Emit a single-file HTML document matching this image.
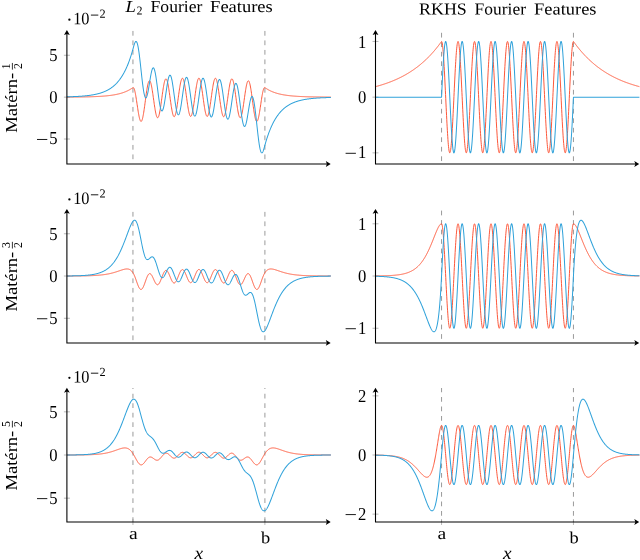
<!DOCTYPE html>
<html><head><meta charset="utf-8"><title>Fourier Features</title>
<style>
html,body{margin:0;padding:0;background:#fff;}
svg{display:block;will-change:transform;}
text{font-family:"Liberation Serif",serif;fill:#000;}
.ax{stroke:#000;stroke-width:1.08;fill:none;}
.tk{stroke:#8a8a8a;stroke-width:0.6;fill:none;}
.gd{stroke:#888888;stroke-width:0.85;fill:none;stroke-dasharray:4.75 4.75;}
.cb{stroke:#30a2da;stroke-width:1.02;fill:none;stroke-linejoin:round;}
.cr{stroke:#fc4f30;stroke-width:0.95;fill:none;stroke-linejoin:round;}
.mn{stroke:#000;stroke-width:0.9;}
</style></head>
<body>
<svg width="640" height="560" viewBox="0 0 640 560">
<rect x="0" y="0" width="640" height="560" fill="#fff"/>
<g>
<line class="gd" x1="132.95" y1="30.30" x2="132.95" y2="164.00" stroke-dashoffset="8.85"/>
<line class="gd" x1="264.90" y1="30.30" x2="264.90" y2="164.00" stroke-dashoffset="8.85"/>
<line class="tk" x1="63.90" y1="139.03" x2="69.90" y2="139.03"/>
<text x="57.60" y="144.48" transform="rotate(0.03 57.60 144.48)" font-size="18.2" text-anchor="end" textLength="8.3" lengthAdjust="spacingAndGlyphs">5</text>
<line class="mn" x1="37.00" y1="139.48" x2="47.30" y2="139.48"/>
<line class="tk" x1="63.90" y1="97.15" x2="69.90" y2="97.15"/>
<text x="57.60" y="103.30" transform="rotate(0.03 57.60 103.30)" font-size="18.2" text-anchor="end" textLength="8.3" lengthAdjust="spacingAndGlyphs">0</text>
<line class="tk" x1="63.90" y1="55.27" x2="69.90" y2="55.27"/>
<text x="57.60" y="61.42" transform="rotate(0.03 57.60 61.42)" font-size="18.2" text-anchor="end" textLength="8.3" lengthAdjust="spacingAndGlyphs">5</text>
<path class="cr" d="M66.97,97.09 L67.17,97.08 L67.37,97.08 L67.57,97.08 L67.77,97.08 L67.97,97.08 L68.17,97.08 L68.37,97.08 L68.57,97.08 L68.77,97.08 L68.97,97.08 L69.17,97.07 L69.37,97.07 L69.57,97.07 L69.77,97.07 L69.97,97.07 L70.17,97.07 L70.37,97.07 L70.57,97.07 L70.77,97.06 L70.97,97.06 L71.17,97.06 L71.37,97.06 L71.57,97.06 L71.77,97.06 L71.97,97.06 L72.17,97.05 L72.37,97.05 L72.57,97.05 L72.77,97.05 L72.97,97.05 L73.17,97.05 L73.37,97.05 L73.57,97.04 L73.77,97.04 L73.97,97.04 L74.17,97.04 L74.37,97.04 L74.57,97.04 L74.77,97.03 L74.97,97.03 L75.17,97.03 L75.37,97.03 L75.57,97.03 L75.77,97.02 L75.97,97.02 L76.17,97.02 L76.37,97.02 L76.57,97.02 L76.77,97.01 L76.97,97.01 L77.17,97.01 L77.37,97.01 L77.57,97.01 L77.77,97.00 L77.97,97.00 L78.17,97.00 L78.37,97.00 L78.57,96.99 L78.77,96.99 L78.97,96.99 L79.17,96.99 L79.37,96.99 L79.57,96.98 L79.77,96.98 L79.97,96.98 L80.17,96.97 L80.37,96.97 L80.57,96.97 L80.77,96.97 L80.97,96.96 L81.17,96.96 L81.37,96.96 L81.57,96.96 L81.77,96.95 L81.97,96.95 L82.17,96.95 L82.37,96.94 L82.57,96.94 L82.77,96.94 L82.97,96.93 L83.17,96.93 L83.37,96.93 L83.57,96.92 L83.77,96.92 L83.97,96.92 L84.17,96.91 L84.37,96.91 L84.57,96.91 L84.77,96.90 L84.97,96.90 L85.17,96.89 L85.37,96.89 L85.57,96.89 L85.77,96.88 L85.97,96.88 L86.17,96.87 L86.37,96.87 L86.57,96.87 L86.77,96.86 L86.97,96.86 L87.17,96.85 L87.37,96.85 L87.57,96.84 L87.77,96.84 L87.97,96.83 L88.17,96.83 L88.37,96.82 L88.57,96.82 L88.77,96.81 L88.97,96.81 L89.17,96.80 L89.37,96.80 L89.57,96.79 L89.77,96.79 L89.97,96.78 L90.17,96.78 L90.37,96.77 L90.57,96.76 L90.77,96.76 L90.97,96.75 L91.17,96.75 L91.37,96.74 L91.57,96.73 L91.77,96.73 L91.97,96.72 L92.17,96.72 L92.37,96.71 L92.57,96.70 L92.77,96.69 L92.97,96.69 L93.17,96.68 L93.36,96.67 L93.56,96.67 L93.76,96.66 L93.96,96.65 L94.16,96.64 L94.36,96.64 L94.56,96.63 L94.76,96.62 L94.96,96.61 L95.16,96.60 L95.36,96.60 L95.56,96.59 L95.76,96.58 L95.96,96.57 L96.16,96.56 L96.36,96.55 L96.56,96.54 L96.76,96.53 L96.96,96.52 L97.16,96.51 L97.36,96.51 L97.56,96.50 L97.76,96.49 L97.96,96.48 L98.16,96.46 L98.36,96.45 L98.56,96.44 L98.76,96.43 L98.96,96.42 L99.16,96.41 L99.36,96.40 L99.56,96.39 L99.76,96.38 L99.96,96.36 L100.16,96.35 L100.36,96.34 L100.56,96.33 L100.76,96.32 L100.96,96.30 L101.16,96.29 L101.36,96.28 L101.56,96.26 L101.76,96.25 L101.96,96.24 L102.16,96.22 L102.36,96.21 L102.56,96.19 L102.76,96.18 L102.96,96.16 L103.16,96.15 L103.36,96.13 L103.56,96.12 L103.76,96.10 L103.96,96.09 L104.16,96.07 L104.36,96.05 L104.56,96.04 L104.76,96.02 L104.96,96.00 L105.16,95.99 L105.36,95.97 L105.56,95.95 L105.76,95.93 L105.96,95.91 L106.16,95.89 L106.36,95.87 L106.56,95.86 L106.76,95.84 L106.96,95.82 L107.16,95.80 L107.36,95.77 L107.56,95.75 L107.76,95.73 L107.96,95.71 L108.16,95.69 L108.36,95.67 L108.56,95.64 L108.76,95.62 L108.96,95.60 L109.16,95.57 L109.36,95.55 L109.56,95.53 L109.76,95.50 L109.96,95.48 L110.16,95.45 L110.36,95.42 L110.56,95.40 L110.76,95.37 L110.96,95.34 L111.16,95.32 L111.36,95.29 L111.56,95.26 L111.76,95.23 L111.96,95.20 L112.16,95.17 L112.36,95.14 L112.56,95.11 L112.76,95.08 L112.96,95.05 L113.16,95.02 L113.36,94.98 L113.56,94.95 L113.76,94.92 L113.96,94.88 L114.16,94.85 L114.36,94.81 L114.56,94.78 L114.76,94.74 L114.96,94.70 L115.16,94.67 L115.36,94.63 L115.56,94.59 L115.76,94.55 L115.96,94.51 L116.16,94.47 L116.36,94.43 L116.56,94.39 L116.76,94.35 L116.96,94.30 L117.16,94.26 L117.36,94.22 L117.56,94.17 L117.76,94.13 L117.96,94.08 L118.16,94.03 L118.36,93.99 L118.56,93.94 L118.76,93.89 L118.96,93.84 L119.16,93.79 L119.36,93.74 L119.56,93.68 L119.75,93.63 L119.95,93.58 L120.15,93.52 L120.35,93.47 L120.55,93.41 L120.75,93.35 L120.95,93.30 L121.15,93.24 L121.35,93.18 L121.55,93.12 L121.75,93.06 L121.95,92.99 L122.15,92.93 L122.35,92.86 L122.55,92.80 L122.75,92.73 L122.95,92.67 L123.15,92.60 L123.35,92.53 L123.55,92.46 L123.75,92.39 L123.95,92.31 L124.15,92.24 L124.35,92.16 L124.55,92.09 L124.75,92.01 L124.95,91.93 L125.15,91.85 L125.35,91.77 L125.55,91.69 L125.75,91.61 L125.95,91.52 L126.15,91.44 L126.35,91.35 L126.55,91.26 L126.75,91.17 L126.95,91.08 L127.15,90.99 L127.35,90.89 L127.55,90.80 L127.75,90.70 L127.95,90.60 L128.15,90.50 L128.35,90.40 L128.55,90.30 L128.75,90.19 L128.95,90.09 L129.15,89.98 L129.35,89.87 L129.55,89.76 L129.75,89.64 L129.95,89.53 L130.15,89.41 L130.35,89.29 L130.55,89.17 L130.75,89.05 L130.95,88.93 L131.15,88.80 L131.35,88.68 L131.55,88.55 L131.75,88.42 L131.95,88.28 L132.15,88.15 L132.35,88.01 L132.55,87.87 L132.75,87.73 L132.95,87.58 L133.15,87.50 L133.35,87.52 L133.55,87.66 L133.75,87.90 L133.95,88.26 L134.15,88.72 L134.35,89.28 L134.55,89.94 L134.75,90.69 L134.95,91.53 L135.15,92.45 L135.35,93.44 L135.55,94.51 L135.75,95.64 L135.95,96.82 L136.15,98.06 L136.35,99.33 L136.55,100.63 L136.75,101.96 L136.95,103.31 L137.15,104.66 L137.35,106.00 L137.55,107.34 L137.75,108.66 L137.95,109.96 L138.15,111.22 L138.35,112.43 L138.55,113.60 L138.75,114.71 L138.95,115.75 L139.15,116.72 L139.35,117.62 L139.55,118.43 L139.75,119.15 L139.95,119.78 L140.15,120.32 L140.35,120.75 L140.55,121.08 L140.75,121.30 L140.95,121.41 L141.15,121.42 L141.35,121.31 L141.55,121.10 L141.75,120.78 L141.95,120.35 L142.15,119.81 L142.35,119.17 L142.55,118.43 L142.75,117.60 L142.95,116.67 L143.15,115.66 L143.35,114.57 L143.55,113.41 L143.75,112.17 L143.95,110.87 L144.15,109.52 L144.35,108.13 L144.55,106.69 L144.75,105.22 L144.95,103.73 L145.15,102.22 L145.35,100.71 L145.55,99.20 L145.75,97.70 L145.95,96.21 L146.14,94.76 L146.34,93.34 L146.54,91.96 L146.74,90.63 L146.94,89.37 L147.14,88.16 L147.34,87.03 L147.54,85.98 L147.74,85.01 L147.94,84.13 L148.14,83.34 L148.34,82.65 L148.54,82.07 L148.74,81.59 L148.94,81.21 L149.14,80.95 L149.34,80.80 L149.54,80.75 L149.74,80.82 L149.94,81.00 L150.14,81.29 L150.34,81.69 L150.54,82.20 L150.74,82.80 L150.94,83.50 L151.14,84.30 L151.34,85.19 L151.54,86.16 L151.74,87.20 L151.94,88.32 L152.14,89.51 L152.34,90.75 L152.54,92.04 L152.74,93.37 L152.94,94.74 L153.14,96.14 L153.34,97.55 L153.54,98.98 L153.74,100.40 L153.94,101.82 L154.14,103.23 L154.34,104.61 L154.54,105.96 L154.74,107.26 L154.94,108.52 L155.14,109.73 L155.34,110.87 L155.54,111.95 L155.74,112.95 L155.94,113.87 L156.14,114.70 L156.34,115.44 L156.54,116.08 L156.74,116.62 L156.94,117.06 L157.14,117.40 L157.34,117.62 L157.54,117.74 L157.74,117.74 L157.94,117.64 L158.14,117.42 L158.34,117.10 L158.54,116.67 L158.74,116.13 L158.94,115.49 L159.14,114.76 L159.34,113.93 L159.54,113.01 L159.74,112.00 L159.94,110.92 L160.14,109.76 L160.34,108.54 L160.54,107.26 L160.74,105.93 L160.94,104.56 L161.14,103.15 L161.34,101.71 L161.54,100.25 L161.74,98.78 L161.94,97.31 L162.14,95.84 L162.34,94.39 L162.54,92.95 L162.74,91.55 L162.94,90.19 L163.14,88.88 L163.34,87.61 L163.54,86.41 L163.74,85.28 L163.94,84.22 L164.14,83.24 L164.34,82.35 L164.54,81.55 L164.74,80.85 L164.94,80.24 L165.14,79.74 L165.34,79.34 L165.54,79.05 L165.74,78.88 L165.94,78.81 L166.14,78.85 L166.34,79.01 L166.54,79.27 L166.74,79.64 L166.94,80.12 L167.14,80.70 L167.34,81.39 L167.54,82.16 L167.74,83.03 L167.94,83.98 L168.14,85.02 L168.34,86.13 L168.54,87.31 L168.74,88.54 L168.94,89.83 L169.14,91.17 L169.34,92.55 L169.54,93.96 L169.74,95.38 L169.94,96.83 L170.14,98.27 L170.34,99.72 L170.54,101.15 L170.74,102.57 L170.94,103.95 L171.14,105.30 L171.34,106.61 L171.54,107.86 L171.74,109.06 L171.94,110.19 L172.14,111.24 L172.34,112.22 L172.53,113.11 L172.73,113.92 L172.93,114.63 L173.13,115.24 L173.33,115.75 L173.53,116.15 L173.73,116.45 L173.93,116.63 L174.13,116.71 L174.33,116.68 L174.53,116.53 L174.73,116.28 L174.93,115.91 L175.13,115.45 L175.33,114.87 L175.53,114.20 L175.73,113.43 L175.93,112.57 L176.13,111.62 L176.33,110.59 L176.53,109.48 L176.73,108.31 L176.93,107.07 L177.13,105.78 L177.33,104.43 L177.53,103.05 L177.73,101.64 L177.93,100.20 L178.13,98.75 L178.33,97.29 L178.53,95.83 L178.73,94.38 L178.93,92.95 L179.13,91.54 L179.33,90.17 L179.53,88.84 L179.73,87.56 L179.93,86.34 L180.13,85.18 L180.33,84.10 L180.53,83.09 L180.73,82.16 L180.93,81.32 L181.13,80.58 L181.33,79.93 L181.53,79.39 L181.73,78.95 L181.93,78.62 L182.13,78.39 L182.33,78.28 L182.53,78.27 L182.73,78.38 L182.93,78.60 L183.13,78.93 L183.33,79.36 L183.53,79.90 L183.73,80.54 L183.93,81.28 L184.13,82.11 L184.33,83.03 L184.53,84.03 L184.73,85.11 L184.93,86.26 L185.13,87.48 L185.33,88.75 L185.53,90.07 L185.73,91.44 L185.93,92.84 L186.13,94.26 L186.33,95.71 L186.53,97.16 L186.73,98.61 L186.93,100.06 L187.13,101.49 L187.33,102.90 L187.53,104.27 L187.73,105.61 L187.93,106.89 L188.13,108.12 L188.33,109.29 L188.53,110.39 L188.73,111.41 L188.93,112.36 L189.13,113.21 L189.33,113.97 L189.53,114.64 L189.73,115.21 L189.93,115.67 L190.13,116.02 L190.33,116.27 L190.53,116.41 L190.73,116.43 L190.93,116.35 L191.13,116.15 L191.33,115.85 L191.53,115.44 L191.73,114.92 L191.93,114.30 L192.13,113.59 L192.33,112.77 L192.53,111.87 L192.73,110.89 L192.93,109.82 L193.13,108.68 L193.33,107.48 L193.53,106.22 L193.73,104.90 L193.93,103.55 L194.13,102.15 L194.33,100.73 L194.53,99.29 L194.73,97.83 L194.93,96.37 L195.13,94.92 L195.33,93.48 L195.53,92.07 L195.73,90.68 L195.93,89.33 L196.13,88.03 L196.33,86.79 L196.53,85.60 L196.73,84.48 L196.93,83.43 L197.13,82.47 L197.33,81.59 L197.53,80.80 L197.73,80.11 L197.93,79.52 L198.13,79.03 L198.33,78.64 L198.53,78.37 L198.73,78.20 L198.92,78.15 L199.12,78.20 L199.32,78.37 L199.52,78.64 L199.72,79.03 L199.92,79.52 L200.12,80.11 L200.32,80.80 L200.52,81.59 L200.72,82.47 L200.92,83.43 L201.12,84.48 L201.32,85.60 L201.52,86.79 L201.72,88.03 L201.92,89.33 L202.12,90.68 L202.32,92.07 L202.52,93.48 L202.72,94.92 L202.92,96.37 L203.12,97.83 L203.32,99.29 L203.52,100.73 L203.72,102.15 L203.92,103.55 L204.12,104.90 L204.32,106.22 L204.52,107.48 L204.72,108.68 L204.92,109.82 L205.12,110.89 L205.32,111.87 L205.52,112.77 L205.72,113.59 L205.92,114.30 L206.12,114.92 L206.32,115.44 L206.52,115.85 L206.72,116.15 L206.92,116.35 L207.12,116.43 L207.32,116.41 L207.52,116.27 L207.72,116.02 L207.92,115.67 L208.12,115.21 L208.32,114.64 L208.52,113.97 L208.72,113.21 L208.92,112.36 L209.12,111.41 L209.32,110.39 L209.52,109.29 L209.72,108.12 L209.92,106.89 L210.12,105.61 L210.32,104.27 L210.52,102.90 L210.72,101.49 L210.92,100.06 L211.12,98.61 L211.32,97.16 L211.52,95.71 L211.72,94.26 L211.92,92.84 L212.12,91.44 L212.32,90.07 L212.52,88.75 L212.72,87.48 L212.92,86.26 L213.12,85.11 L213.32,84.03 L213.52,83.03 L213.72,82.11 L213.92,81.28 L214.12,80.54 L214.32,79.90 L214.52,79.36 L214.72,78.93 L214.92,78.60 L215.12,78.38 L215.32,78.27 L215.52,78.28 L215.72,78.39 L215.92,78.62 L216.12,78.95 L216.32,79.39 L216.52,79.93 L216.72,80.58 L216.92,81.32 L217.12,82.16 L217.32,83.09 L217.52,84.10 L217.72,85.18 L217.92,86.34 L218.12,87.56 L218.32,88.84 L218.52,90.17 L218.72,91.54 L218.92,92.95 L219.12,94.38 L219.32,95.83 L219.52,97.29 L219.72,98.75 L219.92,100.20 L220.12,101.64 L220.32,103.05 L220.52,104.43 L220.72,105.78 L220.92,107.07 L221.12,108.31 L221.32,109.48 L221.52,110.59 L221.72,111.62 L221.92,112.57 L222.12,113.43 L222.32,114.20 L222.52,114.87 L222.72,115.45 L222.92,115.91 L223.12,116.28 L223.32,116.53 L223.52,116.68 L223.72,116.71 L223.92,116.63 L224.12,116.45 L224.32,116.15 L224.52,115.75 L224.72,115.24 L224.92,114.63 L225.12,113.92 L225.31,113.11 L225.51,112.22 L225.71,111.24 L225.91,110.19 L226.11,109.06 L226.31,107.86 L226.51,106.61 L226.71,105.30 L226.91,103.95 L227.11,102.57 L227.31,101.15 L227.51,99.72 L227.71,98.27 L227.91,96.83 L228.11,95.38 L228.31,93.96 L228.51,92.55 L228.71,91.17 L228.91,89.83 L229.11,88.54 L229.31,87.31 L229.51,86.13 L229.71,85.02 L229.91,83.98 L230.11,83.03 L230.31,82.16 L230.51,81.39 L230.71,80.70 L230.91,80.12 L231.11,79.64 L231.31,79.27 L231.51,79.01 L231.71,78.85 L231.91,78.81 L232.11,78.88 L232.31,79.05 L232.51,79.34 L232.71,79.74 L232.91,80.24 L233.11,80.85 L233.31,81.55 L233.51,82.35 L233.71,83.24 L233.91,84.22 L234.11,85.28 L234.31,86.41 L234.51,87.61 L234.71,88.88 L234.91,90.19 L235.11,91.55 L235.31,92.95 L235.51,94.39 L235.71,95.84 L235.91,97.31 L236.11,98.78 L236.31,100.25 L236.51,101.71 L236.71,103.15 L236.91,104.56 L237.11,105.93 L237.31,107.26 L237.51,108.54 L237.71,109.76 L237.91,110.92 L238.11,112.00 L238.31,113.01 L238.51,113.93 L238.71,114.76 L238.91,115.49 L239.11,116.13 L239.31,116.67 L239.51,117.10 L239.71,117.42 L239.91,117.64 L240.11,117.74 L240.31,117.74 L240.51,117.62 L240.71,117.40 L240.91,117.06 L241.11,116.62 L241.31,116.08 L241.51,115.44 L241.71,114.70 L241.91,113.87 L242.11,112.95 L242.31,111.95 L242.51,110.87 L242.71,109.73 L242.91,108.52 L243.11,107.26 L243.31,105.96 L243.51,104.61 L243.71,103.23 L243.91,101.82 L244.11,100.40 L244.31,98.98 L244.51,97.55 L244.71,96.14 L244.91,94.74 L245.11,93.37 L245.31,92.04 L245.51,90.75 L245.71,89.51 L245.91,88.32 L246.11,87.20 L246.31,86.16 L246.51,85.19 L246.71,84.30 L246.91,83.50 L247.11,82.80 L247.31,82.20 L247.51,81.69 L247.71,81.29 L247.91,81.00 L248.11,80.82 L248.31,80.75 L248.51,80.80 L248.71,80.95 L248.91,81.21 L249.11,81.59 L249.31,82.07 L249.51,82.65 L249.71,83.34 L249.91,84.13 L250.11,85.01 L250.31,85.98 L250.51,87.03 L250.71,88.16 L250.91,89.37 L251.11,90.63 L251.31,91.96 L251.51,93.34 L251.70,94.76 L251.90,96.21 L252.10,97.70 L252.30,99.20 L252.50,100.71 L252.70,102.22 L252.90,103.73 L253.10,105.22 L253.30,106.69 L253.50,108.13 L253.70,109.52 L253.90,110.87 L254.10,112.17 L254.30,113.41 L254.50,114.57 L254.70,115.66 L254.90,116.67 L255.10,117.60 L255.30,118.43 L255.50,119.17 L255.70,119.81 L255.90,120.35 L256.10,120.78 L256.30,121.10 L256.50,121.31 L256.70,121.42 L256.90,121.41 L257.10,121.30 L257.30,121.08 L257.50,120.75 L257.70,120.32 L257.90,119.78 L258.10,119.15 L258.30,118.43 L258.50,117.62 L258.70,116.72 L258.90,115.75 L259.10,114.71 L259.30,113.60 L259.50,112.43 L259.70,111.22 L259.90,109.96 L260.10,108.66 L260.30,107.34 L260.50,106.00 L260.70,104.66 L260.90,103.31 L261.10,101.96 L261.30,100.63 L261.50,99.33 L261.70,98.06 L261.90,96.82 L262.10,95.64 L262.30,94.51 L262.50,93.44 L262.70,92.45 L262.90,91.53 L263.10,90.69 L263.30,89.94 L263.50,89.28 L263.70,88.72 L263.90,88.26 L264.10,87.90 L264.30,87.66 L264.50,87.52 L264.70,87.50 L264.90,87.58 L265.10,87.73 L265.30,87.87 L265.50,88.01 L265.70,88.15 L265.90,88.28 L266.10,88.42 L266.30,88.55 L266.50,88.68 L266.70,88.80 L266.90,88.93 L267.10,89.05 L267.30,89.17 L267.50,89.29 L267.70,89.41 L267.90,89.53 L268.10,89.64 L268.30,89.76 L268.50,89.87 L268.70,89.98 L268.90,90.09 L269.10,90.19 L269.30,90.30 L269.50,90.40 L269.70,90.50 L269.90,90.60 L270.10,90.70 L270.30,90.80 L270.50,90.89 L270.70,90.99 L270.90,91.08 L271.10,91.17 L271.30,91.26 L271.50,91.35 L271.70,91.44 L271.90,91.52 L272.10,91.61 L272.30,91.69 L272.50,91.77 L272.70,91.85 L272.90,91.93 L273.10,92.01 L273.30,92.09 L273.50,92.16 L273.70,92.24 L273.90,92.31 L274.10,92.39 L274.30,92.46 L274.50,92.53 L274.70,92.60 L274.90,92.67 L275.10,92.73 L275.30,92.80 L275.50,92.86 L275.70,92.93 L275.90,92.99 L276.10,93.06 L276.30,93.12 L276.50,93.18 L276.70,93.24 L276.90,93.30 L277.10,93.35 L277.30,93.41 L277.50,93.47 L277.70,93.52 L277.90,93.58 L278.09,93.63 L278.29,93.68 L278.49,93.74 L278.69,93.79 L278.89,93.84 L279.09,93.89 L279.29,93.94 L279.49,93.99 L279.69,94.03 L279.89,94.08 L280.09,94.13 L280.29,94.17 L280.49,94.22 L280.69,94.26 L280.89,94.30 L281.09,94.35 L281.29,94.39 L281.49,94.43 L281.69,94.47 L281.89,94.51 L282.09,94.55 L282.29,94.59 L282.49,94.63 L282.69,94.67 L282.89,94.70 L283.09,94.74 L283.29,94.78 L283.49,94.81 L283.69,94.85 L283.89,94.88 L284.09,94.92 L284.29,94.95 L284.49,94.98 L284.69,95.02 L284.89,95.05 L285.09,95.08 L285.29,95.11 L285.49,95.14 L285.69,95.17 L285.89,95.20 L286.09,95.23 L286.29,95.26 L286.49,95.29 L286.69,95.32 L286.89,95.34 L287.09,95.37 L287.29,95.40 L287.49,95.42 L287.69,95.45 L287.89,95.48 L288.09,95.50 L288.29,95.53 L288.49,95.55 L288.69,95.57 L288.89,95.60 L289.09,95.62 L289.29,95.64 L289.49,95.67 L289.69,95.69 L289.89,95.71 L290.09,95.73 L290.29,95.75 L290.49,95.77 L290.69,95.80 L290.89,95.82 L291.09,95.84 L291.29,95.86 L291.49,95.87 L291.69,95.89 L291.89,95.91 L292.09,95.93 L292.29,95.95 L292.49,95.97 L292.69,95.99 L292.89,96.00 L293.09,96.02 L293.29,96.04 L293.49,96.05 L293.69,96.07 L293.89,96.09 L294.09,96.10 L294.29,96.12 L294.49,96.13 L294.69,96.15 L294.89,96.16 L295.09,96.18 L295.29,96.19 L295.49,96.21 L295.69,96.22 L295.89,96.24 L296.09,96.25 L296.29,96.26 L296.49,96.28 L296.69,96.29 L296.89,96.30 L297.09,96.32 L297.29,96.33 L297.49,96.34 L297.69,96.35 L297.89,96.36 L298.09,96.38 L298.29,96.39 L298.49,96.40 L298.69,96.41 L298.89,96.42 L299.09,96.43 L299.29,96.44 L299.49,96.45 L299.69,96.46 L299.89,96.48 L300.09,96.49 L300.29,96.50 L300.49,96.51 L300.69,96.51 L300.89,96.52 L301.09,96.53 L301.29,96.54 L301.49,96.55 L301.69,96.56 L301.89,96.57 L302.09,96.58 L302.29,96.59 L302.49,96.60 L302.69,96.60 L302.89,96.61 L303.09,96.62 L303.29,96.63 L303.49,96.64 L303.69,96.64 L303.89,96.65 L304.09,96.66 L304.29,96.67 L304.48,96.67 L304.68,96.68 L304.88,96.69 L305.08,96.69 L305.28,96.70 L305.48,96.71 L305.68,96.72 L305.88,96.72 L306.08,96.73 L306.28,96.73 L306.48,96.74 L306.68,96.75 L306.88,96.75 L307.08,96.76 L307.28,96.76 L307.48,96.77 L307.68,96.78 L307.88,96.78 L308.08,96.79 L308.28,96.79 L308.48,96.80 L308.68,96.80 L308.88,96.81 L309.08,96.81 L309.28,96.82 L309.48,96.82 L309.68,96.83 L309.88,96.83 L310.08,96.84 L310.28,96.84 L310.48,96.85 L310.68,96.85 L310.88,96.86 L311.08,96.86 L311.28,96.87 L311.48,96.87 L311.68,96.87 L311.88,96.88 L312.08,96.88 L312.28,96.89 L312.48,96.89 L312.68,96.89 L312.88,96.90 L313.08,96.90 L313.28,96.91 L313.48,96.91 L313.68,96.91 L313.88,96.92 L314.08,96.92 L314.28,96.92 L314.48,96.93 L314.68,96.93 L314.88,96.93 L315.08,96.94 L315.28,96.94 L315.48,96.94 L315.68,96.95 L315.88,96.95 L316.08,96.95 L316.28,96.96 L316.48,96.96 L316.68,96.96 L316.88,96.96 L317.08,96.97 L317.28,96.97 L317.48,96.97 L317.68,96.97 L317.88,96.98 L318.08,96.98 L318.28,96.98 L318.48,96.99 L318.68,96.99 L318.88,96.99 L319.08,96.99 L319.28,96.99 L319.48,97.00 L319.68,97.00 L319.88,97.00 L320.08,97.00 L320.28,97.01 L320.48,97.01 L320.68,97.01 L320.88,97.01 L321.08,97.01 L321.28,97.02 L321.48,97.02 L321.68,97.02 L321.88,97.02 L322.08,97.02 L322.28,97.03 L322.48,97.03 L322.68,97.03 L322.88,97.03 L323.08,97.03 L323.28,97.04 L323.48,97.04 L323.68,97.04 L323.88,97.04 L324.08,97.04 L324.28,97.04 L324.48,97.05 L324.68,97.05 L324.88,97.05 L325.08,97.05 L325.28,97.05 L325.48,97.05 L325.68,97.05 L325.88,97.06 L326.08,97.06 L326.28,97.06 L326.48,97.06 L326.68,97.06 L326.88,97.06 L327.08,97.06 L327.28,97.07 L327.48,97.07 L327.68,97.07 L327.88,97.07 L328.08,97.07 L328.28,97.07 L328.48,97.07 L328.68,97.07 L328.88,97.08 L329.08,97.08 L329.28,97.08 L329.48,97.08 L329.68,97.08 L329.88,97.08 L330.08,97.08 L330.28,97.08 L330.48,97.08 L330.68,97.08 L330.88,97.09"/>
<path class="cb" d="M66.97,96.83 L67.17,96.82 L67.37,96.82 L67.57,96.81 L67.77,96.81 L67.97,96.80 L68.17,96.80 L68.37,96.79 L68.57,96.78 L68.77,96.78 L68.97,96.77 L69.17,96.77 L69.37,96.76 L69.57,96.76 L69.77,96.75 L69.97,96.74 L70.17,96.74 L70.37,96.73 L70.57,96.72 L70.77,96.72 L70.97,96.71 L71.17,96.70 L71.37,96.70 L71.57,96.69 L71.77,96.68 L71.97,96.68 L72.17,96.67 L72.37,96.66 L72.57,96.65 L72.77,96.65 L72.97,96.64 L73.17,96.63 L73.37,96.62 L73.57,96.62 L73.77,96.61 L73.97,96.60 L74.17,96.59 L74.37,96.58 L74.57,96.57 L74.77,96.57 L74.97,96.56 L75.17,96.55 L75.37,96.54 L75.57,96.53 L75.77,96.52 L75.97,96.51 L76.17,96.50 L76.37,96.49 L76.57,96.48 L76.77,96.47 L76.97,96.46 L77.17,96.45 L77.37,96.44 L77.57,96.43 L77.77,96.42 L77.97,96.40 L78.17,96.39 L78.37,96.38 L78.57,96.37 L78.77,96.36 L78.97,96.35 L79.17,96.33 L79.37,96.32 L79.57,96.31 L79.77,96.30 L79.97,96.28 L80.17,96.27 L80.37,96.26 L80.57,96.24 L80.77,96.23 L80.97,96.21 L81.17,96.20 L81.37,96.19 L81.57,96.17 L81.77,96.16 L81.97,96.14 L82.17,96.13 L82.37,96.11 L82.57,96.09 L82.77,96.08 L82.97,96.06 L83.17,96.04 L83.37,96.03 L83.57,96.01 L83.77,95.99 L83.97,95.98 L84.17,95.96 L84.37,95.94 L84.57,95.92 L84.77,95.90 L84.97,95.88 L85.17,95.86 L85.37,95.84 L85.57,95.82 L85.77,95.80 L85.97,95.78 L86.17,95.76 L86.37,95.74 L86.57,95.72 L86.77,95.70 L86.97,95.68 L87.17,95.65 L87.37,95.63 L87.57,95.61 L87.77,95.58 L87.97,95.56 L88.17,95.54 L88.37,95.51 L88.57,95.49 L88.77,95.46 L88.97,95.43 L89.17,95.41 L89.37,95.38 L89.57,95.35 L89.77,95.33 L89.97,95.30 L90.17,95.27 L90.37,95.24 L90.57,95.21 L90.77,95.18 L90.97,95.15 L91.17,95.12 L91.37,95.09 L91.57,95.06 L91.77,95.03 L91.97,95.00 L92.17,94.96 L92.37,94.93 L92.57,94.90 L92.77,94.86 L92.97,94.83 L93.17,94.79 L93.36,94.76 L93.56,94.72 L93.76,94.68 L93.96,94.64 L94.16,94.61 L94.36,94.57 L94.56,94.53 L94.76,94.49 L94.96,94.45 L95.16,94.41 L95.36,94.36 L95.56,94.32 L95.76,94.28 L95.96,94.24 L96.16,94.19 L96.36,94.15 L96.56,94.10 L96.76,94.05 L96.96,94.01 L97.16,93.96 L97.36,93.91 L97.56,93.86 L97.76,93.81 L97.96,93.76 L98.16,93.71 L98.36,93.65 L98.56,93.60 L98.76,93.55 L98.96,93.49 L99.16,93.44 L99.36,93.38 L99.56,93.32 L99.76,93.26 L99.96,93.20 L100.16,93.14 L100.36,93.08 L100.56,93.02 L100.76,92.96 L100.96,92.89 L101.16,92.83 L101.36,92.76 L101.56,92.69 L101.76,92.63 L101.96,92.56 L102.16,92.49 L102.36,92.42 L102.56,92.34 L102.76,92.27 L102.96,92.20 L103.16,92.12 L103.36,92.04 L103.56,91.97 L103.76,91.89 L103.96,91.81 L104.16,91.72 L104.36,91.64 L104.56,91.56 L104.76,91.47 L104.96,91.39 L105.16,91.30 L105.36,91.21 L105.56,91.12 L105.76,91.03 L105.96,90.93 L106.16,90.84 L106.36,90.74 L106.56,90.64 L106.76,90.54 L106.96,90.44 L107.16,90.34 L107.36,90.24 L107.56,90.13 L107.76,90.02 L107.96,89.91 L108.16,89.80 L108.36,89.69 L108.56,89.58 L108.76,89.46 L108.96,89.35 L109.16,89.23 L109.36,89.11 L109.56,88.98 L109.76,88.86 L109.96,88.73 L110.16,88.60 L110.36,88.47 L110.56,88.34 L110.76,88.21 L110.96,88.07 L111.16,87.93 L111.36,87.79 L111.56,87.65 L111.76,87.50 L111.96,87.35 L112.16,87.20 L112.36,87.05 L112.56,86.90 L112.76,86.74 L112.96,86.58 L113.16,86.42 L113.36,86.26 L113.56,86.09 L113.76,85.92 L113.96,85.75 L114.16,85.58 L114.36,85.40 L114.56,85.22 L114.76,85.04 L114.96,84.85 L115.16,84.67 L115.36,84.48 L115.56,84.28 L115.76,84.09 L115.96,83.89 L116.16,83.68 L116.36,83.48 L116.56,83.27 L116.76,83.06 L116.96,82.84 L117.16,82.62 L117.36,82.40 L117.56,82.18 L117.76,81.95 L117.96,81.72 L118.16,81.48 L118.36,81.24 L118.56,81.00 L118.76,80.75 L118.96,80.50 L119.16,80.25 L119.36,79.99 L119.56,79.73 L119.75,79.46 L119.95,79.19 L120.15,78.92 L120.35,78.64 L120.55,78.36 L120.75,78.07 L120.95,77.78 L121.15,77.48 L121.35,77.18 L121.55,76.88 L121.75,76.57 L121.95,76.25 L122.15,75.93 L122.35,75.61 L122.55,75.28 L122.75,74.95 L122.95,74.61 L123.15,74.27 L123.35,73.92 L123.55,73.56 L123.75,73.20 L123.95,72.84 L124.15,72.46 L124.35,72.09 L124.55,71.70 L124.75,71.32 L124.95,70.92 L125.15,70.52 L125.35,70.11 L125.55,69.70 L125.75,69.28 L125.95,68.86 L126.15,68.43 L126.35,67.99 L126.55,67.54 L126.75,67.09 L126.95,66.63 L127.15,66.17 L127.35,65.69 L127.55,65.21 L127.75,64.72 L127.95,64.23 L128.15,63.73 L128.35,63.22 L128.55,62.70 L128.75,62.17 L128.95,61.64 L129.15,61.10 L129.35,60.55 L129.55,59.99 L129.75,59.42 L129.95,58.84 L130.15,58.26 L130.35,57.66 L130.55,57.06 L130.75,56.45 L130.95,55.83 L131.15,55.20 L131.35,54.56 L131.55,53.91 L131.75,53.25 L131.95,52.58 L132.15,51.90 L132.35,51.21 L132.55,50.50 L132.75,49.79 L132.95,49.07 L133.15,48.34 L133.35,47.60 L133.55,46.87 L133.75,46.16 L133.95,45.47 L134.15,44.81 L134.35,44.18 L134.55,43.61 L134.75,43.09 L134.95,42.63 L135.15,42.23 L135.35,41.91 L135.55,41.67 L135.75,41.51 L135.95,41.44 L136.15,41.46 L136.35,41.58 L136.55,41.80 L136.75,42.11 L136.95,42.53 L137.15,43.05 L137.35,43.67 L137.55,44.40 L137.75,45.23 L137.95,46.15 L138.15,47.18 L138.35,48.29 L138.55,49.50 L138.75,50.80 L138.95,52.17 L139.15,53.63 L139.35,55.15 L139.55,56.74 L139.75,58.39 L139.95,60.09 L140.15,61.84 L140.35,63.62 L140.55,65.43 L140.75,67.26 L140.95,69.11 L141.15,70.95 L141.35,72.80 L141.55,74.63 L141.75,76.45 L141.95,78.23 L142.15,79.98 L142.35,81.68 L142.55,83.33 L142.75,84.92 L142.95,86.44 L143.15,87.89 L143.35,89.26 L143.55,90.54 L143.75,91.73 L143.95,92.83 L144.15,93.82 L144.35,94.71 L144.55,95.49 L144.75,96.16 L144.95,96.72 L145.15,97.16 L145.35,97.49 L145.55,97.71 L145.75,97.80 L145.95,97.79 L146.14,97.66 L146.34,97.43 L146.54,97.08 L146.74,96.64 L146.94,96.09 L147.14,95.45 L147.34,94.72 L147.54,93.91 L147.74,93.03 L147.94,92.07 L148.14,91.04 L148.34,89.97 L148.54,88.84 L148.74,87.67 L148.94,86.47 L149.14,85.25 L149.34,84.01 L149.54,82.76 L149.74,81.51 L149.94,80.27 L150.14,79.05 L150.34,77.86 L150.54,76.70 L150.74,75.59 L150.94,74.52 L151.14,73.51 L151.34,72.56 L151.54,71.69 L151.74,70.89 L151.94,70.18 L152.14,69.55 L152.34,69.01 L152.54,68.57 L152.74,68.24 L152.94,68.00 L153.14,67.87 L153.34,67.85 L153.54,67.93 L153.74,68.13 L153.94,68.43 L154.14,68.84 L154.34,69.35 L154.54,69.97 L154.74,70.69 L154.94,71.51 L155.14,72.42 L155.34,73.43 L155.54,74.51 L155.74,75.68 L155.94,76.92 L156.14,78.22 L156.34,79.59 L156.54,81.01 L156.74,82.47 L156.94,83.97 L157.14,85.50 L157.34,87.05 L157.54,88.61 L157.74,90.18 L157.94,91.75 L158.14,93.30 L158.34,94.83 L158.54,96.34 L158.74,97.80 L158.94,99.22 L159.14,100.59 L159.34,101.90 L159.54,103.15 L159.74,104.32 L159.94,105.41 L160.14,106.41 L160.34,107.33 L160.54,108.15 L160.74,108.87 L160.94,109.48 L161.14,109.99 L161.34,110.40 L161.54,110.69 L161.74,110.87 L161.94,110.94 L162.14,110.89 L162.34,110.74 L162.54,110.47 L162.74,110.10 L162.94,109.62 L163.14,109.04 L163.34,108.36 L163.54,107.59 L163.74,106.73 L163.94,105.78 L164.14,104.76 L164.34,103.67 L164.54,102.51 L164.74,101.29 L164.94,100.03 L165.14,98.72 L165.34,97.38 L165.54,96.01 L165.74,94.62 L165.94,93.23 L166.14,91.83 L166.34,90.45 L166.54,89.07 L166.74,87.72 L166.94,86.41 L167.14,85.13 L167.34,83.91 L167.54,82.73 L167.74,81.63 L167.94,80.59 L168.14,79.62 L168.34,78.74 L168.54,77.95 L168.74,77.24 L168.94,76.64 L169.14,76.13 L169.34,75.73 L169.54,75.43 L169.74,75.24 L169.94,75.16 L170.14,75.19 L170.34,75.33 L170.54,75.58 L170.74,75.94 L170.94,76.41 L171.14,76.98 L171.34,77.65 L171.54,78.42 L171.74,79.28 L171.94,80.23 L172.14,81.26 L172.34,82.37 L172.53,83.55 L172.73,84.80 L172.93,86.11 L173.13,87.46 L173.33,88.86 L173.53,90.29 L173.73,91.75 L173.93,93.23 L174.13,94.71 L174.33,96.20 L174.53,97.69 L174.73,99.15 L174.93,100.60 L175.13,102.01 L175.33,103.38 L175.53,104.71 L175.73,105.98 L175.93,107.18 L176.13,108.32 L176.33,109.38 L176.53,110.37 L176.73,111.26 L176.93,112.06 L177.13,112.77 L177.33,113.38 L177.53,113.88 L177.73,114.28 L177.93,114.56 L178.13,114.74 L178.33,114.81 L178.53,114.76 L178.73,114.61 L178.93,114.34 L179.13,113.97 L179.33,113.49 L179.53,112.90 L179.73,112.22 L179.93,111.44 L180.13,110.58 L180.33,109.62 L180.53,108.59 L180.73,107.48 L180.93,106.31 L181.13,105.08 L181.33,103.79 L181.53,102.46 L181.73,101.09 L181.93,99.69 L182.13,98.26 L182.33,96.83 L182.53,95.39 L182.73,93.96 L182.93,92.54 L183.13,91.14 L183.33,89.76 L183.53,88.43 L183.73,87.14 L183.93,85.90 L184.13,84.72 L184.33,83.61 L184.53,82.57 L184.73,81.62 L184.93,80.74 L185.13,79.96 L185.33,79.27 L185.53,78.68 L185.73,78.19 L185.93,77.81 L186.13,77.54 L186.33,77.37 L186.53,77.32 L186.73,77.37 L186.93,77.54 L187.13,77.82 L187.33,78.20 L187.53,78.69 L187.73,79.28 L187.93,79.98 L188.13,80.77 L188.33,81.65 L188.53,82.61 L188.73,83.66 L188.93,84.78 L189.13,85.98 L189.33,87.23 L189.53,88.54 L189.73,89.89 L189.93,91.28 L190.13,92.71 L190.33,94.15 L190.53,95.62 L190.73,97.09 L190.93,98.55 L191.13,100.01 L191.33,101.44 L191.53,102.85 L191.73,104.23 L191.93,105.56 L192.13,106.84 L192.33,108.06 L192.53,109.21 L192.73,110.30 L192.93,111.30 L193.13,112.23 L193.33,113.06 L193.53,113.80 L193.73,114.44 L193.93,114.98 L194.13,115.41 L194.33,115.74 L194.53,115.96 L194.73,116.06 L194.93,116.06 L195.13,115.95 L195.33,115.72 L195.53,115.39 L195.73,114.95 L195.93,114.40 L196.13,113.76 L196.33,113.02 L196.53,112.18 L196.73,111.26 L196.93,110.25 L197.13,109.17 L197.33,108.02 L197.53,106.80 L197.73,105.53 L197.93,104.21 L198.13,102.85 L198.33,101.45 L198.53,100.03 L198.73,98.60 L198.92,97.15 L199.12,95.70 L199.32,94.27 L199.52,92.85 L199.72,91.45 L199.92,90.09 L200.12,88.77 L200.32,87.50 L200.52,86.28 L200.72,85.13 L200.92,84.05 L201.12,83.04 L201.32,82.12 L201.52,81.28 L201.72,80.54 L201.92,79.90 L202.12,79.35 L202.32,78.91 L202.52,78.58 L202.72,78.35 L202.92,78.24 L203.12,78.24 L203.32,78.34 L203.52,78.56 L203.72,78.89 L203.92,79.32 L204.12,79.86 L204.32,80.50 L204.52,81.24 L204.72,82.07 L204.92,83.00 L205.12,84.00 L205.32,85.09 L205.52,86.24 L205.72,87.46 L205.92,88.74 L206.12,90.07 L206.32,91.45 L206.52,92.86 L206.72,94.29 L206.92,95.75 L207.12,97.21 L207.32,98.68 L207.52,100.15 L207.72,101.59 L207.92,103.02 L208.12,104.41 L208.32,105.76 L208.52,107.07 L208.72,108.32 L208.92,109.52 L209.12,110.64 L209.32,111.69 L209.52,112.65 L209.72,113.53 L209.92,114.32 L210.12,115.02 L210.32,115.61 L210.52,116.10 L210.72,116.48 L210.92,116.76 L211.12,116.93 L211.32,116.98 L211.52,116.93 L211.72,116.76 L211.92,116.49 L212.12,116.11 L212.32,115.62 L212.52,115.03 L212.72,114.34 L212.92,113.56 L213.12,112.68 L213.32,111.73 L213.52,110.69 L213.72,109.58 L213.92,108.40 L214.12,107.16 L214.32,105.87 L214.52,104.54 L214.72,103.16 L214.92,101.76 L215.12,100.34 L215.32,98.91 L215.52,97.47 L215.72,96.04 L215.92,94.61 L216.12,93.21 L216.32,91.84 L216.52,90.51 L216.72,89.22 L216.92,87.99 L217.12,86.82 L217.32,85.71 L217.52,84.68 L217.72,83.72 L217.92,82.86 L218.12,82.08 L218.32,81.40 L218.52,80.81 L218.72,80.33 L218.92,79.96 L219.12,79.69 L219.32,79.54 L219.52,79.49 L219.72,79.56 L219.92,79.74 L220.12,80.02 L220.32,80.42 L220.52,80.92 L220.72,81.53 L220.92,82.24 L221.12,83.04 L221.32,83.93 L221.52,84.92 L221.72,85.98 L221.92,87.12 L222.12,88.32 L222.32,89.59 L222.52,90.92 L222.72,92.29 L222.92,93.70 L223.12,95.15 L223.32,96.61 L223.52,98.10 L223.72,99.59 L223.92,101.07 L224.12,102.55 L224.32,104.01 L224.52,105.44 L224.72,106.84 L224.92,108.19 L225.12,109.50 L225.31,110.75 L225.51,111.93 L225.71,113.04 L225.91,114.07 L226.11,115.02 L226.31,115.88 L226.51,116.65 L226.71,117.32 L226.91,117.89 L227.11,118.36 L227.31,118.72 L227.51,118.97 L227.71,119.11 L227.91,119.14 L228.11,119.06 L228.31,118.87 L228.51,118.57 L228.71,118.17 L228.91,117.66 L229.11,117.06 L229.31,116.35 L229.51,115.56 L229.71,114.68 L229.91,113.71 L230.11,112.67 L230.31,111.57 L230.51,110.39 L230.71,109.17 L230.91,107.89 L231.11,106.58 L231.31,105.23 L231.51,103.85 L231.71,102.47 L231.91,101.07 L232.11,99.68 L232.31,98.29 L232.51,96.92 L232.71,95.58 L232.91,94.27 L233.11,93.01 L233.31,91.79 L233.51,90.63 L233.71,89.54 L233.91,88.52 L234.11,87.57 L234.31,86.71 L234.51,85.94 L234.71,85.26 L234.91,84.68 L235.11,84.20 L235.31,83.83 L235.51,83.56 L235.71,83.41 L235.91,83.36 L236.11,83.43 L236.31,83.61 L236.51,83.90 L236.71,84.31 L236.91,84.82 L237.11,85.43 L237.31,86.15 L237.51,86.97 L237.71,87.89 L237.91,88.89 L238.11,89.98 L238.31,91.15 L238.51,92.40 L238.71,93.71 L238.91,95.08 L239.11,96.50 L239.31,97.96 L239.51,99.47 L239.71,101.00 L239.91,102.55 L240.11,104.12 L240.31,105.69 L240.51,107.25 L240.71,108.80 L240.91,110.33 L241.11,111.83 L241.31,113.29 L241.51,114.71 L241.71,116.08 L241.91,117.38 L242.11,118.62 L242.31,119.79 L242.51,120.87 L242.71,121.88 L242.91,122.79 L243.11,123.61 L243.31,124.33 L243.51,124.95 L243.71,125.46 L243.91,125.87 L244.11,126.17 L244.31,126.37 L244.51,126.45 L244.71,126.43 L244.91,126.30 L245.11,126.06 L245.31,125.73 L245.51,125.29 L245.71,124.75 L245.91,124.12 L246.11,123.41 L246.31,122.61 L246.51,121.74 L246.71,120.79 L246.91,119.78 L247.11,118.71 L247.31,117.60 L247.51,116.44 L247.71,115.25 L247.91,114.03 L248.11,112.79 L248.31,111.54 L248.51,110.29 L248.71,109.05 L248.91,107.83 L249.11,106.63 L249.31,105.46 L249.51,104.33 L249.71,103.26 L249.91,102.23 L250.11,101.27 L250.31,100.39 L250.51,99.58 L250.71,98.85 L250.91,98.21 L251.11,97.66 L251.31,97.22 L251.51,96.87 L251.70,96.64 L251.90,96.51 L252.10,96.50 L252.30,96.59 L252.50,96.81 L252.70,97.14 L252.90,97.58 L253.10,98.14 L253.30,98.81 L253.50,99.59 L253.70,100.48 L253.90,101.47 L254.10,102.57 L254.30,103.76 L254.50,105.04 L254.70,106.41 L254.90,107.86 L255.10,109.38 L255.30,110.97 L255.50,112.62 L255.70,114.32 L255.90,116.07 L256.10,117.85 L256.30,119.67 L256.50,121.50 L256.70,123.35 L256.90,125.19 L257.10,127.04 L257.30,128.87 L257.50,130.68 L257.70,132.46 L257.90,134.21 L258.10,135.91 L258.30,137.56 L258.50,139.15 L258.70,140.67 L258.90,142.13 L259.10,143.50 L259.30,144.80 L259.50,146.01 L259.70,147.12 L259.90,148.15 L260.10,149.07 L260.30,149.90 L260.50,150.63 L260.70,151.25 L260.90,151.77 L261.10,152.19 L261.30,152.50 L261.50,152.72 L261.70,152.84 L261.90,152.86 L262.10,152.79 L262.30,152.63 L262.50,152.39 L262.70,152.07 L262.90,151.67 L263.10,151.21 L263.30,150.69 L263.50,150.12 L263.70,149.49 L263.90,148.83 L264.10,148.14 L264.30,147.43 L264.50,146.70 L264.70,145.96 L264.90,145.23 L265.10,144.51 L265.30,143.80 L265.50,143.09 L265.70,142.40 L265.90,141.72 L266.10,141.05 L266.30,140.39 L266.50,139.74 L266.70,139.10 L266.90,138.47 L267.10,137.85 L267.30,137.24 L267.50,136.64 L267.70,136.04 L267.90,135.46 L268.10,134.88 L268.30,134.31 L268.50,133.75 L268.70,133.20 L268.90,132.66 L269.10,132.13 L269.30,131.60 L269.50,131.08 L269.70,130.57 L269.90,130.07 L270.10,129.58 L270.30,129.09 L270.50,128.61 L270.70,128.13 L270.90,127.67 L271.10,127.21 L271.30,126.76 L271.50,126.31 L271.70,125.87 L271.90,125.44 L272.10,125.02 L272.30,124.60 L272.50,124.19 L272.70,123.78 L272.90,123.38 L273.10,122.98 L273.30,122.60 L273.50,122.21 L273.70,121.84 L273.90,121.46 L274.10,121.10 L274.30,120.74 L274.50,120.38 L274.70,120.03 L274.90,119.69 L275.10,119.35 L275.30,119.02 L275.50,118.69 L275.70,118.37 L275.90,118.05 L276.10,117.73 L276.30,117.42 L276.50,117.12 L276.70,116.82 L276.90,116.52 L277.10,116.23 L277.30,115.94 L277.50,115.66 L277.70,115.38 L277.90,115.11 L278.09,114.84 L278.29,114.57 L278.49,114.31 L278.69,114.05 L278.89,113.80 L279.09,113.55 L279.29,113.30 L279.49,113.06 L279.69,112.82 L279.89,112.58 L280.09,112.35 L280.29,112.12 L280.49,111.90 L280.69,111.68 L280.89,111.46 L281.09,111.24 L281.29,111.03 L281.49,110.82 L281.69,110.62 L281.89,110.41 L282.09,110.21 L282.29,110.02 L282.49,109.82 L282.69,109.63 L282.89,109.45 L283.09,109.26 L283.29,109.08 L283.49,108.90 L283.69,108.72 L283.89,108.55 L284.09,108.38 L284.29,108.21 L284.49,108.04 L284.69,107.88 L284.89,107.72 L285.09,107.56 L285.29,107.40 L285.49,107.25 L285.69,107.10 L285.89,106.95 L286.09,106.80 L286.29,106.65 L286.49,106.51 L286.69,106.37 L286.89,106.23 L287.09,106.09 L287.29,105.96 L287.49,105.83 L287.69,105.70 L287.89,105.57 L288.09,105.44 L288.29,105.32 L288.49,105.19 L288.69,105.07 L288.89,104.95 L289.09,104.84 L289.29,104.72 L289.49,104.61 L289.69,104.50 L289.89,104.39 L290.09,104.28 L290.29,104.17 L290.49,104.06 L290.69,103.96 L290.89,103.86 L291.09,103.76 L291.29,103.66 L291.49,103.56 L291.69,103.46 L291.89,103.37 L292.09,103.27 L292.29,103.18 L292.49,103.09 L292.69,103.00 L292.89,102.91 L293.09,102.83 L293.29,102.74 L293.49,102.66 L293.69,102.58 L293.89,102.49 L294.09,102.41 L294.29,102.33 L294.49,102.26 L294.69,102.18 L294.89,102.10 L295.09,102.03 L295.29,101.96 L295.49,101.88 L295.69,101.81 L295.89,101.74 L296.09,101.67 L296.29,101.61 L296.49,101.54 L296.69,101.47 L296.89,101.41 L297.09,101.34 L297.29,101.28 L297.49,101.22 L297.69,101.16 L297.89,101.10 L298.09,101.04 L298.29,100.98 L298.49,100.92 L298.69,100.86 L298.89,100.81 L299.09,100.75 L299.29,100.70 L299.49,100.65 L299.69,100.59 L299.89,100.54 L300.09,100.49 L300.29,100.44 L300.49,100.39 L300.69,100.34 L300.89,100.29 L301.09,100.25 L301.29,100.20 L301.49,100.15 L301.69,100.11 L301.89,100.06 L302.09,100.02 L302.29,99.98 L302.49,99.94 L302.69,99.89 L302.89,99.85 L303.09,99.81 L303.29,99.77 L303.49,99.73 L303.69,99.69 L303.89,99.66 L304.09,99.62 L304.29,99.58 L304.48,99.54 L304.68,99.51 L304.88,99.47 L305.08,99.44 L305.28,99.40 L305.48,99.37 L305.68,99.34 L305.88,99.30 L306.08,99.27 L306.28,99.24 L306.48,99.21 L306.68,99.18 L306.88,99.15 L307.08,99.12 L307.28,99.09 L307.48,99.06 L307.68,99.03 L307.88,99.00 L308.08,98.97 L308.28,98.95 L308.48,98.92 L308.68,98.89 L308.88,98.87 L309.08,98.84 L309.28,98.81 L309.48,98.79 L309.68,98.76 L309.88,98.74 L310.08,98.72 L310.28,98.69 L310.48,98.67 L310.68,98.65 L310.88,98.62 L311.08,98.60 L311.28,98.58 L311.48,98.56 L311.68,98.54 L311.88,98.52 L312.08,98.50 L312.28,98.48 L312.48,98.46 L312.68,98.44 L312.88,98.42 L313.08,98.40 L313.28,98.38 L313.48,98.36 L313.68,98.34 L313.88,98.32 L314.08,98.31 L314.28,98.29 L314.48,98.27 L314.68,98.26 L314.88,98.24 L315.08,98.22 L315.28,98.21 L315.48,98.19 L315.68,98.17 L315.88,98.16 L316.08,98.14 L316.28,98.13 L316.48,98.11 L316.68,98.10 L316.88,98.09 L317.08,98.07 L317.28,98.06 L317.48,98.04 L317.68,98.03 L317.88,98.02 L318.08,98.00 L318.28,97.99 L318.48,97.98 L318.68,97.97 L318.88,97.95 L319.08,97.94 L319.28,97.93 L319.48,97.92 L319.68,97.91 L319.88,97.90 L320.08,97.88 L320.28,97.87 L320.48,97.86 L320.68,97.85 L320.88,97.84 L321.08,97.83 L321.28,97.82 L321.48,97.81 L321.68,97.80 L321.88,97.79 L322.08,97.78 L322.28,97.77 L322.48,97.76 L322.68,97.75 L322.88,97.74 L323.08,97.73 L323.28,97.73 L323.48,97.72 L323.68,97.71 L323.88,97.70 L324.08,97.69 L324.28,97.68 L324.48,97.68 L324.68,97.67 L324.88,97.66 L325.08,97.65 L325.28,97.65 L325.48,97.64 L325.68,97.63 L325.88,97.62 L326.08,97.62 L326.28,97.61 L326.48,97.60 L326.68,97.60 L326.88,97.59 L327.08,97.58 L327.28,97.58 L327.48,97.57 L327.68,97.56 L327.88,97.56 L328.08,97.55 L328.28,97.54 L328.48,97.54 L328.68,97.53 L328.88,97.53 L329.08,97.52 L329.28,97.52 L329.48,97.51 L329.68,97.50 L329.88,97.50 L330.08,97.49 L330.28,97.49 L330.48,97.48 L330.68,97.48 L330.88,97.47"/>
<path class="ax" d="M66.90,33.30 L66.90,164.00 L327.50,164.00"/>
<path fill="#000" d="M66.90,30.10 L69.80,35.00 L66.90,33.90 L64.00,35.00 Z"/>
<path fill="#000" d="M330.70,164.00 L325.80,161.10 L326.90,164.00 L325.80,166.90 Z"/>
<circle cx="69.4" cy="19.70" r="1.15" fill="#000"/>
<text x="73.2" y="24.30" transform="rotate(0.03 73.2 24.30)" font-size="17.4" textLength="16.3" lengthAdjust="spacingAndGlyphs">10</text>
<line class="mn" x1="90.9" y1="15.10" x2="98.3" y2="15.10"/>
<text x="99.6" y="17.80" transform="rotate(0.03 99.6 17.80)" font-size="12.3">2</text>
</g>
<g>
<line class="gd" x1="441.55" y1="30.30" x2="441.55" y2="164.00" stroke-dashoffset="7.00"/>
<line class="gd" x1="573.45" y1="30.30" x2="573.45" y2="164.00" stroke-dashoffset="7.00"/>
<line class="tk" x1="372.50" y1="152.86" x2="378.50" y2="152.86"/>
<text x="366.20" y="158.31" transform="rotate(0.03 366.20 158.31)" font-size="18.2" text-anchor="end" textLength="8.3" lengthAdjust="spacingAndGlyphs">1</text>
<line class="mn" x1="345.60" y1="153.31" x2="355.90" y2="153.31"/>
<line class="tk" x1="372.50" y1="97.15" x2="378.50" y2="97.15"/>
<text x="366.20" y="103.30" transform="rotate(0.03 366.20 103.30)" font-size="18.2" text-anchor="end" textLength="8.3" lengthAdjust="spacingAndGlyphs">0</text>
<line class="tk" x1="372.50" y1="41.44" x2="378.50" y2="41.44"/>
<text x="366.20" y="47.59" transform="rotate(0.03 366.20 47.59)" font-size="18.2" text-anchor="end" textLength="8.3" lengthAdjust="spacingAndGlyphs">1</text>
<path class="cr" d="M375.60,86.63 L375.80,86.58 L376.00,86.52 L376.20,86.47 L376.40,86.41 L376.60,86.36 L376.80,86.31 L377.00,86.25 L377.20,86.20 L377.40,86.14 L377.60,86.08 L377.80,86.03 L378.00,85.97 L378.20,85.92 L378.40,85.86 L378.60,85.80 L378.80,85.74 L379.00,85.69 L379.20,85.63 L379.40,85.57 L379.60,85.51 L379.80,85.45 L380.00,85.39 L380.20,85.33 L380.40,85.27 L380.60,85.21 L380.80,85.15 L381.00,85.09 L381.20,85.03 L381.40,84.97 L381.60,84.91 L381.80,84.85 L382.00,84.78 L382.19,84.72 L382.39,84.66 L382.59,84.59 L382.79,84.53 L382.99,84.47 L383.19,84.40 L383.39,84.34 L383.59,84.27 L383.79,84.21 L383.99,84.14 L384.19,84.08 L384.39,84.01 L384.59,83.94 L384.79,83.88 L384.99,83.81 L385.19,83.74 L385.39,83.67 L385.59,83.61 L385.79,83.54 L385.99,83.47 L386.19,83.40 L386.39,83.33 L386.59,83.26 L386.79,83.19 L386.99,83.12 L387.19,83.05 L387.39,82.98 L387.59,82.90 L387.79,82.83 L387.99,82.76 L388.19,82.69 L388.39,82.61 L388.59,82.54 L388.79,82.47 L388.99,82.39 L389.19,82.32 L389.39,82.24 L389.59,82.17 L389.79,82.09 L389.99,82.01 L390.19,81.94 L390.39,81.86 L390.59,81.78 L390.79,81.71 L390.99,81.63 L391.19,81.55 L391.39,81.47 L391.59,81.39 L391.79,81.31 L391.99,81.23 L392.19,81.15 L392.39,81.07 L392.59,80.99 L392.79,80.91 L392.99,80.82 L393.19,80.74 L393.39,80.66 L393.59,80.57 L393.79,80.49 L393.99,80.41 L394.19,80.32 L394.39,80.24 L394.59,80.15 L394.79,80.06 L394.99,79.98 L395.19,79.89 L395.38,79.80 L395.58,79.72 L395.78,79.63 L395.98,79.54 L396.18,79.45 L396.38,79.36 L396.58,79.27 L396.78,79.18 L396.98,79.09 L397.18,79.00 L397.38,78.90 L397.58,78.81 L397.78,78.72 L397.98,78.63 L398.18,78.53 L398.38,78.44 L398.58,78.34 L398.78,78.25 L398.98,78.15 L399.18,78.06 L399.38,77.96 L399.58,77.86 L399.78,77.76 L399.98,77.67 L400.18,77.57 L400.38,77.47 L400.58,77.37 L400.78,77.27 L400.98,77.17 L401.18,77.07 L401.38,76.97 L401.58,76.86 L401.78,76.76 L401.98,76.66 L402.18,76.55 L402.38,76.45 L402.58,76.34 L402.78,76.24 L402.98,76.13 L403.18,76.03 L403.38,75.92 L403.58,75.81 L403.78,75.70 L403.98,75.60 L404.18,75.49 L404.38,75.38 L404.58,75.27 L404.78,75.16 L404.98,75.04 L405.18,74.93 L405.38,74.82 L405.58,74.71 L405.78,74.59 L405.98,74.48 L406.18,74.36 L406.38,74.25 L406.58,74.13 L406.78,74.02 L406.98,73.90 L407.18,73.78 L407.38,73.66 L407.58,73.54 L407.78,73.42 L407.98,73.30 L408.18,73.18 L408.38,73.06 L408.57,72.94 L408.77,72.82 L408.97,72.69 L409.17,72.57 L409.37,72.45 L409.57,72.32 L409.77,72.20 L409.97,72.07 L410.17,71.94 L410.37,71.81 L410.57,71.69 L410.77,71.56 L410.97,71.43 L411.17,71.30 L411.37,71.17 L411.57,71.03 L411.77,70.90 L411.97,70.77 L412.17,70.64 L412.37,70.50 L412.57,70.37 L412.77,70.23 L412.97,70.09 L413.17,69.96 L413.37,69.82 L413.57,69.68 L413.77,69.54 L413.97,69.40 L414.17,69.26 L414.37,69.12 L414.57,68.98 L414.77,68.84 L414.97,68.69 L415.17,68.55 L415.37,68.40 L415.57,68.26 L415.77,68.11 L415.97,67.97 L416.17,67.82 L416.37,67.67 L416.57,67.52 L416.77,67.37 L416.97,67.22 L417.17,67.07 L417.37,66.92 L417.57,66.76 L417.77,66.61 L417.97,66.45 L418.17,66.30 L418.37,66.14 L418.57,65.98 L418.77,65.83 L418.97,65.67 L419.17,65.51 L419.37,65.35 L419.57,65.19 L419.77,65.03 L419.97,64.86 L420.17,64.70 L420.37,64.54 L420.57,64.37 L420.77,64.20 L420.97,64.04 L421.17,63.87 L421.37,63.70 L421.57,63.53 L421.76,63.36 L421.96,63.19 L422.16,63.02 L422.36,62.85 L422.56,62.67 L422.76,62.50 L422.96,62.32 L423.16,62.15 L423.36,61.97 L423.56,61.79 L423.76,61.61 L423.96,61.43 L424.16,61.25 L424.36,61.07 L424.56,60.89 L424.76,60.70 L424.96,60.52 L425.16,60.33 L425.36,60.15 L425.56,59.96 L425.76,59.77 L425.96,59.58 L426.16,59.39 L426.36,59.20 L426.56,59.01 L426.76,58.81 L426.96,58.62 L427.16,58.43 L427.36,58.23 L427.56,58.03 L427.76,57.83 L427.96,57.63 L428.16,57.43 L428.36,57.23 L428.56,57.03 L428.76,56.83 L428.96,56.62 L429.16,56.42 L429.36,56.21 L429.56,56.01 L429.76,55.80 L429.96,55.59 L430.16,55.38 L430.36,55.17 L430.56,54.95 L430.76,54.74 L430.96,54.52 L431.16,54.31 L431.36,54.09 L431.56,53.87 L431.76,53.65 L431.96,53.43 L432.16,53.21 L432.36,52.99 L432.56,52.77 L432.76,52.54 L432.96,52.32 L433.16,52.09 L433.36,51.86 L433.56,51.63 L433.76,51.40 L433.96,51.17 L434.16,50.94 L434.36,50.70 L434.56,50.47 L434.76,50.23 L434.95,49.99 L435.15,49.76 L435.35,49.52 L435.55,49.27 L435.75,49.03 L435.95,48.79 L436.15,48.54 L436.35,48.30 L436.55,48.05 L436.75,47.80 L436.95,47.55 L437.15,47.30 L437.35,47.05 L437.55,46.79 L437.75,46.54 L437.95,46.28 L438.15,46.03 L438.35,45.77 L438.55,45.51 L438.75,45.24 L438.95,44.98 L439.15,44.72 L439.35,44.45 L439.55,44.19 L439.75,43.92 L439.95,43.65 L440.15,43.38 L440.35,43.10 L440.55,42.83 L440.75,42.56 L440.95,42.28 L441.15,42.00 L441.35,41.72 L441.55,41.44 L441.75,41.60 L441.95,42.09 L442.15,42.89 L442.35,44.01 L442.55,45.43 L442.75,47.16 L442.95,49.17 L443.15,51.47 L443.35,54.02 L443.55,56.83 L443.75,59.87 L443.95,63.13 L444.15,66.59 L444.35,70.22 L444.55,74.01 L444.75,77.93 L444.95,81.97 L445.15,86.09 L445.35,90.27 L445.55,94.50 L445.75,98.74 L445.95,102.97 L446.15,107.17 L446.35,111.31 L446.55,115.37 L446.75,119.32 L446.95,123.15 L447.15,126.82 L447.35,130.32 L447.55,133.63 L447.75,136.73 L447.95,139.60 L448.14,142.22 L448.34,144.58 L448.54,146.67 L448.74,148.47 L448.94,149.97 L449.14,151.16 L449.34,152.04 L449.54,152.61 L449.74,152.85 L449.94,152.77 L450.14,152.37 L450.34,151.64 L450.54,150.60 L450.74,149.26 L450.94,147.60 L451.14,145.66 L451.34,143.44 L451.54,140.94 L451.74,138.19 L451.94,135.21 L452.14,132.00 L452.34,128.60 L452.54,125.01 L452.74,121.25 L452.94,117.36 L453.14,113.35 L453.34,109.25 L453.54,105.08 L453.74,100.86 L453.94,96.62 L454.14,92.38 L454.34,88.17 L454.54,84.02 L454.74,79.94 L454.94,75.95 L455.14,72.10 L455.34,68.38 L455.54,64.84 L455.74,61.48 L455.94,58.33 L456.14,55.40 L456.34,52.71 L456.54,50.29 L456.74,48.13 L456.94,46.26 L457.14,44.68 L457.34,43.41 L457.54,42.45 L457.74,41.80 L457.94,41.48 L458.14,41.48 L458.34,41.80 L458.54,42.45 L458.74,43.41 L458.94,44.68 L459.14,46.26 L459.34,48.13 L459.54,50.29 L459.74,52.71 L459.94,55.40 L460.14,58.33 L460.34,61.48 L460.54,64.84 L460.74,68.38 L460.94,72.10 L461.14,75.95 L461.34,79.94 L461.53,84.02 L461.73,88.17 L461.93,92.38 L462.13,96.62 L462.33,100.86 L462.53,105.08 L462.73,109.25 L462.93,113.35 L463.13,117.36 L463.33,121.25 L463.53,125.01 L463.73,128.60 L463.93,132.00 L464.13,135.21 L464.33,138.19 L464.53,140.94 L464.73,143.44 L464.93,145.66 L465.13,147.60 L465.33,149.26 L465.53,150.60 L465.73,151.64 L465.93,152.37 L466.13,152.77 L466.33,152.85 L466.53,152.61 L466.73,152.04 L466.93,151.16 L467.13,149.97 L467.33,148.47 L467.53,146.67 L467.73,144.58 L467.93,142.22 L468.13,139.60 L468.33,136.73 L468.53,133.63 L468.73,130.32 L468.93,126.82 L469.13,123.15 L469.33,119.32 L469.53,115.37 L469.73,111.31 L469.93,107.17 L470.13,102.97 L470.33,98.74 L470.53,94.50 L470.73,90.27 L470.93,86.09 L471.13,81.97 L471.33,77.93 L471.53,74.01 L471.73,70.22 L471.93,66.59 L472.13,63.13 L472.33,59.87 L472.53,56.83 L472.73,54.02 L472.93,51.47 L473.13,49.17 L473.33,47.16 L473.53,45.43 L473.73,44.01 L473.93,42.89 L474.13,42.09 L474.33,41.60 L474.53,41.44 L474.72,41.60 L474.92,42.09 L475.12,42.89 L475.32,44.01 L475.52,45.43 L475.72,47.16 L475.92,49.17 L476.12,51.47 L476.32,54.02 L476.52,56.83 L476.72,59.87 L476.92,63.13 L477.12,66.59 L477.32,70.22 L477.52,74.01 L477.72,77.93 L477.92,81.97 L478.12,86.09 L478.32,90.27 L478.52,94.50 L478.72,98.74 L478.92,102.97 L479.12,107.17 L479.32,111.31 L479.52,115.37 L479.72,119.32 L479.92,123.15 L480.12,126.82 L480.32,130.32 L480.52,133.63 L480.72,136.73 L480.92,139.60 L481.12,142.22 L481.32,144.58 L481.52,146.67 L481.72,148.47 L481.92,149.97 L482.12,151.16 L482.32,152.04 L482.52,152.61 L482.72,152.85 L482.92,152.77 L483.12,152.37 L483.32,151.64 L483.52,150.60 L483.72,149.26 L483.92,147.60 L484.12,145.66 L484.32,143.44 L484.52,140.94 L484.72,138.19 L484.92,135.21 L485.12,132.00 L485.32,128.60 L485.52,125.01 L485.72,121.25 L485.92,117.36 L486.12,113.35 L486.32,109.25 L486.52,105.08 L486.72,100.86 L486.92,96.62 L487.12,92.38 L487.32,88.17 L487.52,84.02 L487.72,79.94 L487.91,75.95 L488.11,72.10 L488.31,68.38 L488.51,64.84 L488.71,61.48 L488.91,58.33 L489.11,55.40 L489.31,52.71 L489.51,50.29 L489.71,48.13 L489.91,46.26 L490.11,44.68 L490.31,43.41 L490.51,42.45 L490.71,41.80 L490.91,41.48 L491.11,41.48 L491.31,41.80 L491.51,42.45 L491.71,43.41 L491.91,44.68 L492.11,46.26 L492.31,48.13 L492.51,50.29 L492.71,52.71 L492.91,55.40 L493.11,58.33 L493.31,61.48 L493.51,64.84 L493.71,68.38 L493.91,72.10 L494.11,75.95 L494.31,79.94 L494.51,84.02 L494.71,88.17 L494.91,92.38 L495.11,96.62 L495.31,100.86 L495.51,105.08 L495.71,109.25 L495.91,113.35 L496.11,117.36 L496.31,121.25 L496.51,125.01 L496.71,128.60 L496.91,132.00 L497.11,135.21 L497.31,138.19 L497.51,140.94 L497.71,143.44 L497.91,145.66 L498.11,147.60 L498.31,149.26 L498.51,150.60 L498.71,151.64 L498.91,152.37 L499.11,152.77 L499.31,152.85 L499.51,152.61 L499.71,152.04 L499.91,151.16 L500.11,149.97 L500.31,148.47 L500.51,146.67 L500.71,144.58 L500.91,142.22 L501.10,139.60 L501.30,136.73 L501.50,133.63 L501.70,130.32 L501.90,126.82 L502.10,123.15 L502.30,119.32 L502.50,115.37 L502.70,111.31 L502.90,107.17 L503.10,102.97 L503.30,98.74 L503.50,94.50 L503.70,90.27 L503.90,86.09 L504.10,81.97 L504.30,77.93 L504.50,74.01 L504.70,70.22 L504.90,66.59 L505.10,63.13 L505.30,59.87 L505.50,56.83 L505.70,54.02 L505.90,51.47 L506.10,49.17 L506.30,47.16 L506.50,45.43 L506.70,44.01 L506.90,42.89 L507.10,42.09 L507.30,41.60 L507.50,41.44 L507.70,41.60 L507.90,42.09 L508.10,42.89 L508.30,44.01 L508.50,45.43 L508.70,47.16 L508.90,49.17 L509.10,51.47 L509.30,54.02 L509.50,56.83 L509.70,59.87 L509.90,63.13 L510.10,66.59 L510.30,70.22 L510.50,74.01 L510.70,77.93 L510.90,81.97 L511.10,86.09 L511.30,90.27 L511.50,94.50 L511.70,98.74 L511.90,102.97 L512.10,107.17 L512.30,111.31 L512.50,115.37 L512.70,119.32 L512.90,123.15 L513.10,126.82 L513.30,130.32 L513.50,133.63 L513.70,136.73 L513.90,139.60 L514.10,142.22 L514.29,144.58 L514.49,146.67 L514.69,148.47 L514.89,149.97 L515.09,151.16 L515.29,152.04 L515.49,152.61 L515.69,152.85 L515.89,152.77 L516.09,152.37 L516.29,151.64 L516.49,150.60 L516.69,149.26 L516.89,147.60 L517.09,145.66 L517.29,143.44 L517.49,140.94 L517.69,138.19 L517.89,135.21 L518.09,132.00 L518.29,128.60 L518.49,125.01 L518.69,121.25 L518.89,117.36 L519.09,113.35 L519.29,109.25 L519.49,105.08 L519.69,100.86 L519.89,96.62 L520.09,92.38 L520.29,88.17 L520.49,84.02 L520.69,79.94 L520.89,75.95 L521.09,72.10 L521.29,68.38 L521.49,64.84 L521.69,61.48 L521.89,58.33 L522.09,55.40 L522.29,52.71 L522.49,50.29 L522.69,48.13 L522.89,46.26 L523.09,44.68 L523.29,43.41 L523.49,42.45 L523.69,41.80 L523.89,41.48 L524.09,41.48 L524.29,41.80 L524.49,42.45 L524.69,43.41 L524.89,44.68 L525.09,46.26 L525.29,48.13 L525.49,50.29 L525.69,52.71 L525.89,55.40 L526.09,58.33 L526.29,61.48 L526.49,64.84 L526.69,68.38 L526.89,72.10 L527.09,75.95 L527.28,79.94 L527.48,84.02 L527.68,88.17 L527.88,92.38 L528.08,96.62 L528.28,100.86 L528.48,105.08 L528.68,109.25 L528.88,113.35 L529.08,117.36 L529.28,121.25 L529.48,125.01 L529.68,128.60 L529.88,132.00 L530.08,135.21 L530.28,138.19 L530.48,140.94 L530.68,143.44 L530.88,145.66 L531.08,147.60 L531.28,149.26 L531.48,150.60 L531.68,151.64 L531.88,152.37 L532.08,152.77 L532.28,152.85 L532.48,152.61 L532.68,152.04 L532.88,151.16 L533.08,149.97 L533.28,148.47 L533.48,146.67 L533.68,144.58 L533.88,142.22 L534.08,139.60 L534.28,136.73 L534.48,133.63 L534.68,130.32 L534.88,126.82 L535.08,123.15 L535.28,119.32 L535.48,115.37 L535.68,111.31 L535.88,107.17 L536.08,102.97 L536.28,98.74 L536.48,94.50 L536.68,90.27 L536.88,86.09 L537.08,81.97 L537.28,77.93 L537.48,74.01 L537.68,70.22 L537.88,66.59 L538.08,63.13 L538.28,59.87 L538.48,56.83 L538.68,54.02 L538.88,51.47 L539.08,49.17 L539.28,47.16 L539.48,45.43 L539.68,44.01 L539.88,42.89 L540.08,42.09 L540.28,41.60 L540.48,41.44 L540.67,41.60 L540.87,42.09 L541.07,42.89 L541.27,44.01 L541.47,45.43 L541.67,47.16 L541.87,49.17 L542.07,51.47 L542.27,54.02 L542.47,56.83 L542.67,59.87 L542.87,63.13 L543.07,66.59 L543.27,70.22 L543.47,74.01 L543.67,77.93 L543.87,81.97 L544.07,86.09 L544.27,90.27 L544.47,94.50 L544.67,98.74 L544.87,102.97 L545.07,107.17 L545.27,111.31 L545.47,115.37 L545.67,119.32 L545.87,123.15 L546.07,126.82 L546.27,130.32 L546.47,133.63 L546.67,136.73 L546.87,139.60 L547.07,142.22 L547.27,144.58 L547.47,146.67 L547.67,148.47 L547.87,149.97 L548.07,151.16 L548.27,152.04 L548.47,152.61 L548.67,152.85 L548.87,152.77 L549.07,152.37 L549.27,151.64 L549.47,150.60 L549.67,149.26 L549.87,147.60 L550.07,145.66 L550.27,143.44 L550.47,140.94 L550.67,138.19 L550.87,135.21 L551.07,132.00 L551.27,128.60 L551.47,125.01 L551.67,121.25 L551.87,117.36 L552.07,113.35 L552.27,109.25 L552.47,105.08 L552.67,100.86 L552.87,96.62 L553.07,92.38 L553.27,88.17 L553.47,84.02 L553.66,79.94 L553.86,75.95 L554.06,72.10 L554.26,68.38 L554.46,64.84 L554.66,61.48 L554.86,58.33 L555.06,55.40 L555.26,52.71 L555.46,50.29 L555.66,48.13 L555.86,46.26 L556.06,44.68 L556.26,43.41 L556.46,42.45 L556.66,41.80 L556.86,41.48 L557.06,41.48 L557.26,41.80 L557.46,42.45 L557.66,43.41 L557.86,44.68 L558.06,46.26 L558.26,48.13 L558.46,50.29 L558.66,52.71 L558.86,55.40 L559.06,58.33 L559.26,61.48 L559.46,64.84 L559.66,68.38 L559.86,72.10 L560.06,75.95 L560.26,79.94 L560.46,84.02 L560.66,88.17 L560.86,92.38 L561.06,96.62 L561.26,100.86 L561.46,105.08 L561.66,109.25 L561.86,113.35 L562.06,117.36 L562.26,121.25 L562.46,125.01 L562.66,128.60 L562.86,132.00 L563.06,135.21 L563.26,138.19 L563.46,140.94 L563.66,143.44 L563.86,145.66 L564.06,147.60 L564.26,149.26 L564.46,150.60 L564.66,151.64 L564.86,152.37 L565.06,152.77 L565.26,152.85 L565.46,152.61 L565.66,152.04 L565.86,151.16 L566.06,149.97 L566.26,148.47 L566.46,146.67 L566.66,144.58 L566.86,142.22 L567.05,139.60 L567.25,136.73 L567.45,133.63 L567.65,130.32 L567.85,126.82 L568.05,123.15 L568.25,119.32 L568.45,115.37 L568.65,111.31 L568.85,107.17 L569.05,102.97 L569.25,98.74 L569.45,94.50 L569.65,90.27 L569.85,86.09 L570.05,81.97 L570.25,77.93 L570.45,74.01 L570.65,70.22 L570.85,66.59 L571.05,63.13 L571.25,59.87 L571.45,56.83 L571.65,54.02 L571.85,51.47 L572.05,49.17 L572.25,47.16 L572.45,45.43 L572.65,44.01 L572.85,42.89 L573.05,42.09 L573.25,41.60 L573.45,41.44 L573.65,41.72 L573.85,42.00 L574.05,42.28 L574.25,42.56 L574.45,42.83 L574.65,43.10 L574.85,43.38 L575.05,43.65 L575.25,43.92 L575.45,44.19 L575.65,44.45 L575.85,44.72 L576.05,44.98 L576.25,45.24 L576.45,45.51 L576.65,45.77 L576.85,46.03 L577.05,46.28 L577.25,46.54 L577.45,46.79 L577.65,47.05 L577.85,47.30 L578.05,47.55 L578.25,47.80 L578.45,48.05 L578.65,48.30 L578.85,48.54 L579.05,48.79 L579.25,49.03 L579.45,49.27 L579.65,49.52 L579.85,49.76 L580.05,49.99 L580.24,50.23 L580.44,50.47 L580.64,50.70 L580.84,50.94 L581.04,51.17 L581.24,51.40 L581.44,51.63 L581.64,51.86 L581.84,52.09 L582.04,52.32 L582.24,52.54 L582.44,52.77 L582.64,52.99 L582.84,53.21 L583.04,53.43 L583.24,53.65 L583.44,53.87 L583.64,54.09 L583.84,54.31 L584.04,54.52 L584.24,54.74 L584.44,54.95 L584.64,55.17 L584.84,55.38 L585.04,55.59 L585.24,55.80 L585.44,56.01 L585.64,56.21 L585.84,56.42 L586.04,56.62 L586.24,56.83 L586.44,57.03 L586.64,57.23 L586.84,57.43 L587.04,57.63 L587.24,57.83 L587.44,58.03 L587.64,58.23 L587.84,58.43 L588.04,58.62 L588.24,58.81 L588.44,59.01 L588.64,59.20 L588.84,59.39 L589.04,59.58 L589.24,59.77 L589.44,59.96 L589.64,60.15 L589.84,60.33 L590.04,60.52 L590.24,60.70 L590.44,60.89 L590.64,61.07 L590.84,61.25 L591.04,61.43 L591.24,61.61 L591.44,61.79 L591.64,61.97 L591.84,62.15 L592.04,62.32 L592.24,62.50 L592.44,62.67 L592.64,62.85 L592.84,63.02 L593.04,63.19 L593.24,63.36 L593.43,63.53 L593.63,63.70 L593.83,63.87 L594.03,64.04 L594.23,64.20 L594.43,64.37 L594.63,64.54 L594.83,64.70 L595.03,64.86 L595.23,65.03 L595.43,65.19 L595.63,65.35 L595.83,65.51 L596.03,65.67 L596.23,65.83 L596.43,65.98 L596.63,66.14 L596.83,66.30 L597.03,66.45 L597.23,66.61 L597.43,66.76 L597.63,66.92 L597.83,67.07 L598.03,67.22 L598.23,67.37 L598.43,67.52 L598.63,67.67 L598.83,67.82 L599.03,67.97 L599.23,68.11 L599.43,68.26 L599.63,68.40 L599.83,68.55 L600.03,68.69 L600.23,68.84 L600.43,68.98 L600.63,69.12 L600.83,69.26 L601.03,69.40 L601.23,69.54 L601.43,69.68 L601.63,69.82 L601.83,69.96 L602.03,70.09 L602.23,70.23 L602.43,70.37 L602.63,70.50 L602.83,70.64 L603.03,70.77 L603.23,70.90 L603.43,71.03 L603.63,71.17 L603.83,71.30 L604.03,71.43 L604.23,71.56 L604.43,71.69 L604.63,71.81 L604.83,71.94 L605.03,72.07 L605.23,72.20 L605.43,72.32 L605.63,72.45 L605.83,72.57 L606.03,72.69 L606.23,72.82 L606.43,72.94 L606.62,73.06 L606.82,73.18 L607.02,73.30 L607.22,73.42 L607.42,73.54 L607.62,73.66 L607.82,73.78 L608.02,73.90 L608.22,74.02 L608.42,74.13 L608.62,74.25 L608.82,74.36 L609.02,74.48 L609.22,74.59 L609.42,74.71 L609.62,74.82 L609.82,74.93 L610.02,75.04 L610.22,75.16 L610.42,75.27 L610.62,75.38 L610.82,75.49 L611.02,75.60 L611.22,75.70 L611.42,75.81 L611.62,75.92 L611.82,76.03 L612.02,76.13 L612.22,76.24 L612.42,76.34 L612.62,76.45 L612.82,76.55 L613.02,76.66 L613.22,76.76 L613.42,76.86 L613.62,76.97 L613.82,77.07 L614.02,77.17 L614.22,77.27 L614.42,77.37 L614.62,77.47 L614.82,77.57 L615.02,77.67 L615.22,77.76 L615.42,77.86 L615.62,77.96 L615.82,78.06 L616.02,78.15 L616.22,78.25 L616.42,78.34 L616.62,78.44 L616.82,78.53 L617.02,78.63 L617.22,78.72 L617.42,78.81 L617.62,78.90 L617.82,79.00 L618.02,79.09 L618.22,79.18 L618.42,79.27 L618.62,79.36 L618.82,79.45 L619.02,79.54 L619.22,79.63 L619.42,79.72 L619.62,79.80 L619.81,79.89 L620.01,79.98 L620.21,80.06 L620.41,80.15 L620.61,80.24 L620.81,80.32 L621.01,80.41 L621.21,80.49 L621.41,80.57 L621.61,80.66 L621.81,80.74 L622.01,80.82 L622.21,80.91 L622.41,80.99 L622.61,81.07 L622.81,81.15 L623.01,81.23 L623.21,81.31 L623.41,81.39 L623.61,81.47 L623.81,81.55 L624.01,81.63 L624.21,81.71 L624.41,81.78 L624.61,81.86 L624.81,81.94 L625.01,82.01 L625.21,82.09 L625.41,82.17 L625.61,82.24 L625.81,82.32 L626.01,82.39 L626.21,82.47 L626.41,82.54 L626.61,82.61 L626.81,82.69 L627.01,82.76 L627.21,82.83 L627.41,82.90 L627.61,82.98 L627.81,83.05 L628.01,83.12 L628.21,83.19 L628.41,83.26 L628.61,83.33 L628.81,83.40 L629.01,83.47 L629.21,83.54 L629.41,83.61 L629.61,83.67 L629.81,83.74 L630.01,83.81 L630.21,83.88 L630.41,83.94 L630.61,84.01 L630.81,84.08 L631.01,84.14 L631.21,84.21 L631.41,84.27 L631.61,84.34 L631.81,84.40 L632.01,84.47 L632.21,84.53 L632.41,84.59 L632.61,84.66 L632.81,84.72 L633.00,84.78 L633.20,84.85 L633.40,84.91 L633.60,84.97 L633.80,85.03 L634.00,85.09 L634.20,85.15 L634.40,85.21 L634.60,85.27 L634.80,85.33 L635.00,85.39 L635.20,85.45 L635.40,85.51 L635.60,85.57 L635.80,85.63 L636.00,85.69 L636.20,85.74 L636.40,85.80 L636.60,85.86 L636.80,85.92 L637.00,85.97 L637.20,86.03 L637.40,86.08 L637.60,86.14 L637.80,86.20 L638.00,86.25 L638.20,86.31 L638.40,86.36 L638.60,86.41 L638.80,86.47 L639.00,86.52 L639.20,86.58 L639.40,86.63"/>
<path class="cb" d="M375.60,97.15 L375.80,97.15 L376.00,97.15 L376.20,97.15 L376.40,97.15 L376.60,97.15 L376.80,97.15 L377.00,97.15 L377.20,97.15 L377.40,97.15 L377.60,97.15 L377.80,97.15 L378.00,97.15 L378.20,97.15 L378.40,97.15 L378.60,97.15 L378.80,97.15 L379.00,97.15 L379.20,97.15 L379.40,97.15 L379.60,97.15 L379.80,97.15 L380.00,97.15 L380.20,97.15 L380.40,97.15 L380.60,97.15 L380.80,97.15 L381.00,97.15 L381.20,97.15 L381.40,97.15 L381.60,97.15 L381.80,97.15 L382.00,97.15 L382.19,97.15 L382.39,97.15 L382.59,97.15 L382.79,97.15 L382.99,97.15 L383.19,97.15 L383.39,97.15 L383.59,97.15 L383.79,97.15 L383.99,97.15 L384.19,97.15 L384.39,97.15 L384.59,97.15 L384.79,97.15 L384.99,97.15 L385.19,97.15 L385.39,97.15 L385.59,97.15 L385.79,97.15 L385.99,97.15 L386.19,97.15 L386.39,97.15 L386.59,97.15 L386.79,97.15 L386.99,97.15 L387.19,97.15 L387.39,97.15 L387.59,97.15 L387.79,97.15 L387.99,97.15 L388.19,97.15 L388.39,97.15 L388.59,97.15 L388.79,97.15 L388.99,97.15 L389.19,97.15 L389.39,97.15 L389.59,97.15 L389.79,97.15 L389.99,97.15 L390.19,97.15 L390.39,97.15 L390.59,97.15 L390.79,97.15 L390.99,97.15 L391.19,97.15 L391.39,97.15 L391.59,97.15 L391.79,97.15 L391.99,97.15 L392.19,97.15 L392.39,97.15 L392.59,97.15 L392.79,97.15 L392.99,97.15 L393.19,97.15 L393.39,97.15 L393.59,97.15 L393.79,97.15 L393.99,97.15 L394.19,97.15 L394.39,97.15 L394.59,97.15 L394.79,97.15 L394.99,97.15 L395.19,97.15 L395.38,97.15 L395.58,97.15 L395.78,97.15 L395.98,97.15 L396.18,97.15 L396.38,97.15 L396.58,97.15 L396.78,97.15 L396.98,97.15 L397.18,97.15 L397.38,97.15 L397.58,97.15 L397.78,97.15 L397.98,97.15 L398.18,97.15 L398.38,97.15 L398.58,97.15 L398.78,97.15 L398.98,97.15 L399.18,97.15 L399.38,97.15 L399.58,97.15 L399.78,97.15 L399.98,97.15 L400.18,97.15 L400.38,97.15 L400.58,97.15 L400.78,97.15 L400.98,97.15 L401.18,97.15 L401.38,97.15 L401.58,97.15 L401.78,97.15 L401.98,97.15 L402.18,97.15 L402.38,97.15 L402.58,97.15 L402.78,97.15 L402.98,97.15 L403.18,97.15 L403.38,97.15 L403.58,97.15 L403.78,97.15 L403.98,97.15 L404.18,97.15 L404.38,97.15 L404.58,97.15 L404.78,97.15 L404.98,97.15 L405.18,97.15 L405.38,97.15 L405.58,97.15 L405.78,97.15 L405.98,97.15 L406.18,97.15 L406.38,97.15 L406.58,97.15 L406.78,97.15 L406.98,97.15 L407.18,97.15 L407.38,97.15 L407.58,97.15 L407.78,97.15 L407.98,97.15 L408.18,97.15 L408.38,97.15 L408.57,97.15 L408.77,97.15 L408.97,97.15 L409.17,97.15 L409.37,97.15 L409.57,97.15 L409.77,97.15 L409.97,97.15 L410.17,97.15 L410.37,97.15 L410.57,97.15 L410.77,97.15 L410.97,97.15 L411.17,97.15 L411.37,97.15 L411.57,97.15 L411.77,97.15 L411.97,97.15 L412.17,97.15 L412.37,97.15 L412.57,97.15 L412.77,97.15 L412.97,97.15 L413.17,97.15 L413.37,97.15 L413.57,97.15 L413.77,97.15 L413.97,97.15 L414.17,97.15 L414.37,97.15 L414.57,97.15 L414.77,97.15 L414.97,97.15 L415.17,97.15 L415.37,97.15 L415.57,97.15 L415.77,97.15 L415.97,97.15 L416.17,97.15 L416.37,97.15 L416.57,97.15 L416.77,97.15 L416.97,97.15 L417.17,97.15 L417.37,97.15 L417.57,97.15 L417.77,97.15 L417.97,97.15 L418.17,97.15 L418.37,97.15 L418.57,97.15 L418.77,97.15 L418.97,97.15 L419.17,97.15 L419.37,97.15 L419.57,97.15 L419.77,97.15 L419.97,97.15 L420.17,97.15 L420.37,97.15 L420.57,97.15 L420.77,97.15 L420.97,97.15 L421.17,97.15 L421.37,97.15 L421.57,97.15 L421.76,97.15 L421.96,97.15 L422.16,97.15 L422.36,97.15 L422.56,97.15 L422.76,97.15 L422.96,97.15 L423.16,97.15 L423.36,97.15 L423.56,97.15 L423.76,97.15 L423.96,97.15 L424.16,97.15 L424.36,97.15 L424.56,97.15 L424.76,97.15 L424.96,97.15 L425.16,97.15 L425.36,97.15 L425.56,97.15 L425.76,97.15 L425.96,97.15 L426.16,97.15 L426.36,97.15 L426.56,97.15 L426.76,97.15 L426.96,97.15 L427.16,97.15 L427.36,97.15 L427.56,97.15 L427.76,97.15 L427.96,97.15 L428.16,97.15 L428.36,97.15 L428.56,97.15 L428.76,97.15 L428.96,97.15 L429.16,97.15 L429.36,97.15 L429.56,97.15 L429.76,97.15 L429.96,97.15 L430.16,97.15 L430.36,97.15 L430.56,97.15 L430.76,97.15 L430.96,97.15 L431.16,97.15 L431.36,97.15 L431.56,97.15 L431.76,97.15 L431.96,97.15 L432.16,97.15 L432.36,97.15 L432.56,97.15 L432.76,97.15 L432.96,97.15 L433.16,97.15 L433.36,97.15 L433.56,97.15 L433.76,97.15 L433.96,97.15 L434.16,97.15 L434.36,97.15 L434.56,97.15 L434.76,97.15 L434.95,97.15 L435.15,97.15 L435.35,97.15 L435.55,97.15 L435.75,97.15 L435.95,97.15 L436.15,97.15 L436.35,97.15 L436.55,97.15 L436.75,97.15 L436.95,97.15 L437.15,97.15 L437.35,97.15 L437.55,97.15 L437.75,97.15 L437.95,97.15 L438.15,97.15 L438.35,97.15 L438.55,97.15 L438.75,97.15 L438.95,97.15 L439.15,97.15 L439.35,97.15 L439.55,97.15 L439.75,97.15 L439.95,97.15 L440.15,97.15 L440.35,97.15 L440.55,97.15 L440.75,97.15 L440.95,97.15 L441.15,97.15 L441.35,97.15 L441.55,97.15 L441.75,92.91 L441.95,88.70 L442.15,84.53 L442.35,80.44 L442.55,76.45 L442.75,72.57 L442.95,68.84 L443.15,65.27 L443.35,61.89 L443.55,58.71 L443.75,55.75 L443.95,53.03 L444.15,50.57 L444.35,48.38 L444.55,46.48 L444.75,44.86 L444.95,43.55 L445.15,42.55 L445.35,41.87 L445.55,41.50 L445.75,41.46 L445.95,41.75 L446.15,42.35 L446.35,43.27 L446.55,44.51 L446.75,46.04 L446.95,47.88 L447.15,50.00 L447.35,52.40 L447.55,55.05 L447.75,57.95 L447.95,61.07 L448.14,64.41 L448.34,67.93 L448.54,71.62 L448.74,75.47 L448.94,79.43 L449.14,83.50 L449.34,87.65 L449.54,91.86 L449.74,96.09 L449.94,100.33 L450.14,104.55 L450.34,108.73 L450.54,112.85 L450.74,116.87 L450.94,120.78 L451.14,124.55 L451.34,128.16 L451.54,131.59 L451.74,134.82 L451.94,137.83 L452.14,140.61 L452.34,143.14 L452.54,145.40 L452.74,147.38 L452.94,149.07 L453.14,150.45 L453.34,151.53 L453.54,152.29 L453.74,152.74 L453.94,152.86 L454.14,152.66 L454.34,152.13 L454.54,151.29 L454.74,150.13 L454.94,148.67 L455.14,146.91 L455.34,144.86 L455.54,142.53 L455.74,139.94 L455.94,137.10 L456.14,134.03 L456.34,130.75 L456.54,127.27 L456.74,123.62 L456.94,119.81 L457.14,115.87 L457.34,111.83 L457.54,107.69 L457.74,103.50 L457.94,99.27 L458.14,95.03 L458.34,90.80 L458.54,86.61 L458.74,82.48 L458.94,78.43 L459.14,74.49 L459.34,70.69 L459.54,67.03 L459.74,63.55 L459.94,60.27 L460.14,57.20 L460.34,54.36 L460.54,51.77 L460.74,49.44 L460.94,47.39 L461.14,45.63 L461.34,44.17 L461.53,43.01 L461.73,42.17 L461.93,41.65 L462.13,41.44 L462.33,41.57 L462.53,42.01 L462.73,42.77 L462.93,43.85 L463.13,45.24 L463.33,46.93 L463.53,48.91 L463.73,51.16 L463.93,53.69 L464.13,56.47 L464.33,59.48 L464.53,62.71 L464.73,66.15 L464.93,69.76 L465.13,73.53 L465.33,77.43 L465.53,81.46 L465.73,85.57 L465.93,89.75 L466.13,93.97 L466.33,98.21 L466.53,102.45 L466.73,106.65 L466.93,110.80 L467.13,114.87 L467.33,118.84 L467.53,122.68 L467.73,126.37 L467.93,129.90 L468.13,133.23 L468.33,136.36 L468.53,139.25 L468.73,141.91 L468.93,144.30 L469.13,146.42 L469.33,148.26 L469.53,149.80 L469.73,151.03 L469.93,151.95 L470.13,152.56 L470.33,152.84 L470.53,152.80 L470.73,152.43 L470.93,151.75 L471.13,150.75 L471.33,149.44 L471.53,147.83 L471.73,145.92 L471.93,143.73 L472.13,141.27 L472.33,138.55 L472.53,135.60 L472.73,132.42 L472.93,129.03 L473.13,125.46 L473.33,121.73 L473.53,117.86 L473.73,113.86 L473.93,109.77 L474.13,105.60 L474.33,101.39 L474.53,97.15 L474.72,92.91 L474.92,88.70 L475.12,84.53 L475.32,80.44 L475.52,76.45 L475.72,72.57 L475.92,68.84 L476.12,65.27 L476.32,61.89 L476.52,58.71 L476.72,55.75 L476.92,53.03 L477.12,50.57 L477.32,48.38 L477.52,46.48 L477.72,44.86 L477.92,43.55 L478.12,42.55 L478.32,41.87 L478.52,41.50 L478.72,41.46 L478.92,41.75 L479.12,42.35 L479.32,43.27 L479.52,44.51 L479.72,46.04 L479.92,47.88 L480.12,50.00 L480.32,52.40 L480.52,55.05 L480.72,57.95 L480.92,61.07 L481.12,64.41 L481.32,67.93 L481.52,71.62 L481.72,75.47 L481.92,79.43 L482.12,83.50 L482.32,87.65 L482.52,91.86 L482.72,96.09 L482.92,100.33 L483.12,104.55 L483.32,108.73 L483.52,112.85 L483.72,116.87 L483.92,120.78 L484.12,124.55 L484.32,128.16 L484.52,131.59 L484.72,134.82 L484.92,137.83 L485.12,140.61 L485.32,143.14 L485.52,145.40 L485.72,147.38 L485.92,149.07 L486.12,150.45 L486.32,151.53 L486.52,152.29 L486.72,152.74 L486.92,152.86 L487.12,152.66 L487.32,152.13 L487.52,151.29 L487.72,150.13 L487.91,148.67 L488.11,146.91 L488.31,144.86 L488.51,142.53 L488.71,139.94 L488.91,137.10 L489.11,134.03 L489.31,130.75 L489.51,127.27 L489.71,123.62 L489.91,119.81 L490.11,115.87 L490.31,111.83 L490.51,107.69 L490.71,103.50 L490.91,99.27 L491.11,95.03 L491.31,90.80 L491.51,86.61 L491.71,82.48 L491.91,78.43 L492.11,74.49 L492.31,70.69 L492.51,67.03 L492.71,63.55 L492.91,60.27 L493.11,57.20 L493.31,54.36 L493.51,51.77 L493.71,49.44 L493.91,47.39 L494.11,45.63 L494.31,44.17 L494.51,43.01 L494.71,42.17 L494.91,41.65 L495.11,41.44 L495.31,41.57 L495.51,42.01 L495.71,42.77 L495.91,43.85 L496.11,45.24 L496.31,46.93 L496.51,48.91 L496.71,51.16 L496.91,53.69 L497.11,56.47 L497.31,59.48 L497.51,62.71 L497.71,66.15 L497.91,69.76 L498.11,73.53 L498.31,77.43 L498.51,81.46 L498.71,85.57 L498.91,89.75 L499.11,93.97 L499.31,98.21 L499.51,102.45 L499.71,106.65 L499.91,110.80 L500.11,114.87 L500.31,118.84 L500.51,122.68 L500.71,126.37 L500.91,129.90 L501.10,133.23 L501.30,136.36 L501.50,139.25 L501.70,141.91 L501.90,144.30 L502.10,146.42 L502.30,148.26 L502.50,149.80 L502.70,151.03 L502.90,151.95 L503.10,152.56 L503.30,152.84 L503.50,152.80 L503.70,152.43 L503.90,151.75 L504.10,150.75 L504.30,149.44 L504.50,147.83 L504.70,145.92 L504.90,143.73 L505.10,141.27 L505.30,138.55 L505.50,135.60 L505.70,132.42 L505.90,129.03 L506.10,125.46 L506.30,121.73 L506.50,117.86 L506.70,113.86 L506.90,109.77 L507.10,105.60 L507.30,101.39 L507.50,97.15 L507.70,92.91 L507.90,88.70 L508.10,84.53 L508.30,80.44 L508.50,76.45 L508.70,72.57 L508.90,68.84 L509.10,65.27 L509.30,61.89 L509.50,58.71 L509.70,55.75 L509.90,53.03 L510.10,50.57 L510.30,48.38 L510.50,46.48 L510.70,44.86 L510.90,43.55 L511.10,42.55 L511.30,41.87 L511.50,41.50 L511.70,41.46 L511.90,41.75 L512.10,42.35 L512.30,43.27 L512.50,44.51 L512.70,46.04 L512.90,47.88 L513.10,50.00 L513.30,52.40 L513.50,55.05 L513.70,57.95 L513.90,61.07 L514.10,64.41 L514.29,67.93 L514.49,71.62 L514.69,75.47 L514.89,79.43 L515.09,83.50 L515.29,87.65 L515.49,91.86 L515.69,96.09 L515.89,100.33 L516.09,104.55 L516.29,108.73 L516.49,112.85 L516.69,116.87 L516.89,120.78 L517.09,124.55 L517.29,128.16 L517.49,131.59 L517.69,134.82 L517.89,137.83 L518.09,140.61 L518.29,143.14 L518.49,145.40 L518.69,147.38 L518.89,149.07 L519.09,150.45 L519.29,151.53 L519.49,152.29 L519.69,152.74 L519.89,152.86 L520.09,152.66 L520.29,152.13 L520.49,151.29 L520.69,150.13 L520.89,148.67 L521.09,146.91 L521.29,144.86 L521.49,142.53 L521.69,139.94 L521.89,137.10 L522.09,134.03 L522.29,130.75 L522.49,127.27 L522.69,123.62 L522.89,119.81 L523.09,115.87 L523.29,111.83 L523.49,107.69 L523.69,103.50 L523.89,99.27 L524.09,95.03 L524.29,90.80 L524.49,86.61 L524.69,82.48 L524.89,78.43 L525.09,74.49 L525.29,70.69 L525.49,67.03 L525.69,63.55 L525.89,60.27 L526.09,57.20 L526.29,54.36 L526.49,51.77 L526.69,49.44 L526.89,47.39 L527.09,45.63 L527.28,44.17 L527.48,43.01 L527.68,42.17 L527.88,41.65 L528.08,41.44 L528.28,41.57 L528.48,42.01 L528.68,42.77 L528.88,43.85 L529.08,45.24 L529.28,46.93 L529.48,48.91 L529.68,51.16 L529.88,53.69 L530.08,56.47 L530.28,59.48 L530.48,62.71 L530.68,66.15 L530.88,69.76 L531.08,73.53 L531.28,77.43 L531.48,81.46 L531.68,85.57 L531.88,89.75 L532.08,93.97 L532.28,98.21 L532.48,102.45 L532.68,106.65 L532.88,110.80 L533.08,114.87 L533.28,118.84 L533.48,122.68 L533.68,126.37 L533.88,129.90 L534.08,133.23 L534.28,136.36 L534.48,139.25 L534.68,141.91 L534.88,144.30 L535.08,146.42 L535.28,148.26 L535.48,149.80 L535.68,151.03 L535.88,151.95 L536.08,152.56 L536.28,152.84 L536.48,152.80 L536.68,152.43 L536.88,151.75 L537.08,150.75 L537.28,149.44 L537.48,147.83 L537.68,145.92 L537.88,143.73 L538.08,141.27 L538.28,138.55 L538.48,135.60 L538.68,132.42 L538.88,129.03 L539.08,125.46 L539.28,121.73 L539.48,117.86 L539.68,113.86 L539.88,109.77 L540.08,105.60 L540.28,101.39 L540.48,97.15 L540.67,92.91 L540.87,88.70 L541.07,84.53 L541.27,80.44 L541.47,76.45 L541.67,72.57 L541.87,68.84 L542.07,65.27 L542.27,61.89 L542.47,58.71 L542.67,55.75 L542.87,53.03 L543.07,50.57 L543.27,48.38 L543.47,46.48 L543.67,44.86 L543.87,43.55 L544.07,42.55 L544.27,41.87 L544.47,41.50 L544.67,41.46 L544.87,41.75 L545.07,42.35 L545.27,43.27 L545.47,44.51 L545.67,46.04 L545.87,47.88 L546.07,50.00 L546.27,52.40 L546.47,55.05 L546.67,57.95 L546.87,61.07 L547.07,64.41 L547.27,67.93 L547.47,71.62 L547.67,75.47 L547.87,79.43 L548.07,83.50 L548.27,87.65 L548.47,91.86 L548.67,96.09 L548.87,100.33 L549.07,104.55 L549.27,108.73 L549.47,112.85 L549.67,116.87 L549.87,120.78 L550.07,124.55 L550.27,128.16 L550.47,131.59 L550.67,134.82 L550.87,137.83 L551.07,140.61 L551.27,143.14 L551.47,145.40 L551.67,147.38 L551.87,149.07 L552.07,150.45 L552.27,151.53 L552.47,152.29 L552.67,152.74 L552.87,152.86 L553.07,152.66 L553.27,152.13 L553.47,151.29 L553.66,150.13 L553.86,148.67 L554.06,146.91 L554.26,144.86 L554.46,142.53 L554.66,139.94 L554.86,137.10 L555.06,134.03 L555.26,130.75 L555.46,127.27 L555.66,123.62 L555.86,119.81 L556.06,115.87 L556.26,111.83 L556.46,107.69 L556.66,103.50 L556.86,99.27 L557.06,95.03 L557.26,90.80 L557.46,86.61 L557.66,82.48 L557.86,78.43 L558.06,74.49 L558.26,70.69 L558.46,67.03 L558.66,63.55 L558.86,60.27 L559.06,57.20 L559.26,54.36 L559.46,51.77 L559.66,49.44 L559.86,47.39 L560.06,45.63 L560.26,44.17 L560.46,43.01 L560.66,42.17 L560.86,41.65 L561.06,41.44 L561.26,41.57 L561.46,42.01 L561.66,42.77 L561.86,43.85 L562.06,45.24 L562.26,46.93 L562.46,48.91 L562.66,51.16 L562.86,53.69 L563.06,56.47 L563.26,59.48 L563.46,62.71 L563.66,66.15 L563.86,69.76 L564.06,73.53 L564.26,77.43 L564.46,81.46 L564.66,85.57 L564.86,89.75 L565.06,93.97 L565.26,98.21 L565.46,102.45 L565.66,106.65 L565.86,110.80 L566.06,114.87 L566.26,118.84 L566.46,122.68 L566.66,126.37 L566.86,129.90 L567.05,133.23 L567.25,136.36 L567.45,139.25 L567.65,141.91 L567.85,144.30 L568.05,146.42 L568.25,148.26 L568.45,149.80 L568.65,151.03 L568.85,151.95 L569.05,152.56 L569.25,152.84 L569.45,152.80 L569.65,152.43 L569.85,151.75 L570.05,150.75 L570.25,149.44 L570.45,147.83 L570.65,145.92 L570.85,143.73 L571.05,141.27 L571.25,138.55 L571.45,135.60 L571.65,132.42 L571.85,129.03 L572.05,125.46 L572.25,121.73 L572.45,117.86 L572.65,113.86 L572.85,109.77 L573.05,105.60 L573.25,101.39 L573.45,97.15 L573.65,97.15 L573.85,97.15 L574.05,97.15 L574.25,97.15 L574.45,97.15 L574.65,97.15 L574.85,97.15 L575.05,97.15 L575.25,97.15 L575.45,97.15 L575.65,97.15 L575.85,97.15 L576.05,97.15 L576.25,97.15 L576.45,97.15 L576.65,97.15 L576.85,97.15 L577.05,97.15 L577.25,97.15 L577.45,97.15 L577.65,97.15 L577.85,97.15 L578.05,97.15 L578.25,97.15 L578.45,97.15 L578.65,97.15 L578.85,97.15 L579.05,97.15 L579.25,97.15 L579.45,97.15 L579.65,97.15 L579.85,97.15 L580.05,97.15 L580.24,97.15 L580.44,97.15 L580.64,97.15 L580.84,97.15 L581.04,97.15 L581.24,97.15 L581.44,97.15 L581.64,97.15 L581.84,97.15 L582.04,97.15 L582.24,97.15 L582.44,97.15 L582.64,97.15 L582.84,97.15 L583.04,97.15 L583.24,97.15 L583.44,97.15 L583.64,97.15 L583.84,97.15 L584.04,97.15 L584.24,97.15 L584.44,97.15 L584.64,97.15 L584.84,97.15 L585.04,97.15 L585.24,97.15 L585.44,97.15 L585.64,97.15 L585.84,97.15 L586.04,97.15 L586.24,97.15 L586.44,97.15 L586.64,97.15 L586.84,97.15 L587.04,97.15 L587.24,97.15 L587.44,97.15 L587.64,97.15 L587.84,97.15 L588.04,97.15 L588.24,97.15 L588.44,97.15 L588.64,97.15 L588.84,97.15 L589.04,97.15 L589.24,97.15 L589.44,97.15 L589.64,97.15 L589.84,97.15 L590.04,97.15 L590.24,97.15 L590.44,97.15 L590.64,97.15 L590.84,97.15 L591.04,97.15 L591.24,97.15 L591.44,97.15 L591.64,97.15 L591.84,97.15 L592.04,97.15 L592.24,97.15 L592.44,97.15 L592.64,97.15 L592.84,97.15 L593.04,97.15 L593.24,97.15 L593.43,97.15 L593.63,97.15 L593.83,97.15 L594.03,97.15 L594.23,97.15 L594.43,97.15 L594.63,97.15 L594.83,97.15 L595.03,97.15 L595.23,97.15 L595.43,97.15 L595.63,97.15 L595.83,97.15 L596.03,97.15 L596.23,97.15 L596.43,97.15 L596.63,97.15 L596.83,97.15 L597.03,97.15 L597.23,97.15 L597.43,97.15 L597.63,97.15 L597.83,97.15 L598.03,97.15 L598.23,97.15 L598.43,97.15 L598.63,97.15 L598.83,97.15 L599.03,97.15 L599.23,97.15 L599.43,97.15 L599.63,97.15 L599.83,97.15 L600.03,97.15 L600.23,97.15 L600.43,97.15 L600.63,97.15 L600.83,97.15 L601.03,97.15 L601.23,97.15 L601.43,97.15 L601.63,97.15 L601.83,97.15 L602.03,97.15 L602.23,97.15 L602.43,97.15 L602.63,97.15 L602.83,97.15 L603.03,97.15 L603.23,97.15 L603.43,97.15 L603.63,97.15 L603.83,97.15 L604.03,97.15 L604.23,97.15 L604.43,97.15 L604.63,97.15 L604.83,97.15 L605.03,97.15 L605.23,97.15 L605.43,97.15 L605.63,97.15 L605.83,97.15 L606.03,97.15 L606.23,97.15 L606.43,97.15 L606.62,97.15 L606.82,97.15 L607.02,97.15 L607.22,97.15 L607.42,97.15 L607.62,97.15 L607.82,97.15 L608.02,97.15 L608.22,97.15 L608.42,97.15 L608.62,97.15 L608.82,97.15 L609.02,97.15 L609.22,97.15 L609.42,97.15 L609.62,97.15 L609.82,97.15 L610.02,97.15 L610.22,97.15 L610.42,97.15 L610.62,97.15 L610.82,97.15 L611.02,97.15 L611.22,97.15 L611.42,97.15 L611.62,97.15 L611.82,97.15 L612.02,97.15 L612.22,97.15 L612.42,97.15 L612.62,97.15 L612.82,97.15 L613.02,97.15 L613.22,97.15 L613.42,97.15 L613.62,97.15 L613.82,97.15 L614.02,97.15 L614.22,97.15 L614.42,97.15 L614.62,97.15 L614.82,97.15 L615.02,97.15 L615.22,97.15 L615.42,97.15 L615.62,97.15 L615.82,97.15 L616.02,97.15 L616.22,97.15 L616.42,97.15 L616.62,97.15 L616.82,97.15 L617.02,97.15 L617.22,97.15 L617.42,97.15 L617.62,97.15 L617.82,97.15 L618.02,97.15 L618.22,97.15 L618.42,97.15 L618.62,97.15 L618.82,97.15 L619.02,97.15 L619.22,97.15 L619.42,97.15 L619.62,97.15 L619.81,97.15 L620.01,97.15 L620.21,97.15 L620.41,97.15 L620.61,97.15 L620.81,97.15 L621.01,97.15 L621.21,97.15 L621.41,97.15 L621.61,97.15 L621.81,97.15 L622.01,97.15 L622.21,97.15 L622.41,97.15 L622.61,97.15 L622.81,97.15 L623.01,97.15 L623.21,97.15 L623.41,97.15 L623.61,97.15 L623.81,97.15 L624.01,97.15 L624.21,97.15 L624.41,97.15 L624.61,97.15 L624.81,97.15 L625.01,97.15 L625.21,97.15 L625.41,97.15 L625.61,97.15 L625.81,97.15 L626.01,97.15 L626.21,97.15 L626.41,97.15 L626.61,97.15 L626.81,97.15 L627.01,97.15 L627.21,97.15 L627.41,97.15 L627.61,97.15 L627.81,97.15 L628.01,97.15 L628.21,97.15 L628.41,97.15 L628.61,97.15 L628.81,97.15 L629.01,97.15 L629.21,97.15 L629.41,97.15 L629.61,97.15 L629.81,97.15 L630.01,97.15 L630.21,97.15 L630.41,97.15 L630.61,97.15 L630.81,97.15 L631.01,97.15 L631.21,97.15 L631.41,97.15 L631.61,97.15 L631.81,97.15 L632.01,97.15 L632.21,97.15 L632.41,97.15 L632.61,97.15 L632.81,97.15 L633.00,97.15 L633.20,97.15 L633.40,97.15 L633.60,97.15 L633.80,97.15 L634.00,97.15 L634.20,97.15 L634.40,97.15 L634.60,97.15 L634.80,97.15 L635.00,97.15 L635.20,97.15 L635.40,97.15 L635.60,97.15 L635.80,97.15 L636.00,97.15 L636.20,97.15 L636.40,97.15 L636.60,97.15 L636.80,97.15 L637.00,97.15 L637.20,97.15 L637.40,97.15 L637.60,97.15 L637.80,97.15 L638.00,97.15 L638.20,97.15 L638.40,97.15 L638.60,97.15 L638.80,97.15 L639.00,97.15 L639.20,97.15 L639.40,97.15"/>
<path class="ax" d="M375.50,33.30 L375.50,164.00 L636.00,164.00"/>
<path fill="#000" d="M375.50,30.10 L378.40,35.00 L375.50,33.90 L372.60,35.00 Z"/>
<path fill="#000" d="M639.20,164.00 L634.30,161.10 L635.40,164.00 L634.30,166.90 Z"/>
</g>
<g>
<line class="gd" x1="132.95" y1="209.10" x2="132.95" y2="342.95" stroke-dashoffset="6.70"/>
<line class="gd" x1="264.90" y1="209.10" x2="264.90" y2="342.95" stroke-dashoffset="6.70"/>
<line class="tk" x1="63.90" y1="318.29" x2="69.90" y2="318.29"/>
<text x="57.60" y="323.74" transform="rotate(0.03 57.60 323.74)" font-size="18.2" text-anchor="end" textLength="8.3" lengthAdjust="spacingAndGlyphs">5</text>
<line class="mn" x1="37.00" y1="318.74" x2="47.30" y2="318.74"/>
<line class="tk" x1="63.90" y1="276.02" x2="69.90" y2="276.02"/>
<text x="57.60" y="282.17" transform="rotate(0.03 57.60 282.17)" font-size="18.2" text-anchor="end" textLength="8.3" lengthAdjust="spacingAndGlyphs">0</text>
<line class="tk" x1="63.90" y1="233.76" x2="69.90" y2="233.76"/>
<text x="57.60" y="239.91" transform="rotate(0.03 57.60 239.91)" font-size="18.2" text-anchor="end" textLength="8.3" lengthAdjust="spacingAndGlyphs">5</text>
<path class="cr" d="M66.97,276.00 L67.17,276.00 L67.37,276.00 L67.57,276.00 L67.77,276.00 L67.97,276.00 L68.17,276.00 L68.37,276.00 L68.57,276.00 L68.77,276.00 L68.97,275.99 L69.17,275.99 L69.37,275.99 L69.57,275.99 L69.77,275.99 L69.97,275.99 L70.17,275.99 L70.37,275.99 L70.57,275.99 L70.77,275.99 L70.97,275.99 L71.17,275.99 L71.37,275.99 L71.57,275.98 L71.77,275.98 L71.97,275.98 L72.17,275.98 L72.37,275.98 L72.57,275.98 L72.77,275.98 L72.97,275.98 L73.17,275.98 L73.37,275.97 L73.57,275.97 L73.77,275.97 L73.97,275.97 L74.17,275.97 L74.37,275.97 L74.57,275.97 L74.77,275.97 L74.97,275.96 L75.17,275.96 L75.37,275.96 L75.57,275.96 L75.77,275.96 L75.97,275.96 L76.17,275.96 L76.37,275.95 L76.57,275.95 L76.77,275.95 L76.97,275.95 L77.17,275.95 L77.37,275.95 L77.57,275.94 L77.77,275.94 L77.97,275.94 L78.17,275.94 L78.37,275.94 L78.57,275.93 L78.77,275.93 L78.97,275.93 L79.17,275.93 L79.37,275.93 L79.57,275.92 L79.77,275.92 L79.97,275.92 L80.17,275.92 L80.37,275.91 L80.57,275.91 L80.77,275.91 L80.97,275.91 L81.17,275.90 L81.37,275.90 L81.57,275.90 L81.77,275.89 L81.97,275.89 L82.17,275.89 L82.37,275.89 L82.57,275.88 L82.77,275.88 L82.97,275.88 L83.17,275.87 L83.37,275.87 L83.57,275.87 L83.77,275.86 L83.97,275.86 L84.17,275.85 L84.37,275.85 L84.57,275.85 L84.77,275.84 L84.97,275.84 L85.17,275.83 L85.37,275.83 L85.57,275.83 L85.77,275.82 L85.97,275.82 L86.17,275.81 L86.37,275.81 L86.57,275.80 L86.77,275.80 L86.97,275.79 L87.17,275.79 L87.37,275.78 L87.57,275.78 L87.77,275.77 L87.97,275.77 L88.17,275.76 L88.37,275.75 L88.57,275.75 L88.77,275.74 L88.97,275.74 L89.17,275.73 L89.37,275.72 L89.57,275.72 L89.77,275.71 L89.97,275.70 L90.17,275.70 L90.37,275.69 L90.57,275.68 L90.77,275.67 L90.97,275.67 L91.17,275.66 L91.37,275.65 L91.57,275.64 L91.77,275.63 L91.97,275.62 L92.17,275.62 L92.37,275.61 L92.57,275.60 L92.77,275.59 L92.97,275.58 L93.17,275.57 L93.36,275.56 L93.56,275.55 L93.76,275.54 L93.96,275.53 L94.16,275.52 L94.36,275.51 L94.56,275.50 L94.76,275.48 L94.96,275.47 L95.16,275.46 L95.36,275.45 L95.56,275.44 L95.76,275.42 L95.96,275.41 L96.16,275.40 L96.36,275.39 L96.56,275.37 L96.76,275.36 L96.96,275.34 L97.16,275.33 L97.36,275.31 L97.56,275.30 L97.76,275.28 L97.96,275.27 L98.16,275.25 L98.36,275.24 L98.56,275.22 L98.76,275.20 L98.96,275.19 L99.16,275.17 L99.36,275.15 L99.56,275.13 L99.76,275.11 L99.96,275.10 L100.16,275.08 L100.36,275.06 L100.56,275.04 L100.76,275.02 L100.96,275.00 L101.16,274.97 L101.36,274.95 L101.56,274.93 L101.76,274.91 L101.96,274.89 L102.16,274.86 L102.36,274.84 L102.56,274.82 L102.76,274.79 L102.96,274.77 L103.16,274.74 L103.36,274.72 L103.56,274.69 L103.76,274.66 L103.96,274.64 L104.16,274.61 L104.36,274.58 L104.56,274.55 L104.76,274.52 L104.96,274.49 L105.16,274.46 L105.36,274.43 L105.56,274.40 L105.76,274.37 L105.96,274.34 L106.16,274.30 L106.36,274.27 L106.56,274.24 L106.76,274.20 L106.96,274.17 L107.16,274.13 L107.36,274.10 L107.56,274.06 L107.76,274.02 L107.96,273.98 L108.16,273.94 L108.36,273.91 L108.56,273.87 L108.76,273.83 L108.96,273.78 L109.16,273.74 L109.36,273.70 L109.56,273.66 L109.76,273.61 L109.96,273.57 L110.16,273.53 L110.36,273.48 L110.56,273.43 L110.76,273.39 L110.96,273.34 L111.16,273.29 L111.36,273.24 L111.56,273.19 L111.76,273.14 L111.96,273.09 L112.16,273.04 L112.36,272.99 L112.56,272.94 L112.76,272.88 L112.96,272.83 L113.16,272.77 L113.36,272.72 L113.56,272.66 L113.76,272.61 L113.96,272.55 L114.16,272.49 L114.36,272.43 L114.56,272.37 L114.76,272.32 L114.96,272.25 L115.16,272.19 L115.36,272.13 L115.56,272.07 L115.76,272.01 L115.96,271.95 L116.16,271.88 L116.36,271.82 L116.56,271.75 L116.76,271.69 L116.96,271.62 L117.16,271.56 L117.36,271.49 L117.56,271.42 L117.76,271.36 L117.96,271.29 L118.16,271.22 L118.36,271.16 L118.56,271.09 L118.76,271.02 L118.96,270.95 L119.16,270.88 L119.36,270.82 L119.56,270.75 L119.75,270.68 L119.95,270.61 L120.15,270.54 L120.35,270.48 L120.55,270.41 L120.75,270.34 L120.95,270.27 L121.15,270.21 L121.35,270.14 L121.55,270.08 L121.75,270.01 L121.95,269.95 L122.15,269.89 L122.35,269.83 L122.55,269.76 L122.75,269.70 L122.95,269.65 L123.15,269.59 L123.35,269.53 L123.55,269.48 L123.75,269.43 L123.95,269.38 L124.15,269.33 L124.35,269.28 L124.55,269.24 L124.75,269.20 L124.95,269.16 L125.15,269.12 L125.35,269.09 L125.55,269.06 L125.75,269.03 L125.95,269.01 L126.15,268.99 L126.35,268.98 L126.55,268.97 L126.75,268.96 L126.95,268.96 L127.15,268.96 L127.35,268.97 L127.55,268.98 L127.75,269.00 L127.95,269.02 L128.15,269.05 L128.35,269.09 L128.55,269.14 L128.75,269.19 L128.95,269.25 L129.15,269.32 L129.35,269.39 L129.55,269.48 L129.75,269.57 L129.95,269.67 L130.15,269.79 L130.35,269.91 L130.55,270.05 L130.75,270.19 L130.95,270.35 L131.15,270.52 L131.35,270.71 L131.55,270.90 L131.75,271.12 L131.95,271.34 L132.15,271.59 L132.35,271.85 L132.55,272.12 L132.75,272.41 L132.95,272.73 L133.15,273.06 L133.35,273.41 L133.55,273.78 L133.75,274.17 L133.95,274.58 L134.15,275.01 L134.35,275.46 L134.55,275.93 L134.75,276.42 L134.95,276.92 L135.15,277.44 L135.35,277.98 L135.55,278.52 L135.75,279.07 L135.95,279.64 L136.15,280.20 L136.35,280.78 L136.55,281.35 L136.75,281.92 L136.95,282.49 L137.15,283.05 L137.35,283.60 L137.55,284.15 L137.75,284.67 L137.95,285.18 L138.15,285.68 L138.35,286.15 L138.55,286.60 L138.75,287.02 L138.95,287.41 L139.15,287.78 L139.35,288.11 L139.55,288.41 L139.75,288.68 L139.95,288.90 L140.15,289.09 L140.35,289.24 L140.55,289.36 L140.75,289.43 L140.95,289.46 L141.15,289.45 L141.35,289.40 L141.55,289.31 L141.75,289.17 L141.95,289.00 L142.15,288.79 L142.35,288.54 L142.55,288.26 L142.75,287.94 L142.95,287.59 L143.15,287.21 L143.35,286.79 L143.55,286.35 L143.75,285.89 L143.95,285.40 L144.15,284.89 L144.35,284.37 L144.55,283.83 L144.75,283.28 L144.95,282.71 L145.15,282.15 L145.35,281.58 L145.55,281.01 L145.75,280.44 L145.95,279.88 L146.14,279.33 L146.34,278.79 L146.54,278.27 L146.74,277.76 L146.94,277.27 L147.14,276.81 L147.34,276.36 L147.54,275.95 L147.74,275.56 L147.94,275.21 L148.14,274.89 L148.34,274.60 L148.54,274.34 L148.74,274.13 L148.94,273.95 L149.14,273.81 L149.34,273.70 L149.54,273.64 L149.74,273.61 L149.94,273.63 L150.14,273.68 L150.34,273.77 L150.54,273.89 L150.74,274.05 L150.94,274.24 L151.14,274.47 L151.34,274.73 L151.54,275.02 L151.74,275.33 L151.94,275.67 L152.14,276.04 L152.34,276.42 L152.54,276.82 L152.74,277.24 L152.94,277.67 L153.14,278.10 L153.34,278.55 L153.54,279.00 L153.74,279.45 L153.94,279.90 L154.14,280.34 L154.34,280.78 L154.54,281.20 L154.74,281.61 L154.94,282.01 L155.14,282.39 L155.34,282.74 L155.54,283.08 L155.74,283.39 L155.94,283.67 L156.14,283.92 L156.34,284.14 L156.54,284.32 L156.74,284.48 L156.94,284.60 L157.14,284.68 L157.34,284.72 L157.54,284.73 L157.74,284.70 L157.94,284.63 L158.14,284.53 L158.34,284.39 L158.54,284.21 L158.74,284.00 L158.94,283.75 L159.14,283.47 L159.34,283.15 L159.54,282.81 L159.74,282.43 L159.94,282.03 L160.14,281.61 L160.34,281.16 L160.54,280.70 L160.74,280.21 L160.94,279.72 L161.14,279.21 L161.34,278.69 L161.54,278.16 L161.74,277.63 L161.94,277.10 L162.14,276.57 L162.34,276.05 L162.54,275.54 L162.74,275.03 L162.94,274.54 L163.14,274.07 L163.34,273.61 L163.54,273.18 L163.74,272.77 L163.94,272.39 L164.14,272.03 L164.34,271.71 L164.54,271.42 L164.74,271.15 L164.94,270.93 L165.14,270.74 L165.34,270.59 L165.54,270.47 L165.74,270.40 L165.94,270.36 L166.14,270.36 L166.34,270.40 L166.54,270.47 L166.74,270.59 L166.94,270.74 L167.14,270.93 L167.34,271.15 L167.54,271.40 L167.74,271.69 L167.94,272.01 L168.14,272.35 L168.34,272.72 L168.54,273.12 L168.74,273.53 L168.94,273.97 L169.14,274.42 L169.34,274.88 L169.54,275.36 L169.74,275.84 L169.94,276.33 L170.14,276.81 L170.34,277.30 L170.54,277.79 L170.74,278.27 L170.94,278.74 L171.14,279.19 L171.34,279.63 L171.54,280.06 L171.74,280.46 L171.94,280.84 L172.14,281.20 L172.34,281.53 L172.53,281.83 L172.73,282.10 L172.93,282.34 L173.13,282.54 L173.33,282.71 L173.53,282.84 L173.73,282.94 L173.93,282.99 L174.13,283.01 L174.33,283.00 L174.53,282.94 L174.73,282.85 L174.93,282.72 L175.13,282.55 L175.33,282.35 L175.53,282.11 L175.73,281.84 L175.93,281.54 L176.13,281.20 L176.33,280.84 L176.53,280.46 L176.73,280.05 L176.93,279.61 L177.13,279.16 L177.33,278.70 L177.53,278.22 L177.73,277.72 L177.93,277.23 L178.13,276.72 L178.33,276.21 L178.53,275.71 L178.73,275.20 L178.93,274.70 L179.13,274.22 L179.33,273.74 L179.53,273.28 L179.73,272.83 L179.93,272.41 L180.13,272.01 L180.33,271.63 L180.53,271.28 L180.73,270.96 L180.93,270.66 L181.13,270.40 L181.33,270.18 L181.53,269.99 L181.73,269.83 L181.93,269.72 L182.13,269.64 L182.33,269.59 L182.53,269.59 L182.73,269.63 L182.93,269.70 L183.13,269.81 L183.33,269.96 L183.53,270.14 L183.73,270.36 L183.93,270.61 L184.13,270.90 L184.33,271.21 L184.53,271.56 L184.73,271.93 L184.93,272.32 L185.13,272.74 L185.33,273.18 L185.53,273.63 L185.73,274.10 L185.93,274.58 L186.13,275.07 L186.33,275.57 L186.53,276.07 L186.73,276.57 L186.93,277.06 L187.13,277.56 L187.33,278.04 L187.53,278.51 L187.73,278.97 L187.93,279.42 L188.13,279.84 L188.33,280.24 L188.53,280.62 L188.73,280.97 L188.93,281.29 L189.13,281.59 L189.33,281.85 L189.53,282.08 L189.73,282.27 L189.93,282.43 L190.13,282.55 L190.33,282.64 L190.53,282.68 L190.73,282.69 L190.93,282.66 L191.13,282.59 L191.33,282.49 L191.53,282.35 L191.73,282.17 L191.93,281.95 L192.13,281.71 L192.33,281.42 L192.53,281.11 L192.73,280.77 L192.93,280.41 L193.13,280.01 L193.33,279.60 L193.53,279.16 L193.73,278.71 L193.93,278.24 L194.13,277.76 L194.33,277.27 L194.53,276.77 L194.73,276.27 L194.93,275.76 L195.13,275.26 L195.33,274.77 L195.53,274.28 L195.73,273.80 L195.93,273.33 L196.13,272.89 L196.33,272.46 L196.53,272.05 L196.73,271.66 L196.93,271.30 L197.13,270.97 L197.33,270.66 L197.53,270.39 L197.73,270.15 L197.93,269.95 L198.13,269.78 L198.33,269.65 L198.53,269.55 L198.73,269.49 L198.92,269.48 L199.12,269.49 L199.32,269.55 L199.52,269.65 L199.72,269.78 L199.92,269.95 L200.12,270.15 L200.32,270.39 L200.52,270.66 L200.72,270.97 L200.92,271.30 L201.12,271.66 L201.32,272.05 L201.52,272.46 L201.72,272.89 L201.92,273.33 L202.12,273.80 L202.32,274.28 L202.52,274.77 L202.72,275.26 L202.92,275.76 L203.12,276.27 L203.32,276.77 L203.52,277.27 L203.72,277.76 L203.92,278.24 L204.12,278.71 L204.32,279.16 L204.52,279.60 L204.72,280.01 L204.92,280.41 L205.12,280.77 L205.32,281.11 L205.52,281.42 L205.72,281.71 L205.92,281.95 L206.12,282.17 L206.32,282.35 L206.52,282.49 L206.72,282.59 L206.92,282.66 L207.12,282.69 L207.32,282.68 L207.52,282.64 L207.72,282.55 L207.92,282.43 L208.12,282.27 L208.32,282.08 L208.52,281.85 L208.72,281.59 L208.92,281.29 L209.12,280.97 L209.32,280.62 L209.52,280.24 L209.72,279.84 L209.92,279.42 L210.12,278.97 L210.32,278.51 L210.52,278.04 L210.72,277.56 L210.92,277.06 L211.12,276.57 L211.32,276.07 L211.52,275.57 L211.72,275.07 L211.92,274.58 L212.12,274.10 L212.32,273.63 L212.52,273.18 L212.72,272.74 L212.92,272.32 L213.12,271.93 L213.32,271.56 L213.52,271.21 L213.72,270.90 L213.92,270.61 L214.12,270.36 L214.32,270.14 L214.52,269.96 L214.72,269.81 L214.92,269.70 L215.12,269.63 L215.32,269.59 L215.52,269.59 L215.72,269.64 L215.92,269.72 L216.12,269.83 L216.32,269.99 L216.52,270.18 L216.72,270.40 L216.92,270.66 L217.12,270.96 L217.32,271.28 L217.52,271.63 L217.72,272.01 L217.92,272.41 L218.12,272.83 L218.32,273.28 L218.52,273.74 L218.72,274.22 L218.92,274.70 L219.12,275.20 L219.32,275.71 L219.52,276.21 L219.72,276.72 L219.92,277.23 L220.12,277.72 L220.32,278.22 L220.52,278.70 L220.72,279.16 L220.92,279.61 L221.12,280.05 L221.32,280.46 L221.52,280.84 L221.72,281.20 L221.92,281.54 L222.12,281.84 L222.32,282.11 L222.52,282.35 L222.72,282.55 L222.92,282.72 L223.12,282.85 L223.32,282.94 L223.52,283.00 L223.72,283.01 L223.92,282.99 L224.12,282.94 L224.32,282.84 L224.52,282.71 L224.72,282.54 L224.92,282.34 L225.12,282.10 L225.31,281.83 L225.51,281.53 L225.71,281.20 L225.91,280.84 L226.11,280.46 L226.31,280.06 L226.51,279.63 L226.71,279.19 L226.91,278.74 L227.11,278.27 L227.31,277.79 L227.51,277.30 L227.71,276.81 L227.91,276.33 L228.11,275.84 L228.31,275.36 L228.51,274.88 L228.71,274.42 L228.91,273.97 L229.11,273.53 L229.31,273.12 L229.51,272.72 L229.71,272.35 L229.91,272.01 L230.11,271.69 L230.31,271.40 L230.51,271.15 L230.71,270.93 L230.91,270.74 L231.11,270.59 L231.31,270.47 L231.51,270.40 L231.71,270.36 L231.91,270.36 L232.11,270.40 L232.31,270.47 L232.51,270.59 L232.71,270.74 L232.91,270.93 L233.11,271.15 L233.31,271.42 L233.51,271.71 L233.71,272.03 L233.91,272.39 L234.11,272.77 L234.31,273.18 L234.51,273.61 L234.71,274.07 L234.91,274.54 L235.11,275.03 L235.31,275.54 L235.51,276.05 L235.71,276.57 L235.91,277.10 L236.11,277.63 L236.31,278.16 L236.51,278.69 L236.71,279.21 L236.91,279.72 L237.11,280.21 L237.31,280.70 L237.51,281.16 L237.71,281.61 L237.91,282.03 L238.11,282.43 L238.31,282.81 L238.51,283.15 L238.71,283.47 L238.91,283.75 L239.11,284.00 L239.31,284.21 L239.51,284.39 L239.71,284.53 L239.91,284.63 L240.11,284.70 L240.31,284.73 L240.51,284.72 L240.71,284.68 L240.91,284.60 L241.11,284.48 L241.31,284.32 L241.51,284.14 L241.71,283.92 L241.91,283.67 L242.11,283.39 L242.31,283.08 L242.51,282.74 L242.71,282.39 L242.91,282.01 L243.11,281.61 L243.31,281.20 L243.51,280.78 L243.71,280.34 L243.91,279.90 L244.11,279.45 L244.31,279.00 L244.51,278.55 L244.71,278.10 L244.91,277.67 L245.11,277.24 L245.31,276.82 L245.51,276.42 L245.71,276.04 L245.91,275.67 L246.11,275.33 L246.31,275.02 L246.51,274.73 L246.71,274.47 L246.91,274.24 L247.11,274.05 L247.31,273.89 L247.51,273.77 L247.71,273.68 L247.91,273.63 L248.11,273.61 L248.31,273.64 L248.51,273.70 L248.71,273.81 L248.91,273.95 L249.11,274.13 L249.31,274.34 L249.51,274.60 L249.71,274.89 L249.91,275.21 L250.11,275.56 L250.31,275.95 L250.51,276.36 L250.71,276.81 L250.91,277.27 L251.11,277.76 L251.31,278.27 L251.51,278.79 L251.70,279.33 L251.90,279.88 L252.10,280.44 L252.30,281.01 L252.50,281.58 L252.70,282.15 L252.90,282.71 L253.10,283.28 L253.30,283.83 L253.50,284.37 L253.70,284.89 L253.90,285.40 L254.10,285.89 L254.30,286.35 L254.50,286.79 L254.70,287.21 L254.90,287.59 L255.10,287.94 L255.30,288.26 L255.50,288.54 L255.70,288.79 L255.90,289.00 L256.10,289.17 L256.30,289.31 L256.50,289.40 L256.70,289.45 L256.90,289.46 L257.10,289.43 L257.30,289.36 L257.50,289.24 L257.70,289.09 L257.90,288.90 L258.10,288.68 L258.30,288.41 L258.50,288.11 L258.70,287.78 L258.90,287.41 L259.10,287.02 L259.30,286.60 L259.50,286.15 L259.70,285.68 L259.90,285.18 L260.10,284.67 L260.30,284.15 L260.50,283.60 L260.70,283.05 L260.90,282.49 L261.10,281.92 L261.30,281.35 L261.50,280.78 L261.70,280.20 L261.90,279.64 L262.10,279.07 L262.30,278.52 L262.50,277.98 L262.70,277.44 L262.90,276.92 L263.10,276.42 L263.30,275.93 L263.50,275.46 L263.70,275.01 L263.90,274.58 L264.10,274.17 L264.30,273.78 L264.50,273.41 L264.70,273.06 L264.90,272.73 L265.10,272.41 L265.30,272.12 L265.50,271.85 L265.70,271.59 L265.90,271.34 L266.10,271.12 L266.30,270.90 L266.50,270.71 L266.70,270.52 L266.90,270.35 L267.10,270.19 L267.30,270.05 L267.50,269.91 L267.70,269.79 L267.90,269.67 L268.10,269.57 L268.30,269.48 L268.50,269.39 L268.70,269.32 L268.90,269.25 L269.10,269.19 L269.30,269.14 L269.50,269.09 L269.70,269.05 L269.90,269.02 L270.10,269.00 L270.30,268.98 L270.50,268.97 L270.70,268.96 L270.90,268.96 L271.10,268.96 L271.30,268.97 L271.50,268.98 L271.70,268.99 L271.90,269.01 L272.10,269.03 L272.30,269.06 L272.50,269.09 L272.70,269.12 L272.90,269.16 L273.10,269.20 L273.30,269.24 L273.50,269.28 L273.70,269.33 L273.90,269.38 L274.10,269.43 L274.30,269.48 L274.50,269.53 L274.70,269.59 L274.90,269.65 L275.10,269.70 L275.30,269.76 L275.50,269.83 L275.70,269.89 L275.90,269.95 L276.10,270.01 L276.30,270.08 L276.50,270.14 L276.70,270.21 L276.90,270.27 L277.10,270.34 L277.30,270.41 L277.50,270.48 L277.70,270.54 L277.90,270.61 L278.09,270.68 L278.29,270.75 L278.49,270.82 L278.69,270.88 L278.89,270.95 L279.09,271.02 L279.29,271.09 L279.49,271.16 L279.69,271.22 L279.89,271.29 L280.09,271.36 L280.29,271.42 L280.49,271.49 L280.69,271.56 L280.89,271.62 L281.09,271.69 L281.29,271.75 L281.49,271.82 L281.69,271.88 L281.89,271.95 L282.09,272.01 L282.29,272.07 L282.49,272.13 L282.69,272.19 L282.89,272.25 L283.09,272.32 L283.29,272.37 L283.49,272.43 L283.69,272.49 L283.89,272.55 L284.09,272.61 L284.29,272.66 L284.49,272.72 L284.69,272.77 L284.89,272.83 L285.09,272.88 L285.29,272.94 L285.49,272.99 L285.69,273.04 L285.89,273.09 L286.09,273.14 L286.29,273.19 L286.49,273.24 L286.69,273.29 L286.89,273.34 L287.09,273.39 L287.29,273.43 L287.49,273.48 L287.69,273.53 L287.89,273.57 L288.09,273.61 L288.29,273.66 L288.49,273.70 L288.69,273.74 L288.89,273.78 L289.09,273.83 L289.29,273.87 L289.49,273.91 L289.69,273.94 L289.89,273.98 L290.09,274.02 L290.29,274.06 L290.49,274.10 L290.69,274.13 L290.89,274.17 L291.09,274.20 L291.29,274.24 L291.49,274.27 L291.69,274.30 L291.89,274.34 L292.09,274.37 L292.29,274.40 L292.49,274.43 L292.69,274.46 L292.89,274.49 L293.09,274.52 L293.29,274.55 L293.49,274.58 L293.69,274.61 L293.89,274.64 L294.09,274.66 L294.29,274.69 L294.49,274.72 L294.69,274.74 L294.89,274.77 L295.09,274.79 L295.29,274.82 L295.49,274.84 L295.69,274.86 L295.89,274.89 L296.09,274.91 L296.29,274.93 L296.49,274.95 L296.69,274.97 L296.89,275.00 L297.09,275.02 L297.29,275.04 L297.49,275.06 L297.69,275.08 L297.89,275.10 L298.09,275.11 L298.29,275.13 L298.49,275.15 L298.69,275.17 L298.89,275.19 L299.09,275.20 L299.29,275.22 L299.49,275.24 L299.69,275.25 L299.89,275.27 L300.09,275.28 L300.29,275.30 L300.49,275.31 L300.69,275.33 L300.89,275.34 L301.09,275.36 L301.29,275.37 L301.49,275.39 L301.69,275.40 L301.89,275.41 L302.09,275.42 L302.29,275.44 L302.49,275.45 L302.69,275.46 L302.89,275.47 L303.09,275.48 L303.29,275.50 L303.49,275.51 L303.69,275.52 L303.89,275.53 L304.09,275.54 L304.29,275.55 L304.48,275.56 L304.68,275.57 L304.88,275.58 L305.08,275.59 L305.28,275.60 L305.48,275.61 L305.68,275.62 L305.88,275.62 L306.08,275.63 L306.28,275.64 L306.48,275.65 L306.68,275.66 L306.88,275.67 L307.08,275.67 L307.28,275.68 L307.48,275.69 L307.68,275.70 L307.88,275.70 L308.08,275.71 L308.28,275.72 L308.48,275.72 L308.68,275.73 L308.88,275.74 L309.08,275.74 L309.28,275.75 L309.48,275.75 L309.68,275.76 L309.88,275.77 L310.08,275.77 L310.28,275.78 L310.48,275.78 L310.68,275.79 L310.88,275.79 L311.08,275.80 L311.28,275.80 L311.48,275.81 L311.68,275.81 L311.88,275.82 L312.08,275.82 L312.28,275.83 L312.48,275.83 L312.68,275.83 L312.88,275.84 L313.08,275.84 L313.28,275.85 L313.48,275.85 L313.68,275.85 L313.88,275.86 L314.08,275.86 L314.28,275.87 L314.48,275.87 L314.68,275.87 L314.88,275.88 L315.08,275.88 L315.28,275.88 L315.48,275.89 L315.68,275.89 L315.88,275.89 L316.08,275.89 L316.28,275.90 L316.48,275.90 L316.68,275.90 L316.88,275.91 L317.08,275.91 L317.28,275.91 L317.48,275.91 L317.68,275.92 L317.88,275.92 L318.08,275.92 L318.28,275.92 L318.48,275.93 L318.68,275.93 L318.88,275.93 L319.08,275.93 L319.28,275.93 L319.48,275.94 L319.68,275.94 L319.88,275.94 L320.08,275.94 L320.28,275.94 L320.48,275.95 L320.68,275.95 L320.88,275.95 L321.08,275.95 L321.28,275.95 L321.48,275.95 L321.68,275.96 L321.88,275.96 L322.08,275.96 L322.28,275.96 L322.48,275.96 L322.68,275.96 L322.88,275.96 L323.08,275.97 L323.28,275.97 L323.48,275.97 L323.68,275.97 L323.88,275.97 L324.08,275.97 L324.28,275.97 L324.48,275.97 L324.68,275.98 L324.88,275.98 L325.08,275.98 L325.28,275.98 L325.48,275.98 L325.68,275.98 L325.88,275.98 L326.08,275.98 L326.28,275.98 L326.48,275.99 L326.68,275.99 L326.88,275.99 L327.08,275.99 L327.28,275.99 L327.48,275.99 L327.68,275.99 L327.88,275.99 L328.08,275.99 L328.28,275.99 L328.48,275.99 L328.68,275.99 L328.88,275.99 L329.08,276.00 L329.28,276.00 L329.48,276.00 L329.68,276.00 L329.88,276.00 L330.08,276.00 L330.28,276.00 L330.48,276.00 L330.68,276.00 L330.88,276.00"/>
<path class="cb" d="M66.97,275.95 L67.17,275.95 L67.37,275.94 L67.57,275.94 L67.77,275.94 L67.97,275.94 L68.17,275.94 L68.37,275.93 L68.57,275.93 L68.77,275.93 L68.97,275.93 L69.17,275.93 L69.37,275.92 L69.57,275.92 L69.77,275.92 L69.97,275.92 L70.17,275.91 L70.37,275.91 L70.57,275.91 L70.77,275.90 L70.97,275.90 L71.17,275.90 L71.37,275.90 L71.57,275.89 L71.77,275.89 L71.97,275.89 L72.17,275.88 L72.37,275.88 L72.57,275.88 L72.77,275.87 L72.97,275.87 L73.17,275.87 L73.37,275.86 L73.57,275.86 L73.77,275.85 L73.97,275.85 L74.17,275.85 L74.37,275.84 L74.57,275.84 L74.77,275.83 L74.97,275.83 L75.17,275.82 L75.37,275.82 L75.57,275.81 L75.77,275.81 L75.97,275.80 L76.17,275.80 L76.37,275.79 L76.57,275.79 L76.77,275.78 L76.97,275.78 L77.17,275.77 L77.37,275.76 L77.57,275.76 L77.77,275.75 L77.97,275.75 L78.17,275.74 L78.37,275.73 L78.57,275.73 L78.77,275.72 L78.97,275.71 L79.17,275.70 L79.37,275.70 L79.57,275.69 L79.77,275.68 L79.97,275.67 L80.17,275.67 L80.37,275.66 L80.57,275.65 L80.77,275.64 L80.97,275.63 L81.17,275.62 L81.37,275.61 L81.57,275.60 L81.77,275.59 L81.97,275.58 L82.17,275.57 L82.37,275.56 L82.57,275.55 L82.77,275.54 L82.97,275.53 L83.17,275.52 L83.37,275.51 L83.57,275.49 L83.77,275.48 L83.97,275.47 L84.17,275.46 L84.37,275.44 L84.57,275.43 L84.77,275.42 L84.97,275.40 L85.17,275.39 L85.37,275.37 L85.57,275.36 L85.77,275.34 L85.97,275.33 L86.17,275.31 L86.37,275.29 L86.57,275.28 L86.77,275.26 L86.97,275.24 L87.17,275.23 L87.37,275.21 L87.57,275.19 L87.77,275.17 L87.97,275.15 L88.17,275.13 L88.37,275.11 L88.57,275.09 L88.77,275.07 L88.97,275.05 L89.17,275.02 L89.37,275.00 L89.57,274.98 L89.77,274.95 L89.97,274.93 L90.17,274.90 L90.37,274.88 L90.57,274.85 L90.77,274.83 L90.97,274.80 L91.17,274.77 L91.37,274.74 L91.57,274.71 L91.77,274.69 L91.97,274.65 L92.17,274.62 L92.37,274.59 L92.57,274.56 L92.77,274.53 L92.97,274.49 L93.17,274.46 L93.36,274.42 L93.56,274.39 L93.76,274.35 L93.96,274.31 L94.16,274.28 L94.36,274.24 L94.56,274.20 L94.76,274.16 L94.96,274.12 L95.16,274.07 L95.36,274.03 L95.56,273.99 L95.76,273.94 L95.96,273.89 L96.16,273.85 L96.36,273.80 L96.56,273.75 L96.76,273.70 L96.96,273.65 L97.16,273.59 L97.36,273.54 L97.56,273.49 L97.76,273.43 L97.96,273.37 L98.16,273.32 L98.36,273.26 L98.56,273.20 L98.76,273.13 L98.96,273.07 L99.16,273.01 L99.36,272.94 L99.56,272.87 L99.76,272.80 L99.96,272.73 L100.16,272.66 L100.36,272.59 L100.56,272.52 L100.76,272.44 L100.96,272.36 L101.16,272.28 L101.36,272.20 L101.56,272.12 L101.76,272.03 L101.96,271.95 L102.16,271.86 L102.36,271.77 L102.56,271.68 L102.76,271.59 L102.96,271.49 L103.16,271.40 L103.36,271.30 L103.56,271.20 L103.76,271.09 L103.96,270.99 L104.16,270.88 L104.36,270.77 L104.56,270.66 L104.76,270.55 L104.96,270.43 L105.16,270.32 L105.36,270.20 L105.56,270.07 L105.76,269.95 L105.96,269.82 L106.16,269.69 L106.36,269.56 L106.56,269.42 L106.76,269.29 L106.96,269.15 L107.16,269.00 L107.36,268.86 L107.56,268.71 L107.76,268.56 L107.96,268.40 L108.16,268.25 L108.36,268.09 L108.56,267.92 L108.76,267.76 L108.96,267.59 L109.16,267.42 L109.36,267.24 L109.56,267.06 L109.76,266.88 L109.96,266.70 L110.16,266.51 L110.36,266.31 L110.56,266.12 L110.76,265.92 L110.96,265.72 L111.16,265.51 L111.36,265.30 L111.56,265.09 L111.76,264.87 L111.96,264.65 L112.16,264.42 L112.36,264.19 L112.56,263.96 L112.76,263.72 L112.96,263.48 L113.16,263.24 L113.36,262.99 L113.56,262.73 L113.76,262.48 L113.96,262.21 L114.16,261.95 L114.36,261.67 L114.56,261.40 L114.76,261.12 L114.96,260.83 L115.16,260.54 L115.36,260.25 L115.56,259.95 L115.76,259.65 L115.96,259.34 L116.16,259.03 L116.36,258.71 L116.56,258.39 L116.76,258.06 L116.96,257.73 L117.16,257.39 L117.36,257.04 L117.56,256.70 L117.76,256.34 L117.96,255.99 L118.16,255.62 L118.36,255.25 L118.56,254.88 L118.76,254.50 L118.96,254.12 L119.16,253.73 L119.36,253.34 L119.56,252.94 L119.75,252.53 L119.95,252.12 L120.15,251.71 L120.35,251.29 L120.55,250.86 L120.75,250.43 L120.95,250.00 L121.15,249.56 L121.35,249.11 L121.55,248.66 L121.75,248.20 L121.95,247.74 L122.15,247.28 L122.35,246.81 L122.55,246.33 L122.75,245.86 L122.95,245.37 L123.15,244.88 L123.35,244.39 L123.55,243.90 L123.75,243.39 L123.95,242.89 L124.15,242.38 L124.35,241.87 L124.55,241.36 L124.75,240.84 L124.95,240.32 L125.15,239.79 L125.35,239.26 L125.55,238.74 L125.75,238.20 L125.95,237.67 L126.15,237.14 L126.35,236.60 L126.55,236.06 L126.75,235.52 L126.95,234.99 L127.15,234.45 L127.35,233.91 L127.55,233.37 L127.75,232.84 L127.95,232.30 L128.15,231.77 L128.35,231.24 L128.55,230.71 L128.75,230.19 L128.95,229.67 L129.15,229.16 L129.35,228.65 L129.55,228.15 L129.75,227.65 L129.95,227.17 L130.15,226.69 L130.35,226.22 L130.55,225.76 L130.75,225.31 L130.95,224.87 L131.15,224.44 L131.35,224.03 L131.55,223.63 L131.75,223.25 L131.95,222.88 L132.15,222.54 L132.35,222.21 L132.55,221.90 L132.75,221.61 L132.95,221.35 L133.15,221.11 L133.35,220.90 L133.55,220.71 L133.75,220.56 L133.95,220.43 L134.15,220.34 L134.35,220.28 L134.55,220.25 L134.75,220.27 L134.95,220.31 L135.15,220.40 L135.35,220.53 L135.55,220.70 L135.75,220.91 L135.95,221.17 L136.15,221.46 L136.35,221.80 L136.55,222.19 L136.75,222.61 L136.95,223.08 L137.15,223.60 L137.35,224.15 L137.55,224.75 L137.75,225.39 L137.95,226.07 L138.15,226.78 L138.35,227.54 L138.55,228.33 L138.75,229.15 L138.95,230.00 L139.15,230.88 L139.35,231.79 L139.55,232.72 L139.75,233.68 L139.95,234.65 L140.15,235.64 L140.35,236.64 L140.55,237.65 L140.75,238.67 L140.95,239.69 L141.15,240.71 L141.35,241.73 L141.55,242.75 L141.75,243.75 L141.95,244.75 L142.15,245.73 L142.35,246.69 L142.55,247.64 L142.75,248.56 L142.95,249.45 L143.15,250.32 L143.35,251.15 L143.55,251.96 L143.75,252.72 L143.95,253.46 L144.15,254.15 L144.35,254.81 L144.55,255.42 L144.75,256.00 L144.95,256.53 L145.15,257.01 L145.35,257.46 L145.55,257.86 L145.75,258.22 L145.95,258.53 L146.14,258.81 L146.34,259.04 L146.54,259.23 L146.74,259.38 L146.94,259.49 L147.14,259.57 L147.34,259.61 L147.54,259.62 L147.74,259.60 L147.94,259.55 L148.14,259.48 L148.34,259.38 L148.54,259.26 L148.74,259.13 L148.94,258.97 L149.14,258.81 L149.34,258.64 L149.54,258.46 L149.74,258.27 L149.94,258.09 L150.14,257.91 L150.34,257.73 L150.54,257.57 L150.74,257.41 L150.94,257.27 L151.14,257.14 L151.34,257.03 L151.54,256.94 L151.74,256.88 L151.94,256.84 L152.14,256.83 L152.34,256.84 L152.54,256.89 L152.74,256.96 L152.94,257.07 L153.14,257.21 L153.34,257.39 L153.54,257.60 L153.74,257.84 L153.94,258.12 L154.14,258.43 L154.34,258.78 L154.54,259.15 L154.74,259.56 L154.94,260.00 L155.14,260.47 L155.34,260.97 L155.54,261.50 L155.74,262.05 L155.94,262.62 L156.14,263.21 L156.34,263.82 L156.54,264.44 L156.74,265.08 L156.94,265.73 L157.14,266.39 L157.34,267.05 L157.54,267.71 L157.74,268.37 L157.94,269.03 L158.14,269.68 L158.34,270.33 L158.54,270.96 L158.74,271.57 L158.94,272.17 L159.14,272.75 L159.34,273.30 L159.54,273.83 L159.74,274.33 L159.94,274.81 L160.14,275.25 L160.34,275.66 L160.54,276.03 L160.74,276.37 L160.94,276.67 L161.14,276.93 L161.34,277.15 L161.54,277.34 L161.74,277.48 L161.94,277.58 L162.14,277.64 L162.34,277.66 L162.54,277.65 L162.74,277.59 L162.94,277.50 L163.14,277.36 L163.34,277.20 L163.54,277.00 L163.74,276.77 L163.94,276.50 L164.14,276.21 L164.34,275.90 L164.54,275.56 L164.74,275.19 L164.94,274.81 L165.14,274.42 L165.34,274.01 L165.54,273.59 L165.74,273.17 L165.94,272.74 L166.14,272.30 L166.34,271.87 L166.54,271.45 L166.74,271.03 L166.94,270.62 L167.14,270.22 L167.34,269.84 L167.54,269.48 L167.74,269.14 L167.94,268.82 L168.14,268.53 L168.34,268.26 L168.54,268.03 L168.74,267.82 L168.94,267.65 L169.14,267.51 L169.34,267.40 L169.54,267.33 L169.74,267.30 L169.94,267.31 L170.14,267.35 L170.34,267.43 L170.54,267.54 L170.74,267.69 L170.94,267.88 L171.14,268.11 L171.34,268.37 L171.54,268.66 L171.74,268.98 L171.94,269.33 L172.14,269.71 L172.34,270.12 L172.53,270.55 L172.73,271.00 L172.93,271.47 L173.13,271.96 L173.33,272.47 L173.53,272.98 L173.73,273.50 L173.93,274.03 L174.13,274.56 L174.33,275.10 L174.53,275.62 L174.73,276.15 L174.93,276.66 L175.13,277.17 L175.33,277.66 L175.53,278.13 L175.73,278.58 L175.93,279.01 L176.13,279.42 L176.33,279.80 L176.53,280.15 L176.73,280.47 L176.93,280.76 L177.13,281.02 L177.33,281.24 L177.53,281.43 L177.73,281.58 L177.93,281.69 L178.13,281.76 L178.33,281.79 L178.53,281.79 L178.73,281.74 L178.93,281.66 L179.13,281.54 L179.33,281.39 L179.53,281.19 L179.73,280.97 L179.93,280.71 L180.13,280.42 L180.33,280.10 L180.53,279.75 L180.73,279.38 L180.93,278.98 L181.13,278.56 L181.33,278.12 L181.53,277.67 L181.73,277.20 L181.93,276.73 L182.13,276.24 L182.33,275.76 L182.53,275.27 L182.73,274.78 L182.93,274.29 L183.13,273.81 L183.33,273.35 L183.53,272.89 L183.73,272.45 L183.93,272.03 L184.13,271.63 L184.33,271.25 L184.53,270.89 L184.73,270.57 L184.93,270.27 L185.13,270.00 L185.33,269.77 L185.53,269.57 L185.73,269.41 L185.93,269.28 L186.13,269.19 L186.33,269.13 L186.53,269.12 L186.73,269.14 L186.93,269.20 L187.13,269.30 L187.33,269.43 L187.53,269.60 L187.73,269.81 L187.93,270.05 L188.13,270.33 L188.33,270.63 L188.53,270.97 L188.73,271.33 L188.93,271.72 L189.13,272.13 L189.33,272.57 L189.53,273.02 L189.73,273.49 L189.93,273.97 L190.13,274.46 L190.33,274.96 L190.53,275.47 L190.73,275.98 L190.93,276.48 L191.13,276.99 L191.33,277.48 L191.53,277.97 L191.73,278.45 L191.93,278.91 L192.13,279.35 L192.33,279.77 L192.53,280.17 L192.73,280.55 L192.93,280.89 L193.13,281.21 L193.33,281.50 L193.53,281.76 L193.73,281.98 L193.93,282.16 L194.13,282.31 L194.33,282.43 L194.53,282.50 L194.73,282.54 L194.93,282.54 L195.13,282.50 L195.33,282.42 L195.53,282.31 L195.73,282.16 L195.93,281.97 L196.13,281.75 L196.33,281.49 L196.53,281.21 L196.73,280.89 L196.93,280.54 L197.13,280.17 L197.33,279.77 L197.53,279.35 L197.73,278.91 L197.93,278.46 L198.13,277.99 L198.33,277.51 L198.53,277.02 L198.73,276.52 L198.92,276.02 L199.12,275.53 L199.32,275.03 L199.52,274.54 L199.72,274.06 L199.92,273.59 L200.12,273.14 L200.32,272.70 L200.52,272.28 L200.72,271.88 L200.92,271.51 L201.12,271.16 L201.32,270.84 L201.52,270.56 L201.72,270.30 L201.92,270.08 L202.12,269.89 L202.32,269.74 L202.52,269.63 L202.72,269.55 L202.92,269.51 L203.12,269.51 L203.32,269.55 L203.52,269.62 L203.72,269.74 L203.92,269.89 L204.12,270.07 L204.32,270.29 L204.52,270.55 L204.72,270.84 L204.92,271.16 L205.12,271.50 L205.32,271.88 L205.52,272.28 L205.72,272.70 L205.92,273.14 L206.12,273.60 L206.32,274.08 L206.52,274.57 L206.72,275.06 L206.92,275.57 L207.12,276.07 L207.32,276.58 L207.52,277.09 L207.72,277.59 L207.92,278.08 L208.12,278.56 L208.32,279.03 L208.52,279.48 L208.72,279.92 L208.92,280.33 L209.12,280.72 L209.32,281.08 L209.52,281.42 L209.72,281.72 L209.92,282.00 L210.12,282.24 L210.32,282.45 L210.52,282.62 L210.72,282.75 L210.92,282.85 L211.12,282.91 L211.32,282.93 L211.52,282.92 L211.72,282.86 L211.92,282.77 L212.12,282.64 L212.32,282.48 L212.52,282.28 L212.72,282.05 L212.92,281.78 L213.12,281.48 L213.32,281.16 L213.52,280.80 L213.72,280.42 L213.92,280.02 L214.12,279.60 L214.32,279.16 L214.52,278.70 L214.72,278.24 L214.92,277.76 L215.12,277.27 L215.32,276.78 L215.52,276.29 L215.72,275.81 L215.92,275.32 L216.12,274.85 L216.32,274.38 L216.52,273.93 L216.72,273.49 L216.92,273.07 L217.12,272.67 L217.32,272.30 L217.52,271.95 L217.72,271.63 L217.92,271.34 L218.12,271.08 L218.32,270.86 L218.52,270.66 L218.72,270.51 L218.92,270.39 L219.12,270.31 L219.32,270.26 L219.52,270.26 L219.72,270.29 L219.92,270.36 L220.12,270.47 L220.32,270.62 L220.52,270.81 L220.72,271.03 L220.92,271.29 L221.12,271.58 L221.32,271.90 L221.52,272.25 L221.72,272.63 L221.92,273.04 L222.12,273.47 L222.32,273.92 L222.52,274.39 L222.72,274.88 L222.92,275.39 L223.12,275.90 L223.32,276.43 L223.52,276.95 L223.72,277.49 L223.92,278.02 L224.12,278.55 L224.32,279.07 L224.52,279.58 L224.72,280.09 L224.92,280.58 L225.12,281.05 L225.31,281.50 L225.51,281.93 L225.71,282.34 L225.91,282.72 L226.11,283.07 L226.31,283.39 L226.51,283.68 L226.71,283.94 L226.91,284.17 L227.11,284.36 L227.31,284.51 L227.51,284.62 L227.71,284.70 L227.91,284.74 L228.11,284.75 L228.31,284.72 L228.51,284.65 L228.71,284.54 L228.91,284.40 L229.11,284.23 L229.31,284.02 L229.51,283.79 L229.71,283.52 L229.91,283.23 L230.11,282.91 L230.31,282.57 L230.51,282.21 L230.71,281.83 L230.91,281.43 L231.11,281.02 L231.31,280.60 L231.51,280.18 L231.71,279.75 L231.91,279.31 L232.11,278.88 L232.31,278.46 L232.51,278.04 L232.71,277.63 L232.91,277.24 L233.11,276.86 L233.31,276.49 L233.51,276.15 L233.71,275.84 L233.91,275.55 L234.11,275.28 L234.31,275.05 L234.51,274.85 L234.71,274.69 L234.91,274.55 L235.11,274.46 L235.31,274.40 L235.51,274.39 L235.71,274.41 L235.91,274.47 L236.11,274.57 L236.31,274.71 L236.51,274.90 L236.71,275.12 L236.91,275.38 L237.11,275.68 L237.31,276.02 L237.51,276.39 L237.71,276.80 L237.91,277.24 L238.11,277.72 L238.31,278.22 L238.51,278.75 L238.71,279.30 L238.91,279.88 L239.11,280.48 L239.31,281.09 L239.51,281.72 L239.71,282.37 L239.91,283.02 L240.11,283.68 L240.31,284.34 L240.51,285.00 L240.71,285.66 L240.91,286.32 L241.11,286.97 L241.31,287.61 L241.51,288.23 L241.71,288.84 L241.91,289.43 L242.11,290.00 L242.31,290.55 L242.51,291.08 L242.71,291.58 L242.91,292.05 L243.11,292.49 L243.31,292.90 L243.51,293.27 L243.71,293.62 L243.91,293.93 L244.11,294.21 L244.31,294.45 L244.51,294.66 L244.71,294.84 L244.91,294.98 L245.11,295.09 L245.31,295.16 L245.51,295.21 L245.71,295.22 L245.91,295.21 L246.11,295.17 L246.31,295.11 L246.51,295.02 L246.71,294.91 L246.91,294.78 L247.11,294.64 L247.31,294.48 L247.51,294.32 L247.71,294.14 L247.91,293.96 L248.11,293.78 L248.31,293.59 L248.51,293.41 L248.71,293.24 L248.91,293.08 L249.11,292.92 L249.31,292.79 L249.51,292.67 L249.71,292.57 L249.91,292.50 L250.11,292.45 L250.31,292.43 L250.51,292.44 L250.71,292.48 L250.91,292.56 L251.11,292.67 L251.31,292.82 L251.51,293.01 L251.70,293.24 L251.90,293.52 L252.10,293.83 L252.30,294.19 L252.50,294.59 L252.70,295.04 L252.90,295.52 L253.10,296.05 L253.30,296.63 L253.50,297.24 L253.70,297.90 L253.90,298.59 L254.10,299.33 L254.30,300.09 L254.50,300.90 L254.70,301.73 L254.90,302.60 L255.10,303.49 L255.30,304.41 L255.50,305.36 L255.70,306.32 L255.90,307.30 L256.10,308.30 L256.30,309.30 L256.50,310.32 L256.70,311.34 L256.90,312.36 L257.10,313.38 L257.30,314.40 L257.50,315.41 L257.70,316.41 L257.90,317.40 L258.10,318.37 L258.30,319.33 L258.50,320.26 L258.70,321.17 L258.90,322.05 L259.10,322.90 L259.30,323.72 L259.50,324.51 L259.70,325.27 L259.90,325.98 L260.10,326.66 L260.30,327.30 L260.50,327.90 L260.70,328.45 L260.90,328.97 L261.10,329.44 L261.30,329.86 L261.50,330.25 L261.70,330.59 L261.90,330.88 L262.10,331.14 L262.30,331.35 L262.50,331.52 L262.70,331.65 L262.90,331.74 L263.10,331.78 L263.30,331.80 L263.50,331.77 L263.70,331.71 L263.90,331.62 L264.10,331.49 L264.30,331.34 L264.50,331.15 L264.70,330.94 L264.90,330.70 L265.10,330.44 L265.30,330.15 L265.50,329.84 L265.70,329.51 L265.90,329.17 L266.10,328.80 L266.30,328.42 L266.50,328.02 L266.70,327.61 L266.90,327.18 L267.10,326.74 L267.30,326.29 L267.50,325.83 L267.70,325.36 L267.90,324.88 L268.10,324.40 L268.30,323.90 L268.50,323.40 L268.70,322.89 L268.90,322.38 L269.10,321.86 L269.30,321.34 L269.50,320.81 L269.70,320.28 L269.90,319.75 L270.10,319.21 L270.30,318.68 L270.50,318.14 L270.70,317.60 L270.90,317.06 L271.10,316.53 L271.30,315.99 L271.50,315.45 L271.70,314.91 L271.90,314.38 L272.10,313.85 L272.30,313.31 L272.50,312.79 L272.70,312.26 L272.90,311.73 L273.10,311.21 L273.30,310.69 L273.50,310.18 L273.70,309.67 L273.90,309.16 L274.10,308.66 L274.30,308.15 L274.50,307.66 L274.70,307.17 L274.90,306.68 L275.10,306.19 L275.30,305.72 L275.50,305.24 L275.70,304.77 L275.90,304.31 L276.10,303.85 L276.30,303.39 L276.50,302.94 L276.70,302.49 L276.90,302.05 L277.10,301.62 L277.30,301.19 L277.50,300.76 L277.70,300.34 L277.90,299.93 L278.09,299.52 L278.29,299.11 L278.49,298.71 L278.69,298.32 L278.89,297.93 L279.09,297.55 L279.29,297.17 L279.49,296.80 L279.69,296.43 L279.89,296.06 L280.09,295.71 L280.29,295.35 L280.49,295.01 L280.69,294.66 L280.89,294.32 L281.09,293.99 L281.29,293.66 L281.49,293.34 L281.69,293.02 L281.89,292.71 L282.09,292.40 L282.29,292.10 L282.49,291.80 L282.69,291.51 L282.89,291.22 L283.09,290.93 L283.29,290.65 L283.49,290.38 L283.69,290.10 L283.89,289.84 L284.09,289.57 L284.29,289.32 L284.49,289.06 L284.69,288.81 L284.89,288.57 L285.09,288.33 L285.29,288.09 L285.49,287.86 L285.69,287.63 L285.89,287.40 L286.09,287.18 L286.29,286.96 L286.49,286.75 L286.69,286.54 L286.89,286.33 L287.09,286.13 L287.29,285.93 L287.49,285.74 L287.69,285.54 L287.89,285.35 L288.09,285.17 L288.29,284.99 L288.49,284.81 L288.69,284.63 L288.89,284.46 L289.09,284.29 L289.29,284.13 L289.49,283.96 L289.69,283.80 L289.89,283.65 L290.09,283.49 L290.29,283.34 L290.49,283.19 L290.69,283.05 L290.89,282.90 L291.09,282.76 L291.29,282.63 L291.49,282.49 L291.69,282.36 L291.89,282.23 L292.09,282.10 L292.29,281.98 L292.49,281.85 L292.69,281.73 L292.89,281.62 L293.09,281.50 L293.29,281.39 L293.49,281.28 L293.69,281.17 L293.89,281.06 L294.09,280.96 L294.29,280.85 L294.49,280.75 L294.69,280.65 L294.89,280.56 L295.09,280.46 L295.29,280.37 L295.49,280.28 L295.69,280.19 L295.89,280.10 L296.09,280.02 L296.29,279.93 L296.49,279.85 L296.69,279.77 L296.89,279.69 L297.09,279.61 L297.29,279.53 L297.49,279.46 L297.69,279.39 L297.89,279.32 L298.09,279.25 L298.29,279.18 L298.49,279.11 L298.69,279.04 L298.89,278.98 L299.09,278.92 L299.29,278.85 L299.49,278.79 L299.69,278.73 L299.89,278.68 L300.09,278.62 L300.29,278.56 L300.49,278.51 L300.69,278.46 L300.89,278.40 L301.09,278.35 L301.29,278.30 L301.49,278.25 L301.69,278.20 L301.89,278.16 L302.09,278.11 L302.29,278.06 L302.49,278.02 L302.69,277.98 L302.89,277.93 L303.09,277.89 L303.29,277.85 L303.49,277.81 L303.69,277.77 L303.89,277.74 L304.09,277.70 L304.29,277.66 L304.48,277.63 L304.68,277.59 L304.88,277.56 L305.08,277.52 L305.28,277.49 L305.48,277.46 L305.68,277.43 L305.88,277.40 L306.08,277.36 L306.28,277.34 L306.48,277.31 L306.68,277.28 L306.88,277.25 L307.08,277.22 L307.28,277.20 L307.48,277.17 L307.68,277.15 L307.88,277.12 L308.08,277.10 L308.28,277.07 L308.48,277.05 L308.68,277.03 L308.88,277.00 L309.08,276.98 L309.28,276.96 L309.48,276.94 L309.68,276.92 L309.88,276.90 L310.08,276.88 L310.28,276.86 L310.48,276.84 L310.68,276.82 L310.88,276.81 L311.08,276.79 L311.28,276.77 L311.48,276.76 L311.68,276.74 L311.88,276.72 L312.08,276.71 L312.28,276.69 L312.48,276.68 L312.68,276.66 L312.88,276.65 L313.08,276.63 L313.28,276.62 L313.48,276.61 L313.68,276.59 L313.88,276.58 L314.08,276.57 L314.28,276.56 L314.48,276.54 L314.68,276.53 L314.88,276.52 L315.08,276.51 L315.28,276.50 L315.48,276.49 L315.68,276.48 L315.88,276.47 L316.08,276.46 L316.28,276.45 L316.48,276.44 L316.68,276.43 L316.88,276.42 L317.08,276.41 L317.28,276.40 L317.48,276.39 L317.68,276.38 L317.88,276.38 L318.08,276.37 L318.28,276.36 L318.48,276.35 L318.68,276.35 L318.88,276.34 L319.08,276.33 L319.28,276.32 L319.48,276.32 L319.68,276.31 L319.88,276.30 L320.08,276.30 L320.28,276.29 L320.48,276.29 L320.68,276.28 L320.88,276.27 L321.08,276.27 L321.28,276.26 L321.48,276.26 L321.68,276.25 L321.88,276.25 L322.08,276.24 L322.28,276.24 L322.48,276.23 L322.68,276.23 L322.88,276.22 L323.08,276.22 L323.28,276.21 L323.48,276.21 L323.68,276.20 L323.88,276.20 L324.08,276.20 L324.28,276.19 L324.48,276.19 L324.68,276.18 L324.88,276.18 L325.08,276.18 L325.28,276.17 L325.48,276.17 L325.68,276.17 L325.88,276.16 L326.08,276.16 L326.28,276.16 L326.48,276.15 L326.68,276.15 L326.88,276.15 L327.08,276.15 L327.28,276.14 L327.48,276.14 L327.68,276.14 L327.88,276.13 L328.08,276.13 L328.28,276.13 L328.48,276.13 L328.68,276.12 L328.88,276.12 L329.08,276.12 L329.28,276.12 L329.48,276.12 L329.68,276.11 L329.88,276.11 L330.08,276.11 L330.28,276.11 L330.48,276.11 L330.68,276.10 L330.88,276.10"/>
<path class="ax" d="M66.90,212.10 L66.90,342.95 L327.50,342.95"/>
<path fill="#000" d="M66.90,208.90 L69.80,213.80 L66.90,212.70 L64.00,213.80 Z"/>
<path fill="#000" d="M330.70,342.95 L325.80,340.05 L326.90,342.95 L325.80,345.85 Z"/>
<circle cx="69.4" cy="199.40" r="1.15" fill="#000"/>
<text x="73.2" y="204.00" transform="rotate(0.03 73.2 204.00)" font-size="17.4" textLength="16.3" lengthAdjust="spacingAndGlyphs">10</text>
<line class="mn" x1="90.9" y1="194.80" x2="98.3" y2="194.80"/>
<text x="99.6" y="197.50" transform="rotate(0.03 99.6 197.50)" font-size="12.3">2</text>
</g>
<g>
<line class="gd" x1="441.55" y1="209.10" x2="441.55" y2="342.95" stroke-dashoffset="8.00"/>
<line class="gd" x1="573.45" y1="209.10" x2="573.45" y2="342.95" stroke-dashoffset="8.00"/>
<line class="tk" x1="372.50" y1="328.26" x2="378.50" y2="328.26"/>
<text x="366.20" y="333.71" transform="rotate(0.03 366.20 333.71)" font-size="18.2" text-anchor="end" textLength="8.3" lengthAdjust="spacingAndGlyphs">1</text>
<line class="mn" x1="345.60" y1="328.71" x2="355.90" y2="328.71"/>
<line class="tk" x1="372.50" y1="276.02" x2="378.50" y2="276.02"/>
<text x="366.20" y="282.17" transform="rotate(0.03 366.20 282.17)" font-size="18.2" text-anchor="end" textLength="8.3" lengthAdjust="spacingAndGlyphs">0</text>
<line class="tk" x1="372.50" y1="223.79" x2="378.50" y2="223.79"/>
<text x="366.20" y="229.94" transform="rotate(0.03 366.20 229.94)" font-size="18.2" text-anchor="end" textLength="8.3" lengthAdjust="spacingAndGlyphs">1</text>
<path class="cr" d="M375.60,275.94 L375.80,275.94 L376.00,275.93 L376.20,275.93 L376.40,275.93 L376.60,275.93 L376.80,275.92 L377.00,275.92 L377.20,275.92 L377.40,275.92 L377.60,275.91 L377.80,275.91 L378.00,275.91 L378.20,275.91 L378.40,275.90 L378.60,275.90 L378.80,275.90 L379.00,275.89 L379.20,275.89 L379.40,275.89 L379.60,275.89 L379.80,275.88 L380.00,275.88 L380.20,275.88 L380.40,275.87 L380.60,275.87 L380.80,275.86 L381.00,275.86 L381.20,275.86 L381.40,275.85 L381.60,275.85 L381.80,275.84 L382.00,275.84 L382.19,275.84 L382.39,275.83 L382.59,275.83 L382.79,275.82 L382.99,275.82 L383.19,275.81 L383.39,275.81 L383.59,275.80 L383.79,275.80 L383.99,275.79 L384.19,275.79 L384.39,275.78 L384.59,275.77 L384.79,275.77 L384.99,275.76 L385.19,275.76 L385.39,275.75 L385.59,275.74 L385.79,275.74 L385.99,275.73 L386.19,275.72 L386.39,275.72 L386.59,275.71 L386.79,275.70 L386.99,275.70 L387.19,275.69 L387.39,275.68 L387.59,275.67 L387.79,275.66 L387.99,275.65 L388.19,275.65 L388.39,275.64 L388.59,275.63 L388.79,275.62 L388.99,275.61 L389.19,275.60 L389.39,275.59 L389.59,275.58 L389.79,275.57 L389.99,275.56 L390.19,275.55 L390.39,275.54 L390.59,275.53 L390.79,275.51 L390.99,275.50 L391.19,275.49 L391.39,275.48 L391.59,275.47 L391.79,275.45 L391.99,275.44 L392.19,275.43 L392.39,275.41 L392.59,275.40 L392.79,275.38 L392.99,275.37 L393.19,275.35 L393.39,275.34 L393.59,275.32 L393.79,275.31 L393.99,275.29 L394.19,275.27 L394.39,275.26 L394.59,275.24 L394.79,275.22 L394.99,275.20 L395.19,275.18 L395.38,275.17 L395.58,275.15 L395.78,275.13 L395.98,275.11 L396.18,275.08 L396.38,275.06 L396.58,275.04 L396.78,275.02 L396.98,275.00 L397.18,274.97 L397.38,274.95 L397.58,274.92 L397.78,274.90 L397.98,274.87 L398.18,274.85 L398.38,274.82 L398.58,274.80 L398.78,274.77 L398.98,274.74 L399.18,274.71 L399.38,274.68 L399.58,274.65 L399.78,274.62 L399.98,274.59 L400.18,274.56 L400.38,274.52 L400.58,274.49 L400.78,274.45 L400.98,274.42 L401.18,274.38 L401.38,274.35 L401.58,274.31 L401.78,274.27 L401.98,274.23 L402.18,274.19 L402.38,274.15 L402.58,274.11 L402.78,274.07 L402.98,274.02 L403.18,273.98 L403.38,273.93 L403.58,273.89 L403.78,273.84 L403.98,273.79 L404.18,273.74 L404.38,273.69 L404.58,273.64 L404.78,273.59 L404.98,273.54 L405.18,273.48 L405.38,273.43 L405.58,273.37 L405.78,273.31 L405.98,273.25 L406.18,273.19 L406.38,273.13 L406.58,273.07 L406.78,273.00 L406.98,272.94 L407.18,272.87 L407.38,272.80 L407.58,272.73 L407.78,272.66 L407.98,272.59 L408.18,272.51 L408.38,272.44 L408.57,272.36 L408.77,272.28 L408.97,272.20 L409.17,272.12 L409.37,272.03 L409.57,271.95 L409.77,271.86 L409.97,271.77 L410.17,271.68 L410.37,271.59 L410.57,271.49 L410.77,271.40 L410.97,271.30 L411.17,271.20 L411.37,271.10 L411.57,270.99 L411.77,270.89 L411.97,270.78 L412.17,270.67 L412.37,270.55 L412.57,270.44 L412.77,270.32 L412.97,270.20 L413.17,270.08 L413.37,269.96 L413.57,269.83 L413.77,269.70 L413.97,269.57 L414.17,269.44 L414.37,269.30 L414.57,269.16 L414.77,269.02 L414.97,268.87 L415.17,268.73 L415.37,268.58 L415.57,268.42 L415.77,268.27 L415.97,268.11 L416.17,267.95 L416.37,267.78 L416.57,267.61 L416.77,267.44 L416.97,267.27 L417.17,267.09 L417.37,266.91 L417.57,266.73 L417.77,266.54 L417.97,266.35 L418.17,266.16 L418.37,265.96 L418.57,265.76 L418.77,265.56 L418.97,265.35 L419.17,265.14 L419.37,264.92 L419.57,264.70 L419.77,264.48 L419.97,264.26 L420.17,264.02 L420.37,263.79 L420.57,263.55 L420.77,263.31 L420.97,263.06 L421.17,262.81 L421.37,262.56 L421.57,262.30 L421.76,262.04 L421.96,261.77 L422.16,261.50 L422.36,261.22 L422.56,260.94 L422.76,260.66 L422.96,260.37 L423.16,260.08 L423.36,259.78 L423.56,259.47 L423.76,259.17 L423.96,258.85 L424.16,258.54 L424.36,258.22 L424.56,257.89 L424.76,257.56 L424.96,257.22 L425.16,256.88 L425.36,256.54 L425.56,256.19 L425.76,255.83 L425.96,255.47 L426.16,255.11 L426.36,254.74 L426.56,254.36 L426.76,253.98 L426.96,253.60 L427.16,253.21 L427.36,252.82 L427.56,252.42 L427.76,252.01 L427.96,251.61 L428.16,251.19 L428.36,250.77 L428.56,250.35 L428.76,249.93 L428.96,249.49 L429.16,249.06 L429.36,248.62 L429.56,248.17 L429.76,247.72 L429.96,247.27 L430.16,246.81 L430.36,246.35 L430.56,245.89 L430.76,245.42 L430.96,244.94 L431.16,244.47 L431.36,243.99 L431.56,243.51 L431.76,243.02 L431.96,242.53 L432.16,242.04 L432.36,241.55 L432.56,241.05 L432.76,240.55 L432.96,240.05 L433.16,239.55 L433.36,239.05 L433.56,238.55 L433.76,238.04 L433.96,237.54 L434.16,237.03 L434.36,236.53 L434.56,236.03 L434.76,235.52 L434.95,235.02 L435.15,234.53 L435.35,234.03 L435.55,233.54 L435.75,233.05 L435.95,232.56 L436.15,232.08 L436.35,231.61 L436.55,231.14 L436.75,230.67 L436.95,230.22 L437.15,229.77 L437.35,229.33 L437.55,228.90 L437.75,228.48 L437.95,228.07 L438.15,227.67 L438.35,227.28 L438.55,226.91 L438.75,226.56 L438.95,226.22 L439.15,225.89 L439.35,225.59 L439.55,225.30 L439.75,225.03 L439.95,224.79 L440.15,224.57 L440.35,224.37 L440.55,224.20 L440.75,224.05 L440.95,223.94 L441.15,223.86 L441.35,223.80 L441.55,223.79 L441.75,223.94 L441.95,224.39 L442.15,225.14 L442.35,226.19 L442.55,227.53 L442.75,229.15 L442.95,231.04 L443.15,233.19 L443.35,235.58 L443.55,238.22 L443.75,241.07 L443.95,244.13 L444.15,247.37 L444.35,250.77 L444.55,254.32 L444.75,258.00 L444.95,261.79 L445.15,265.65 L445.35,269.58 L445.55,273.54 L445.75,277.52 L445.95,281.49 L446.15,285.42 L446.35,289.31 L446.55,293.11 L446.75,296.82 L446.95,300.40 L447.15,303.85 L447.35,307.13 L447.55,310.23 L447.75,313.14 L447.95,315.83 L448.14,318.29 L448.34,320.50 L448.54,322.46 L448.74,324.14 L448.94,325.55 L449.14,326.67 L449.34,327.50 L449.54,328.03 L449.74,328.25 L449.94,328.18 L450.14,327.80 L450.34,327.12 L450.54,326.15 L450.74,324.88 L450.94,323.33 L451.14,321.51 L451.34,319.43 L451.54,317.09 L451.74,314.51 L451.94,311.71 L452.14,308.71 L452.34,305.51 L452.54,302.14 L452.74,298.63 L452.94,294.98 L453.14,291.22 L453.34,287.37 L453.54,283.46 L453.74,279.50 L453.94,275.53 L454.14,271.55 L454.34,267.61 L454.54,263.71 L454.74,259.88 L454.94,256.15 L455.14,252.53 L455.34,249.05 L455.54,245.72 L455.74,242.57 L455.94,239.62 L456.14,236.87 L456.34,234.36 L456.54,232.08 L456.74,230.06 L456.94,228.30 L457.14,226.82 L457.34,225.63 L457.54,224.73 L457.74,224.13 L457.94,223.82 L458.14,223.82 L458.34,224.13 L458.54,224.73 L458.74,225.63 L458.94,226.82 L459.14,228.30 L459.34,230.06 L459.54,232.08 L459.74,234.36 L459.94,236.87 L460.14,239.62 L460.34,242.57 L460.54,245.72 L460.74,249.05 L460.94,252.53 L461.14,256.15 L461.34,259.88 L461.53,263.71 L461.73,267.61 L461.93,271.55 L462.13,275.53 L462.33,279.50 L462.53,283.46 L462.73,287.37 L462.93,291.22 L463.13,294.98 L463.33,298.63 L463.53,302.14 L463.73,305.51 L463.93,308.71 L464.13,311.71 L464.33,314.51 L464.53,317.09 L464.73,319.43 L464.93,321.51 L465.13,323.33 L465.33,324.88 L465.53,326.15 L465.73,327.12 L465.93,327.80 L466.13,328.18 L466.33,328.25 L466.53,328.03 L466.73,327.50 L466.93,326.67 L467.13,325.55 L467.33,324.14 L467.53,322.46 L467.73,320.50 L467.93,318.29 L468.13,315.83 L468.33,313.14 L468.53,310.23 L468.73,307.13 L468.93,303.85 L469.13,300.40 L469.33,296.82 L469.53,293.11 L469.73,289.31 L469.93,285.42 L470.13,281.49 L470.33,277.52 L470.53,273.54 L470.73,269.58 L470.93,265.65 L471.13,261.79 L471.33,258.00 L471.53,254.32 L471.73,250.77 L471.93,247.37 L472.13,244.13 L472.33,241.07 L472.53,238.22 L472.73,235.58 L472.93,233.19 L473.13,231.04 L473.33,229.15 L473.53,227.53 L473.73,226.19 L473.93,225.14 L474.13,224.39 L474.33,223.94 L474.53,223.79 L474.72,223.94 L474.92,224.39 L475.12,225.14 L475.32,226.19 L475.52,227.53 L475.72,229.15 L475.92,231.04 L476.12,233.19 L476.32,235.58 L476.52,238.22 L476.72,241.07 L476.92,244.13 L477.12,247.37 L477.32,250.77 L477.52,254.32 L477.72,258.00 L477.92,261.79 L478.12,265.65 L478.32,269.58 L478.52,273.54 L478.72,277.52 L478.92,281.49 L479.12,285.42 L479.32,289.31 L479.52,293.11 L479.72,296.82 L479.92,300.40 L480.12,303.85 L480.32,307.13 L480.52,310.23 L480.72,313.14 L480.92,315.83 L481.12,318.29 L481.32,320.50 L481.52,322.46 L481.72,324.14 L481.92,325.55 L482.12,326.67 L482.32,327.50 L482.52,328.03 L482.72,328.25 L482.92,328.18 L483.12,327.80 L483.32,327.12 L483.52,326.15 L483.72,324.88 L483.92,323.33 L484.12,321.51 L484.32,319.43 L484.52,317.09 L484.72,314.51 L484.92,311.71 L485.12,308.71 L485.32,305.51 L485.52,302.14 L485.72,298.63 L485.92,294.98 L486.12,291.22 L486.32,287.37 L486.52,283.46 L486.72,279.50 L486.92,275.53 L487.12,271.55 L487.32,267.61 L487.52,263.71 L487.72,259.88 L487.91,256.15 L488.11,252.53 L488.31,249.05 L488.51,245.72 L488.71,242.57 L488.91,239.62 L489.11,236.87 L489.31,234.36 L489.51,232.08 L489.71,230.06 L489.91,228.30 L490.11,226.82 L490.31,225.63 L490.51,224.73 L490.71,224.13 L490.91,223.82 L491.11,223.82 L491.31,224.13 L491.51,224.73 L491.71,225.63 L491.91,226.82 L492.11,228.30 L492.31,230.06 L492.51,232.08 L492.71,234.36 L492.91,236.87 L493.11,239.62 L493.31,242.57 L493.51,245.72 L493.71,249.05 L493.91,252.53 L494.11,256.15 L494.31,259.88 L494.51,263.71 L494.71,267.61 L494.91,271.55 L495.11,275.53 L495.31,279.50 L495.51,283.46 L495.71,287.37 L495.91,291.22 L496.11,294.98 L496.31,298.63 L496.51,302.14 L496.71,305.51 L496.91,308.71 L497.11,311.71 L497.31,314.51 L497.51,317.09 L497.71,319.43 L497.91,321.51 L498.11,323.33 L498.31,324.88 L498.51,326.15 L498.71,327.12 L498.91,327.80 L499.11,328.18 L499.31,328.25 L499.51,328.03 L499.71,327.50 L499.91,326.67 L500.11,325.55 L500.31,324.14 L500.51,322.46 L500.71,320.50 L500.91,318.29 L501.10,315.83 L501.30,313.14 L501.50,310.23 L501.70,307.13 L501.90,303.85 L502.10,300.40 L502.30,296.82 L502.50,293.11 L502.70,289.31 L502.90,285.42 L503.10,281.49 L503.30,277.52 L503.50,273.54 L503.70,269.58 L503.90,265.65 L504.10,261.79 L504.30,258.00 L504.50,254.32 L504.70,250.77 L504.90,247.37 L505.10,244.13 L505.30,241.07 L505.50,238.22 L505.70,235.58 L505.90,233.19 L506.10,231.04 L506.30,229.15 L506.50,227.53 L506.70,226.19 L506.90,225.14 L507.10,224.39 L507.30,223.94 L507.50,223.79 L507.70,223.94 L507.90,224.39 L508.10,225.14 L508.30,226.19 L508.50,227.53 L508.70,229.15 L508.90,231.04 L509.10,233.19 L509.30,235.58 L509.50,238.22 L509.70,241.07 L509.90,244.13 L510.10,247.37 L510.30,250.77 L510.50,254.32 L510.70,258.00 L510.90,261.79 L511.10,265.65 L511.30,269.58 L511.50,273.54 L511.70,277.52 L511.90,281.49 L512.10,285.42 L512.30,289.31 L512.50,293.11 L512.70,296.82 L512.90,300.40 L513.10,303.85 L513.30,307.13 L513.50,310.23 L513.70,313.14 L513.90,315.83 L514.10,318.29 L514.29,320.50 L514.49,322.46 L514.69,324.14 L514.89,325.55 L515.09,326.67 L515.29,327.50 L515.49,328.03 L515.69,328.25 L515.89,328.18 L516.09,327.80 L516.29,327.12 L516.49,326.15 L516.69,324.88 L516.89,323.33 L517.09,321.51 L517.29,319.43 L517.49,317.09 L517.69,314.51 L517.89,311.71 L518.09,308.71 L518.29,305.51 L518.49,302.14 L518.69,298.63 L518.89,294.98 L519.09,291.22 L519.29,287.37 L519.49,283.46 L519.69,279.50 L519.89,275.53 L520.09,271.55 L520.29,267.61 L520.49,263.71 L520.69,259.88 L520.89,256.15 L521.09,252.53 L521.29,249.05 L521.49,245.72 L521.69,242.57 L521.89,239.62 L522.09,236.87 L522.29,234.36 L522.49,232.08 L522.69,230.06 L522.89,228.30 L523.09,226.82 L523.29,225.63 L523.49,224.73 L523.69,224.13 L523.89,223.82 L524.09,223.82 L524.29,224.13 L524.49,224.73 L524.69,225.63 L524.89,226.82 L525.09,228.30 L525.29,230.06 L525.49,232.08 L525.69,234.36 L525.89,236.87 L526.09,239.62 L526.29,242.57 L526.49,245.72 L526.69,249.05 L526.89,252.53 L527.09,256.15 L527.28,259.88 L527.48,263.71 L527.68,267.61 L527.88,271.55 L528.08,275.53 L528.28,279.50 L528.48,283.46 L528.68,287.37 L528.88,291.22 L529.08,294.98 L529.28,298.63 L529.48,302.14 L529.68,305.51 L529.88,308.71 L530.08,311.71 L530.28,314.51 L530.48,317.09 L530.68,319.43 L530.88,321.51 L531.08,323.33 L531.28,324.88 L531.48,326.15 L531.68,327.12 L531.88,327.80 L532.08,328.18 L532.28,328.25 L532.48,328.03 L532.68,327.50 L532.88,326.67 L533.08,325.55 L533.28,324.14 L533.48,322.46 L533.68,320.50 L533.88,318.29 L534.08,315.83 L534.28,313.14 L534.48,310.23 L534.68,307.13 L534.88,303.85 L535.08,300.40 L535.28,296.82 L535.48,293.11 L535.68,289.31 L535.88,285.42 L536.08,281.49 L536.28,277.52 L536.48,273.54 L536.68,269.58 L536.88,265.65 L537.08,261.79 L537.28,258.00 L537.48,254.32 L537.68,250.77 L537.88,247.37 L538.08,244.13 L538.28,241.07 L538.48,238.22 L538.68,235.58 L538.88,233.19 L539.08,231.04 L539.28,229.15 L539.48,227.53 L539.68,226.19 L539.88,225.14 L540.08,224.39 L540.28,223.94 L540.48,223.79 L540.67,223.94 L540.87,224.39 L541.07,225.14 L541.27,226.19 L541.47,227.53 L541.67,229.15 L541.87,231.04 L542.07,233.19 L542.27,235.58 L542.47,238.22 L542.67,241.07 L542.87,244.13 L543.07,247.37 L543.27,250.77 L543.47,254.32 L543.67,258.00 L543.87,261.79 L544.07,265.65 L544.27,269.58 L544.47,273.54 L544.67,277.52 L544.87,281.49 L545.07,285.42 L545.27,289.31 L545.47,293.11 L545.67,296.82 L545.87,300.40 L546.07,303.85 L546.27,307.13 L546.47,310.23 L546.67,313.14 L546.87,315.83 L547.07,318.29 L547.27,320.50 L547.47,322.46 L547.67,324.14 L547.87,325.55 L548.07,326.67 L548.27,327.50 L548.47,328.03 L548.67,328.25 L548.87,328.18 L549.07,327.80 L549.27,327.12 L549.47,326.15 L549.67,324.88 L549.87,323.33 L550.07,321.51 L550.27,319.43 L550.47,317.09 L550.67,314.51 L550.87,311.71 L551.07,308.71 L551.27,305.51 L551.47,302.14 L551.67,298.63 L551.87,294.98 L552.07,291.22 L552.27,287.37 L552.47,283.46 L552.67,279.50 L552.87,275.53 L553.07,271.55 L553.27,267.61 L553.47,263.71 L553.66,259.88 L553.86,256.15 L554.06,252.53 L554.26,249.05 L554.46,245.72 L554.66,242.57 L554.86,239.62 L555.06,236.87 L555.26,234.36 L555.46,232.08 L555.66,230.06 L555.86,228.30 L556.06,226.82 L556.26,225.63 L556.46,224.73 L556.66,224.13 L556.86,223.82 L557.06,223.82 L557.26,224.13 L557.46,224.73 L557.66,225.63 L557.86,226.82 L558.06,228.30 L558.26,230.06 L558.46,232.08 L558.66,234.36 L558.86,236.87 L559.06,239.62 L559.26,242.57 L559.46,245.72 L559.66,249.05 L559.86,252.53 L560.06,256.15 L560.26,259.88 L560.46,263.71 L560.66,267.61 L560.86,271.55 L561.06,275.53 L561.26,279.50 L561.46,283.46 L561.66,287.37 L561.86,291.22 L562.06,294.98 L562.26,298.63 L562.46,302.14 L562.66,305.51 L562.86,308.71 L563.06,311.71 L563.26,314.51 L563.46,317.09 L563.66,319.43 L563.86,321.51 L564.06,323.33 L564.26,324.88 L564.46,326.15 L564.66,327.12 L564.86,327.80 L565.06,328.18 L565.26,328.25 L565.46,328.03 L565.66,327.50 L565.86,326.67 L566.06,325.55 L566.26,324.14 L566.46,322.46 L566.66,320.50 L566.86,318.29 L567.05,315.83 L567.25,313.14 L567.45,310.23 L567.65,307.13 L567.85,303.85 L568.05,300.40 L568.25,296.82 L568.45,293.11 L568.65,289.31 L568.85,285.42 L569.05,281.49 L569.25,277.52 L569.45,273.54 L569.65,269.58 L569.85,265.65 L570.05,261.79 L570.25,258.00 L570.45,254.32 L570.65,250.77 L570.85,247.37 L571.05,244.13 L571.25,241.07 L571.45,238.22 L571.65,235.58 L571.85,233.19 L572.05,231.04 L572.25,229.15 L572.45,227.53 L572.65,226.19 L572.85,225.14 L573.05,224.39 L573.25,223.94 L573.45,223.79 L573.65,223.80 L573.85,223.86 L574.05,223.94 L574.25,224.05 L574.45,224.20 L574.65,224.37 L574.85,224.57 L575.05,224.79 L575.25,225.03 L575.45,225.30 L575.65,225.59 L575.85,225.89 L576.05,226.22 L576.25,226.56 L576.45,226.91 L576.65,227.28 L576.85,227.67 L577.05,228.07 L577.25,228.48 L577.45,228.90 L577.65,229.33 L577.85,229.77 L578.05,230.22 L578.25,230.67 L578.45,231.14 L578.65,231.61 L578.85,232.08 L579.05,232.56 L579.25,233.05 L579.45,233.54 L579.65,234.03 L579.85,234.53 L580.05,235.02 L580.24,235.52 L580.44,236.03 L580.64,236.53 L580.84,237.03 L581.04,237.54 L581.24,238.04 L581.44,238.55 L581.64,239.05 L581.84,239.55 L582.04,240.05 L582.24,240.55 L582.44,241.05 L582.64,241.55 L582.84,242.04 L583.04,242.53 L583.24,243.02 L583.44,243.51 L583.64,243.99 L583.84,244.47 L584.04,244.94 L584.24,245.42 L584.44,245.89 L584.64,246.35 L584.84,246.81 L585.04,247.27 L585.24,247.72 L585.44,248.17 L585.64,248.62 L585.84,249.06 L586.04,249.49 L586.24,249.93 L586.44,250.35 L586.64,250.77 L586.84,251.19 L587.04,251.61 L587.24,252.01 L587.44,252.42 L587.64,252.82 L587.84,253.21 L588.04,253.60 L588.24,253.98 L588.44,254.36 L588.64,254.74 L588.84,255.11 L589.04,255.47 L589.24,255.83 L589.44,256.19 L589.64,256.54 L589.84,256.88 L590.04,257.22 L590.24,257.56 L590.44,257.89 L590.64,258.22 L590.84,258.54 L591.04,258.85 L591.24,259.17 L591.44,259.47 L591.64,259.78 L591.84,260.08 L592.04,260.37 L592.24,260.66 L592.44,260.94 L592.64,261.22 L592.84,261.50 L593.04,261.77 L593.24,262.04 L593.43,262.30 L593.63,262.56 L593.83,262.81 L594.03,263.06 L594.23,263.31 L594.43,263.55 L594.63,263.79 L594.83,264.02 L595.03,264.26 L595.23,264.48 L595.43,264.70 L595.63,264.92 L595.83,265.14 L596.03,265.35 L596.23,265.56 L596.43,265.76 L596.63,265.96 L596.83,266.16 L597.03,266.35 L597.23,266.54 L597.43,266.73 L597.63,266.91 L597.83,267.09 L598.03,267.27 L598.23,267.44 L598.43,267.61 L598.63,267.78 L598.83,267.95 L599.03,268.11 L599.23,268.27 L599.43,268.42 L599.63,268.58 L599.83,268.73 L600.03,268.87 L600.23,269.02 L600.43,269.16 L600.63,269.30 L600.83,269.44 L601.03,269.57 L601.23,269.70 L601.43,269.83 L601.63,269.96 L601.83,270.08 L602.03,270.20 L602.23,270.32 L602.43,270.44 L602.63,270.55 L602.83,270.67 L603.03,270.78 L603.23,270.89 L603.43,270.99 L603.63,271.10 L603.83,271.20 L604.03,271.30 L604.23,271.40 L604.43,271.49 L604.63,271.59 L604.83,271.68 L605.03,271.77 L605.23,271.86 L605.43,271.95 L605.63,272.03 L605.83,272.12 L606.03,272.20 L606.23,272.28 L606.43,272.36 L606.62,272.44 L606.82,272.51 L607.02,272.59 L607.22,272.66 L607.42,272.73 L607.62,272.80 L607.82,272.87 L608.02,272.94 L608.22,273.00 L608.42,273.07 L608.62,273.13 L608.82,273.19 L609.02,273.25 L609.22,273.31 L609.42,273.37 L609.62,273.43 L609.82,273.48 L610.02,273.54 L610.22,273.59 L610.42,273.64 L610.62,273.69 L610.82,273.74 L611.02,273.79 L611.22,273.84 L611.42,273.89 L611.62,273.93 L611.82,273.98 L612.02,274.02 L612.22,274.07 L612.42,274.11 L612.62,274.15 L612.82,274.19 L613.02,274.23 L613.22,274.27 L613.42,274.31 L613.62,274.35 L613.82,274.38 L614.02,274.42 L614.22,274.45 L614.42,274.49 L614.62,274.52 L614.82,274.56 L615.02,274.59 L615.22,274.62 L615.42,274.65 L615.62,274.68 L615.82,274.71 L616.02,274.74 L616.22,274.77 L616.42,274.80 L616.62,274.82 L616.82,274.85 L617.02,274.87 L617.22,274.90 L617.42,274.92 L617.62,274.95 L617.82,274.97 L618.02,275.00 L618.22,275.02 L618.42,275.04 L618.62,275.06 L618.82,275.08 L619.02,275.11 L619.22,275.13 L619.42,275.15 L619.62,275.17 L619.81,275.18 L620.01,275.20 L620.21,275.22 L620.41,275.24 L620.61,275.26 L620.81,275.27 L621.01,275.29 L621.21,275.31 L621.41,275.32 L621.61,275.34 L621.81,275.35 L622.01,275.37 L622.21,275.38 L622.41,275.40 L622.61,275.41 L622.81,275.43 L623.01,275.44 L623.21,275.45 L623.41,275.47 L623.61,275.48 L623.81,275.49 L624.01,275.50 L624.21,275.51 L624.41,275.53 L624.61,275.54 L624.81,275.55 L625.01,275.56 L625.21,275.57 L625.41,275.58 L625.61,275.59 L625.81,275.60 L626.01,275.61 L626.21,275.62 L626.41,275.63 L626.61,275.64 L626.81,275.65 L627.01,275.65 L627.21,275.66 L627.41,275.67 L627.61,275.68 L627.81,275.69 L628.01,275.70 L628.21,275.70 L628.41,275.71 L628.61,275.72 L628.81,275.72 L629.01,275.73 L629.21,275.74 L629.41,275.74 L629.61,275.75 L629.81,275.76 L630.01,275.76 L630.21,275.77 L630.41,275.77 L630.61,275.78 L630.81,275.79 L631.01,275.79 L631.21,275.80 L631.41,275.80 L631.61,275.81 L631.81,275.81 L632.01,275.82 L632.21,275.82 L632.41,275.83 L632.61,275.83 L632.81,275.84 L633.00,275.84 L633.20,275.84 L633.40,275.85 L633.60,275.85 L633.80,275.86 L634.00,275.86 L634.20,275.86 L634.40,275.87 L634.60,275.87 L634.80,275.88 L635.00,275.88 L635.20,275.88 L635.40,275.89 L635.60,275.89 L635.80,275.89 L636.00,275.89 L636.20,275.90 L636.40,275.90 L636.60,275.90 L636.80,275.91 L637.00,275.91 L637.20,275.91 L637.40,275.91 L637.60,275.92 L637.80,275.92 L638.00,275.92 L638.20,275.92 L638.40,275.93 L638.60,275.93 L638.80,275.93 L639.00,275.93 L639.20,275.94 L639.40,275.94"/>
<path class="cb" d="M375.60,276.25 L375.80,276.26 L376.00,276.26 L376.20,276.27 L376.40,276.27 L376.60,276.28 L376.80,276.29 L377.00,276.29 L377.20,276.30 L377.40,276.31 L377.60,276.31 L377.80,276.32 L378.00,276.33 L378.20,276.33 L378.40,276.34 L378.60,276.35 L378.80,276.35 L379.00,276.36 L379.20,276.37 L379.40,276.38 L379.60,276.39 L379.80,276.39 L380.00,276.40 L380.20,276.41 L380.40,276.42 L380.60,276.43 L380.80,276.44 L381.00,276.45 L381.20,276.46 L381.40,276.47 L381.60,276.48 L381.80,276.49 L382.00,276.50 L382.19,276.51 L382.39,276.52 L382.59,276.53 L382.79,276.55 L382.99,276.56 L383.19,276.57 L383.39,276.58 L383.59,276.60 L383.79,276.61 L383.99,276.62 L384.19,276.64 L384.39,276.65 L384.59,276.67 L384.79,276.68 L384.99,276.70 L385.19,276.71 L385.39,276.73 L385.59,276.74 L385.79,276.76 L385.99,276.78 L386.19,276.79 L386.39,276.81 L386.59,276.83 L386.79,276.85 L386.99,276.87 L387.19,276.88 L387.39,276.90 L387.59,276.92 L387.79,276.94 L387.99,276.97 L388.19,276.99 L388.39,277.01 L388.59,277.03 L388.79,277.05 L388.99,277.08 L389.19,277.10 L389.39,277.13 L389.59,277.15 L389.79,277.18 L389.99,277.20 L390.19,277.23 L390.39,277.26 L390.59,277.28 L390.79,277.31 L390.99,277.34 L391.19,277.37 L391.39,277.40 L391.59,277.43 L391.79,277.46 L391.99,277.50 L392.19,277.53 L392.39,277.56 L392.59,277.60 L392.79,277.63 L392.99,277.67 L393.19,277.71 L393.39,277.74 L393.59,277.78 L393.79,277.82 L393.99,277.86 L394.19,277.90 L394.39,277.94 L394.59,277.99 L394.79,278.03 L394.99,278.07 L395.19,278.12 L395.38,278.17 L395.58,278.21 L395.78,278.26 L395.98,278.31 L396.18,278.36 L396.38,278.41 L396.58,278.47 L396.78,278.52 L396.98,278.57 L397.18,278.63 L397.38,278.69 L397.58,278.75 L397.78,278.81 L397.98,278.87 L398.18,278.93 L398.38,278.99 L398.58,279.06 L398.78,279.12 L398.98,279.19 L399.18,279.26 L399.38,279.33 L399.58,279.40 L399.78,279.48 L399.98,279.55 L400.18,279.63 L400.38,279.70 L400.58,279.78 L400.78,279.86 L400.98,279.95 L401.18,280.03 L401.38,280.12 L401.58,280.21 L401.78,280.30 L401.98,280.39 L402.18,280.48 L402.38,280.58 L402.58,280.67 L402.78,280.77 L402.98,280.87 L403.18,280.98 L403.38,281.08 L403.58,281.19 L403.78,281.30 L403.98,281.41 L404.18,281.52 L404.38,281.64 L404.58,281.76 L404.78,281.88 L404.98,282.00 L405.18,282.13 L405.38,282.26 L405.58,282.39 L405.78,282.52 L405.98,282.65 L406.18,282.79 L406.38,282.93 L406.58,283.08 L406.78,283.22 L406.98,283.37 L407.18,283.52 L407.38,283.68 L407.58,283.83 L407.78,284.00 L407.98,284.16 L408.18,284.33 L408.38,284.49 L408.57,284.67 L408.77,284.84 L408.97,285.02 L409.17,285.21 L409.37,285.39 L409.57,285.58 L409.77,285.77 L409.97,285.97 L410.17,286.17 L410.37,286.37 L410.57,286.58 L410.77,286.79 L410.97,287.01 L411.17,287.22 L411.37,287.45 L411.57,287.67 L411.77,287.90 L411.97,288.14 L412.17,288.37 L412.37,288.62 L412.57,288.86 L412.77,289.11 L412.97,289.37 L413.17,289.63 L413.37,289.89 L413.57,290.16 L413.77,290.43 L413.97,290.71 L414.17,290.99 L414.37,291.27 L414.57,291.56 L414.77,291.86 L414.97,292.16 L415.17,292.46 L415.37,292.77 L415.57,293.09 L415.77,293.41 L415.97,293.73 L416.17,294.06 L416.37,294.39 L416.57,294.73 L416.77,295.07 L416.97,295.42 L417.17,295.78 L417.37,296.14 L417.57,296.50 L417.77,296.87 L417.97,297.24 L418.17,297.62 L418.37,298.01 L418.57,298.40 L418.77,298.79 L418.97,299.19 L419.17,299.60 L419.37,300.01 L419.57,300.43 L419.77,300.85 L419.97,301.27 L420.17,301.71 L420.37,302.14 L420.57,302.58 L420.77,303.03 L420.97,303.48 L421.17,303.94 L421.37,304.40 L421.57,304.86 L421.76,305.34 L421.96,305.81 L422.16,306.29 L422.36,306.78 L422.56,307.26 L422.76,307.76 L422.96,308.25 L423.16,308.76 L423.36,309.26 L423.56,309.77 L423.76,310.28 L423.96,310.80 L424.16,311.32 L424.36,311.84 L424.56,312.36 L424.76,312.89 L424.96,313.42 L425.16,313.95 L425.36,314.49 L425.56,315.02 L425.76,315.56 L425.96,316.10 L426.16,316.63 L426.36,317.17 L426.56,317.71 L426.76,318.25 L426.96,318.79 L427.16,319.32 L427.36,319.86 L427.56,320.39 L427.76,320.92 L427.96,321.44 L428.16,321.96 L428.36,322.48 L428.56,322.99 L428.76,323.50 L428.96,324.00 L429.16,324.50 L429.36,324.98 L429.56,325.46 L429.76,325.93 L429.96,326.39 L430.16,326.84 L430.36,327.27 L430.56,327.69 L430.76,328.10 L430.96,328.50 L431.16,328.88 L431.36,329.24 L431.56,329.58 L431.76,329.91 L431.96,330.21 L432.16,330.49 L432.36,330.75 L432.56,330.99 L432.76,331.19 L432.96,331.37 L433.16,331.52 L433.36,331.64 L433.56,331.73 L433.76,331.78 L433.96,331.80 L434.16,331.77 L434.36,331.71 L434.56,331.60 L434.76,331.45 L434.95,331.25 L435.15,331.00 L435.35,330.70 L435.55,330.34 L435.75,329.93 L435.95,329.45 L436.15,328.91 L436.35,328.31 L436.55,327.63 L436.75,326.89 L436.95,326.06 L437.15,325.16 L437.35,324.18 L437.55,323.10 L437.75,321.94 L437.95,320.68 L438.15,319.32 L438.35,317.85 L438.55,316.28 L438.75,314.60 L438.95,312.80 L439.15,310.87 L439.35,308.82 L439.55,306.63 L439.75,304.30 L439.95,301.83 L440.15,299.20 L440.35,296.42 L440.55,293.47 L440.75,290.35 L440.95,287.06 L441.15,283.58 L441.35,279.90 L441.55,276.02 L441.75,272.05 L441.95,268.10 L442.15,264.19 L442.35,260.36 L442.55,256.61 L442.75,252.98 L442.95,249.48 L443.15,246.13 L443.35,242.96 L443.55,239.98 L443.75,237.20 L443.95,234.66 L444.15,232.35 L444.35,230.30 L444.55,228.51 L444.75,226.99 L444.95,225.76 L445.15,224.83 L445.35,224.19 L445.55,223.85 L445.75,223.81 L445.95,224.07 L446.15,224.64 L446.35,225.50 L446.55,226.66 L446.75,228.10 L446.95,229.82 L447.15,231.81 L447.35,234.06 L447.55,236.55 L447.75,239.26 L447.95,242.19 L448.14,245.32 L448.34,248.62 L448.54,252.09 L448.74,255.69 L448.94,259.41 L449.14,263.23 L449.34,267.12 L449.54,271.06 L449.74,275.03 L449.94,279.01 L450.14,282.97 L450.34,286.89 L450.54,290.74 L450.74,294.51 L450.94,298.18 L451.14,301.71 L451.34,305.10 L451.54,308.32 L451.74,311.35 L451.94,314.17 L452.14,316.78 L452.34,319.15 L452.54,321.27 L452.74,323.12 L452.94,324.70 L453.14,326.01 L453.34,327.02 L453.54,327.73 L453.74,328.15 L453.94,328.26 L454.14,328.07 L454.34,327.58 L454.54,326.79 L454.74,325.71 L454.94,324.33 L455.14,322.68 L455.34,320.76 L455.54,318.58 L455.74,316.15 L455.94,313.49 L456.14,310.61 L456.34,307.53 L456.54,304.27 L456.74,300.84 L456.94,297.27 L457.14,293.58 L457.34,289.79 L457.54,285.91 L457.74,281.98 L457.94,278.01 L458.14,274.04 L458.34,270.07 L458.54,266.14 L458.74,262.26 L458.94,258.47 L459.14,254.78 L459.34,251.21 L459.54,247.78 L459.74,244.52 L459.94,241.44 L460.14,238.56 L460.34,235.90 L460.54,233.47 L460.74,231.29 L460.94,229.37 L461.14,227.72 L461.34,226.34 L461.53,225.26 L461.73,224.47 L461.93,223.98 L462.13,223.79 L462.33,223.90 L462.53,224.32 L462.73,225.03 L462.93,226.04 L463.13,227.35 L463.33,228.93 L463.53,230.78 L463.73,232.90 L463.93,235.27 L464.13,237.88 L464.33,240.70 L464.53,243.73 L464.73,246.95 L464.93,250.34 L465.13,253.87 L465.33,257.54 L465.53,261.31 L465.73,265.16 L465.93,269.08 L466.13,273.04 L466.33,277.02 L466.53,280.99 L466.73,284.93 L466.93,288.82 L467.13,292.64 L467.33,296.36 L467.53,299.96 L467.73,303.43 L467.93,306.73 L468.13,309.86 L468.33,312.79 L468.53,315.50 L468.73,317.99 L468.93,320.24 L469.13,322.23 L469.33,323.95 L469.53,325.39 L469.73,326.55 L469.93,327.41 L470.13,327.98 L470.33,328.24 L470.53,328.20 L470.73,327.86 L470.93,327.22 L471.13,326.29 L471.33,325.06 L471.53,323.54 L471.73,321.75 L471.93,319.70 L472.13,317.39 L472.33,314.85 L472.53,312.07 L472.73,309.09 L472.93,305.92 L473.13,302.57 L473.33,299.07 L473.53,295.44 L473.73,291.69 L473.93,287.86 L474.13,283.95 L474.33,280.00 L474.53,276.03 L474.72,272.05 L474.92,268.10 L475.12,264.19 L475.32,260.36 L475.52,256.61 L475.72,252.98 L475.92,249.48 L476.12,246.13 L476.32,242.96 L476.52,239.98 L476.72,237.20 L476.92,234.66 L477.12,232.35 L477.32,230.30 L477.52,228.51 L477.72,226.99 L477.92,225.76 L478.12,224.83 L478.32,224.19 L478.52,223.85 L478.72,223.81 L478.92,224.07 L479.12,224.64 L479.32,225.50 L479.52,226.66 L479.72,228.10 L479.92,229.82 L480.12,231.81 L480.32,234.06 L480.52,236.55 L480.72,239.26 L480.92,242.19 L481.12,245.32 L481.32,248.62 L481.52,252.09 L481.72,255.69 L481.92,259.41 L482.12,263.23 L482.32,267.12 L482.52,271.06 L482.72,275.03 L482.92,279.01 L483.12,282.97 L483.32,286.89 L483.52,290.74 L483.72,294.51 L483.92,298.18 L484.12,301.71 L484.32,305.10 L484.52,308.32 L484.72,311.35 L484.92,314.17 L485.12,316.78 L485.32,319.15 L485.52,321.27 L485.72,323.12 L485.92,324.70 L486.12,326.01 L486.32,327.02 L486.52,327.73 L486.72,328.15 L486.92,328.26 L487.12,328.07 L487.32,327.58 L487.52,326.79 L487.72,325.71 L487.91,324.33 L488.11,322.68 L488.31,320.76 L488.51,318.58 L488.71,316.15 L488.91,313.49 L489.11,310.61 L489.31,307.53 L489.51,304.27 L489.71,300.84 L489.91,297.27 L490.11,293.58 L490.31,289.79 L490.51,285.91 L490.71,281.98 L490.91,278.01 L491.11,274.04 L491.31,270.07 L491.51,266.14 L491.71,262.26 L491.91,258.47 L492.11,254.78 L492.31,251.21 L492.51,247.78 L492.71,244.52 L492.91,241.44 L493.11,238.56 L493.31,235.90 L493.51,233.47 L493.71,231.29 L493.91,229.37 L494.11,227.72 L494.31,226.34 L494.51,225.26 L494.71,224.47 L494.91,223.98 L495.11,223.79 L495.31,223.90 L495.51,224.32 L495.71,225.03 L495.91,226.04 L496.11,227.35 L496.31,228.93 L496.51,230.78 L496.71,232.90 L496.91,235.27 L497.11,237.88 L497.31,240.70 L497.51,243.73 L497.71,246.95 L497.91,250.34 L498.11,253.87 L498.31,257.54 L498.51,261.31 L498.71,265.16 L498.91,269.08 L499.11,273.04 L499.31,277.02 L499.51,280.99 L499.71,284.93 L499.91,288.82 L500.11,292.64 L500.31,296.36 L500.51,299.96 L500.71,303.43 L500.91,306.73 L501.10,309.86 L501.30,312.79 L501.50,315.50 L501.70,317.99 L501.90,320.24 L502.10,322.23 L502.30,323.95 L502.50,325.39 L502.70,326.55 L502.90,327.41 L503.10,327.98 L503.30,328.24 L503.50,328.20 L503.70,327.86 L503.90,327.22 L504.10,326.29 L504.30,325.06 L504.50,323.54 L504.70,321.75 L504.90,319.70 L505.10,317.39 L505.30,314.85 L505.50,312.07 L505.70,309.09 L505.90,305.92 L506.10,302.57 L506.30,299.07 L506.50,295.44 L506.70,291.69 L506.90,287.86 L507.10,283.95 L507.30,280.00 L507.50,276.03 L507.70,272.05 L507.90,268.10 L508.10,264.19 L508.30,260.36 L508.50,256.61 L508.70,252.98 L508.90,249.48 L509.10,246.13 L509.30,242.96 L509.50,239.98 L509.70,237.20 L509.90,234.66 L510.10,232.35 L510.30,230.30 L510.50,228.51 L510.70,226.99 L510.90,225.76 L511.10,224.83 L511.30,224.19 L511.50,223.85 L511.70,223.81 L511.90,224.07 L512.10,224.64 L512.30,225.50 L512.50,226.66 L512.70,228.10 L512.90,229.82 L513.10,231.81 L513.30,234.06 L513.50,236.55 L513.70,239.26 L513.90,242.19 L514.10,245.32 L514.29,248.62 L514.49,252.09 L514.69,255.69 L514.89,259.41 L515.09,263.23 L515.29,267.12 L515.49,271.06 L515.69,275.03 L515.89,279.01 L516.09,282.97 L516.29,286.89 L516.49,290.74 L516.69,294.51 L516.89,298.18 L517.09,301.71 L517.29,305.10 L517.49,308.32 L517.69,311.35 L517.89,314.17 L518.09,316.78 L518.29,319.15 L518.49,321.27 L518.69,323.12 L518.89,324.70 L519.09,326.01 L519.29,327.02 L519.49,327.73 L519.69,328.15 L519.89,328.26 L520.09,328.07 L520.29,327.58 L520.49,326.79 L520.69,325.71 L520.89,324.33 L521.09,322.68 L521.29,320.76 L521.49,318.58 L521.69,316.15 L521.89,313.49 L522.09,310.61 L522.29,307.53 L522.49,304.27 L522.69,300.84 L522.89,297.27 L523.09,293.58 L523.29,289.79 L523.49,285.91 L523.69,281.98 L523.89,278.01 L524.09,274.04 L524.29,270.07 L524.49,266.14 L524.69,262.26 L524.89,258.47 L525.09,254.78 L525.29,251.21 L525.49,247.78 L525.69,244.52 L525.89,241.44 L526.09,238.56 L526.29,235.90 L526.49,233.47 L526.69,231.29 L526.89,229.37 L527.09,227.72 L527.28,226.34 L527.48,225.26 L527.68,224.47 L527.88,223.98 L528.08,223.79 L528.28,223.90 L528.48,224.32 L528.68,225.03 L528.88,226.04 L529.08,227.35 L529.28,228.93 L529.48,230.78 L529.68,232.90 L529.88,235.27 L530.08,237.88 L530.28,240.70 L530.48,243.73 L530.68,246.95 L530.88,250.34 L531.08,253.87 L531.28,257.54 L531.48,261.31 L531.68,265.16 L531.88,269.08 L532.08,273.04 L532.28,277.02 L532.48,280.99 L532.68,284.93 L532.88,288.82 L533.08,292.64 L533.28,296.36 L533.48,299.96 L533.68,303.43 L533.88,306.73 L534.08,309.86 L534.28,312.79 L534.48,315.50 L534.68,317.99 L534.88,320.24 L535.08,322.23 L535.28,323.95 L535.48,325.39 L535.68,326.55 L535.88,327.41 L536.08,327.98 L536.28,328.24 L536.48,328.20 L536.68,327.86 L536.88,327.22 L537.08,326.29 L537.28,325.06 L537.48,323.54 L537.68,321.75 L537.88,319.70 L538.08,317.39 L538.28,314.85 L538.48,312.07 L538.68,309.09 L538.88,305.92 L539.08,302.57 L539.28,299.07 L539.48,295.44 L539.68,291.69 L539.88,287.86 L540.08,283.95 L540.28,280.00 L540.48,276.03 L540.67,272.05 L540.87,268.10 L541.07,264.19 L541.27,260.36 L541.47,256.61 L541.67,252.98 L541.87,249.48 L542.07,246.13 L542.27,242.96 L542.47,239.98 L542.67,237.20 L542.87,234.66 L543.07,232.35 L543.27,230.30 L543.47,228.51 L543.67,226.99 L543.87,225.76 L544.07,224.83 L544.27,224.19 L544.47,223.85 L544.67,223.81 L544.87,224.07 L545.07,224.64 L545.27,225.50 L545.47,226.66 L545.67,228.10 L545.87,229.82 L546.07,231.81 L546.27,234.06 L546.47,236.55 L546.67,239.26 L546.87,242.19 L547.07,245.32 L547.27,248.62 L547.47,252.09 L547.67,255.69 L547.87,259.41 L548.07,263.23 L548.27,267.12 L548.47,271.06 L548.67,275.03 L548.87,279.01 L549.07,282.97 L549.27,286.89 L549.47,290.74 L549.67,294.51 L549.87,298.18 L550.07,301.71 L550.27,305.10 L550.47,308.32 L550.67,311.35 L550.87,314.17 L551.07,316.78 L551.27,319.15 L551.47,321.27 L551.67,323.12 L551.87,324.70 L552.07,326.01 L552.27,327.02 L552.47,327.73 L552.67,328.15 L552.87,328.26 L553.07,328.07 L553.27,327.58 L553.47,326.79 L553.66,325.71 L553.86,324.33 L554.06,322.68 L554.26,320.76 L554.46,318.58 L554.66,316.15 L554.86,313.49 L555.06,310.61 L555.26,307.53 L555.46,304.27 L555.66,300.84 L555.86,297.27 L556.06,293.58 L556.26,289.79 L556.46,285.91 L556.66,281.98 L556.86,278.01 L557.06,274.04 L557.26,270.07 L557.46,266.14 L557.66,262.26 L557.86,258.47 L558.06,254.78 L558.26,251.21 L558.46,247.78 L558.66,244.52 L558.86,241.44 L559.06,238.56 L559.26,235.90 L559.46,233.47 L559.66,231.29 L559.86,229.37 L560.06,227.72 L560.26,226.34 L560.46,225.26 L560.66,224.47 L560.86,223.98 L561.06,223.79 L561.26,223.90 L561.46,224.32 L561.66,225.03 L561.86,226.04 L562.06,227.35 L562.26,228.93 L562.46,230.78 L562.66,232.90 L562.86,235.27 L563.06,237.88 L563.26,240.70 L563.46,243.73 L563.66,246.95 L563.86,250.34 L564.06,253.87 L564.26,257.54 L564.46,261.31 L564.66,265.16 L564.86,269.08 L565.06,273.04 L565.26,277.02 L565.46,280.99 L565.66,284.93 L565.86,288.82 L566.06,292.64 L566.26,296.36 L566.46,299.96 L566.66,303.43 L566.86,306.73 L567.05,309.86 L567.25,312.79 L567.45,315.50 L567.65,317.99 L567.85,320.24 L568.05,322.23 L568.25,323.95 L568.45,325.39 L568.65,326.55 L568.85,327.41 L569.05,327.98 L569.25,328.24 L569.45,328.20 L569.65,327.86 L569.85,327.22 L570.05,326.29 L570.25,325.06 L570.45,323.54 L570.65,321.75 L570.85,319.70 L571.05,317.39 L571.25,314.85 L571.45,312.07 L571.65,309.09 L571.85,305.92 L572.05,302.57 L572.25,299.07 L572.45,295.44 L572.65,291.69 L572.85,287.86 L573.05,283.95 L573.25,280.00 L573.45,276.03 L573.65,272.15 L573.85,268.47 L574.05,264.99 L574.25,261.70 L574.45,258.58 L574.65,255.63 L574.85,252.85 L575.05,250.22 L575.25,247.75 L575.45,245.42 L575.65,243.23 L575.85,241.18 L576.05,239.25 L576.25,237.45 L576.45,235.77 L576.65,234.20 L576.85,232.73 L577.05,231.37 L577.25,230.11 L577.45,228.95 L577.65,227.87 L577.85,226.89 L578.05,225.99 L578.25,225.16 L578.45,224.42 L578.65,223.74 L578.85,223.14 L579.05,222.60 L579.25,222.12 L579.45,221.71 L579.65,221.35 L579.85,221.05 L580.05,220.80 L580.24,220.60 L580.44,220.45 L580.64,220.34 L580.84,220.28 L581.04,220.25 L581.24,220.27 L581.44,220.32 L581.64,220.41 L581.84,220.53 L582.04,220.68 L582.24,220.86 L582.44,221.06 L582.64,221.30 L582.84,221.56 L583.04,221.84 L583.24,222.14 L583.44,222.47 L583.64,222.81 L583.84,223.17 L584.04,223.55 L584.24,223.95 L584.44,224.36 L584.64,224.78 L584.84,225.21 L585.04,225.66 L585.24,226.12 L585.44,226.59 L585.64,227.07 L585.84,227.55 L586.04,228.05 L586.24,228.55 L586.44,229.06 L586.64,229.57 L586.84,230.09 L587.04,230.61 L587.24,231.13 L587.44,231.66 L587.64,232.19 L587.84,232.73 L588.04,233.26 L588.24,233.80 L588.44,234.34 L588.64,234.88 L588.84,235.42 L589.04,235.95 L589.24,236.49 L589.44,237.03 L589.64,237.56 L589.84,238.10 L590.04,238.63 L590.24,239.16 L590.44,239.69 L590.64,240.21 L590.84,240.73 L591.04,241.25 L591.24,241.77 L591.44,242.28 L591.64,242.79 L591.84,243.29 L592.04,243.80 L592.24,244.29 L592.44,244.79 L592.64,245.27 L592.84,245.76 L593.04,246.24 L593.24,246.71 L593.43,247.19 L593.63,247.65 L593.83,248.11 L594.03,248.57 L594.23,249.02 L594.43,249.47 L594.63,249.91 L594.83,250.34 L595.03,250.78 L595.23,251.20 L595.43,251.62 L595.63,252.04 L595.83,252.45 L596.03,252.86 L596.23,253.26 L596.43,253.65 L596.63,254.04 L596.83,254.43 L597.03,254.81 L597.23,255.18 L597.43,255.55 L597.63,255.91 L597.83,256.27 L598.03,256.63 L598.23,256.98 L598.43,257.32 L598.63,257.66 L598.83,257.99 L599.03,258.32 L599.23,258.64 L599.43,258.96 L599.63,259.28 L599.83,259.59 L600.03,259.89 L600.23,260.19 L600.43,260.49 L600.63,260.78 L600.83,261.06 L601.03,261.34 L601.23,261.62 L601.43,261.89 L601.63,262.16 L601.83,262.42 L602.03,262.68 L602.23,262.94 L602.43,263.19 L602.63,263.43 L602.83,263.68 L603.03,263.91 L603.23,264.15 L603.43,264.38 L603.63,264.60 L603.83,264.83 L604.03,265.04 L604.23,265.26 L604.43,265.47 L604.63,265.68 L604.83,265.88 L605.03,266.08 L605.23,266.28 L605.43,266.47 L605.63,266.66 L605.83,266.84 L606.03,267.03 L606.23,267.21 L606.43,267.38 L606.62,267.56 L606.82,267.72 L607.02,267.89 L607.22,268.05 L607.42,268.22 L607.62,268.37 L607.82,268.53 L608.02,268.68 L608.22,268.83 L608.42,268.97 L608.62,269.12 L608.82,269.26 L609.02,269.40 L609.22,269.53 L609.42,269.66 L609.62,269.79 L609.82,269.92 L610.02,270.05 L610.22,270.17 L610.42,270.29 L610.62,270.41 L610.82,270.53 L611.02,270.64 L611.22,270.75 L611.42,270.86 L611.62,270.97 L611.82,271.07 L612.02,271.18 L612.22,271.28 L612.42,271.38 L612.62,271.47 L612.82,271.57 L613.02,271.66 L613.22,271.75 L613.42,271.84 L613.62,271.93 L613.82,272.02 L614.02,272.10 L614.22,272.19 L614.42,272.27 L614.62,272.35 L614.82,272.42 L615.02,272.50 L615.22,272.57 L615.42,272.65 L615.62,272.72 L615.82,272.79 L616.02,272.86 L616.22,272.93 L616.42,272.99 L616.62,273.06 L616.82,273.12 L617.02,273.18 L617.22,273.24 L617.42,273.30 L617.62,273.36 L617.82,273.42 L618.02,273.48 L618.22,273.53 L618.42,273.58 L618.62,273.64 L618.82,273.69 L619.02,273.74 L619.22,273.79 L619.42,273.84 L619.62,273.88 L619.81,273.93 L620.01,273.98 L620.21,274.02 L620.41,274.06 L620.61,274.11 L620.81,274.15 L621.01,274.19 L621.21,274.23 L621.41,274.27 L621.61,274.31 L621.81,274.34 L622.01,274.38 L622.21,274.42 L622.41,274.45 L622.61,274.49 L622.81,274.52 L623.01,274.55 L623.21,274.59 L623.41,274.62 L623.61,274.65 L623.81,274.68 L624.01,274.71 L624.21,274.74 L624.41,274.77 L624.61,274.79 L624.81,274.82 L625.01,274.85 L625.21,274.87 L625.41,274.90 L625.61,274.92 L625.81,274.95 L626.01,274.97 L626.21,275.00 L626.41,275.02 L626.61,275.04 L626.81,275.06 L627.01,275.08 L627.21,275.11 L627.41,275.13 L627.61,275.15 L627.81,275.17 L628.01,275.18 L628.21,275.20 L628.41,275.22 L628.61,275.24 L628.81,275.26 L629.01,275.27 L629.21,275.29 L629.41,275.31 L629.61,275.32 L629.81,275.34 L630.01,275.35 L630.21,275.37 L630.41,275.38 L630.61,275.40 L630.81,275.41 L631.01,275.43 L631.21,275.44 L631.41,275.45 L631.61,275.47 L631.81,275.48 L632.01,275.49 L632.21,275.50 L632.41,275.52 L632.61,275.53 L632.81,275.54 L633.00,275.55 L633.20,275.56 L633.40,275.57 L633.60,275.58 L633.80,275.59 L634.00,275.60 L634.20,275.61 L634.40,275.62 L634.60,275.63 L634.80,275.64 L635.00,275.65 L635.20,275.66 L635.40,275.66 L635.60,275.67 L635.80,275.68 L636.00,275.69 L636.20,275.70 L636.40,275.70 L636.60,275.71 L636.80,275.72 L637.00,275.72 L637.20,275.73 L637.40,275.74 L637.60,275.74 L637.80,275.75 L638.00,275.76 L638.20,275.76 L638.40,275.77 L638.60,275.78 L638.80,275.78 L639.00,275.79 L639.20,275.79 L639.40,275.80"/>
<path class="ax" d="M375.50,212.10 L375.50,342.95 L636.00,342.95"/>
<path fill="#000" d="M375.50,208.90 L378.40,213.80 L375.50,212.70 L372.60,213.80 Z"/>
<path fill="#000" d="M639.20,342.95 L634.30,340.05 L635.40,342.95 L634.30,345.85 Z"/>
</g>
<g>
<line class="tk" x1="132.95" y1="519.00" x2="132.95" y2="525.00"/>
<line class="gd" x1="132.95" y1="388.00" x2="132.95" y2="522.00" stroke-dashoffset="3.75"/>
<line class="tk" x1="264.90" y1="519.00" x2="264.90" y2="525.00"/>
<line class="gd" x1="264.90" y1="388.00" x2="264.90" y2="522.00" stroke-dashoffset="3.75"/>
<line class="tk" x1="63.90" y1="498.16" x2="69.90" y2="498.16"/>
<text x="57.60" y="503.61" transform="rotate(0.03 57.60 503.61)" font-size="18.2" text-anchor="end" textLength="8.3" lengthAdjust="spacingAndGlyphs">5</text>
<line class="mn" x1="37.00" y1="498.61" x2="47.30" y2="498.61"/>
<line class="tk" x1="63.90" y1="455.00" x2="69.90" y2="455.00"/>
<text x="57.60" y="461.15" transform="rotate(0.03 57.60 461.15)" font-size="18.2" text-anchor="end" textLength="8.3" lengthAdjust="spacingAndGlyphs">0</text>
<line class="tk" x1="63.90" y1="411.84" x2="69.90" y2="411.84"/>
<text x="57.60" y="417.99" transform="rotate(0.03 57.60 417.99)" font-size="18.2" text-anchor="end" textLength="8.3" lengthAdjust="spacingAndGlyphs">5</text>
<path class="cr" d="M66.97,454.99 L67.17,454.99 L67.37,454.99 L67.57,454.99 L67.77,454.99 L67.97,454.99 L68.17,454.98 L68.37,454.98 L68.57,454.98 L68.77,454.98 L68.97,454.98 L69.17,454.98 L69.37,454.98 L69.57,454.98 L69.77,454.98 L69.97,454.98 L70.17,454.98 L70.37,454.98 L70.57,454.98 L70.77,454.98 L70.97,454.98 L71.17,454.98 L71.37,454.98 L71.57,454.98 L71.77,454.97 L71.97,454.97 L72.17,454.97 L72.37,454.97 L72.57,454.97 L72.77,454.97 L72.97,454.97 L73.17,454.97 L73.37,454.97 L73.57,454.97 L73.77,454.97 L73.97,454.97 L74.17,454.97 L74.37,454.96 L74.57,454.96 L74.77,454.96 L74.97,454.96 L75.17,454.96 L75.37,454.96 L75.57,454.96 L75.77,454.96 L75.97,454.96 L76.17,454.95 L76.37,454.95 L76.57,454.95 L76.77,454.95 L76.97,454.95 L77.17,454.95 L77.37,454.95 L77.57,454.94 L77.77,454.94 L77.97,454.94 L78.17,454.94 L78.37,454.94 L78.57,454.94 L78.77,454.93 L78.97,454.93 L79.17,454.93 L79.37,454.93 L79.57,454.93 L79.77,454.93 L79.97,454.92 L80.17,454.92 L80.37,454.92 L80.57,454.92 L80.77,454.91 L80.97,454.91 L81.17,454.91 L81.37,454.91 L81.57,454.90 L81.77,454.90 L81.97,454.90 L82.17,454.90 L82.37,454.89 L82.57,454.89 L82.77,454.89 L82.97,454.88 L83.17,454.88 L83.37,454.88 L83.57,454.88 L83.77,454.87 L83.97,454.87 L84.17,454.87 L84.37,454.86 L84.57,454.86 L84.77,454.85 L84.97,454.85 L85.17,454.85 L85.37,454.84 L85.57,454.84 L85.77,454.83 L85.97,454.83 L86.17,454.82 L86.37,454.82 L86.57,454.82 L86.77,454.81 L86.97,454.81 L87.17,454.80 L87.37,454.80 L87.57,454.79 L87.77,454.78 L87.97,454.78 L88.17,454.77 L88.37,454.77 L88.57,454.76 L88.77,454.75 L88.97,454.75 L89.17,454.74 L89.37,454.73 L89.57,454.73 L89.77,454.72 L89.97,454.71 L90.17,454.71 L90.37,454.70 L90.57,454.69 L90.77,454.68 L90.97,454.68 L91.17,454.67 L91.37,454.66 L91.57,454.65 L91.77,454.64 L91.97,454.63 L92.17,454.62 L92.37,454.61 L92.57,454.60 L92.77,454.59 L92.97,454.58 L93.17,454.57 L93.36,454.56 L93.56,454.55 L93.76,454.54 L93.96,454.53 L94.16,454.52 L94.36,454.50 L94.56,454.49 L94.76,454.48 L94.96,454.47 L95.16,454.45 L95.36,454.44 L95.56,454.43 L95.76,454.41 L95.96,454.40 L96.16,454.38 L96.36,454.37 L96.56,454.35 L96.76,454.34 L96.96,454.32 L97.16,454.30 L97.36,454.29 L97.56,454.27 L97.76,454.25 L97.96,454.23 L98.16,454.21 L98.36,454.20 L98.56,454.18 L98.76,454.16 L98.96,454.14 L99.16,454.12 L99.36,454.10 L99.56,454.07 L99.76,454.05 L99.96,454.03 L100.16,454.01 L100.36,453.98 L100.56,453.96 L100.76,453.94 L100.96,453.91 L101.16,453.89 L101.36,453.86 L101.56,453.83 L101.76,453.81 L101.96,453.78 L102.16,453.75 L102.36,453.72 L102.56,453.69 L102.76,453.67 L102.96,453.63 L103.16,453.60 L103.36,453.57 L103.56,453.54 L103.76,453.51 L103.96,453.48 L104.16,453.44 L104.36,453.41 L104.56,453.37 L104.76,453.34 L104.96,453.30 L105.16,453.26 L105.36,453.23 L105.56,453.19 L105.76,453.15 L105.96,453.11 L106.16,453.07 L106.36,453.03 L106.56,452.99 L106.76,452.94 L106.96,452.90 L107.16,452.86 L107.36,452.81 L107.56,452.77 L107.76,452.72 L107.96,452.67 L108.16,452.63 L108.36,452.58 L108.56,452.53 L108.76,452.48 L108.96,452.43 L109.16,452.38 L109.36,452.33 L109.56,452.27 L109.76,452.22 L109.96,452.17 L110.16,452.11 L110.36,452.06 L110.56,452.00 L110.76,451.94 L110.96,451.88 L111.16,451.83 L111.36,451.77 L111.56,451.71 L111.76,451.65 L111.96,451.59 L112.16,451.52 L112.36,451.46 L112.56,451.40 L112.76,451.33 L112.96,451.27 L113.16,451.20 L113.36,451.14 L113.56,451.07 L113.76,451.00 L113.96,450.94 L114.16,450.87 L114.36,450.80 L114.56,450.73 L114.76,450.66 L114.96,450.59 L115.16,450.52 L115.36,450.45 L115.56,450.38 L115.76,450.31 L115.96,450.24 L116.16,450.17 L116.36,450.10 L116.56,450.03 L116.76,449.95 L116.96,449.88 L117.16,449.81 L117.36,449.74 L117.56,449.67 L117.76,449.60 L117.96,449.53 L118.16,449.46 L118.36,449.39 L118.56,449.32 L118.76,449.25 L118.96,449.18 L119.16,449.11 L119.36,449.04 L119.56,448.98 L119.75,448.91 L119.95,448.85 L120.15,448.79 L120.35,448.72 L120.55,448.66 L120.75,448.60 L120.95,448.55 L121.15,448.49 L121.35,448.44 L121.55,448.39 L121.75,448.34 L121.95,448.29 L122.15,448.24 L122.35,448.20 L122.55,448.16 L122.75,448.12 L122.95,448.08 L123.15,448.05 L123.35,448.02 L123.55,448.00 L123.75,447.97 L123.95,447.95 L124.15,447.94 L124.35,447.93 L124.55,447.92 L124.75,447.92 L124.95,447.92 L125.15,447.93 L125.35,447.94 L125.55,447.95 L125.75,447.97 L125.95,448.00 L126.15,448.03 L126.35,448.07 L126.55,448.11 L126.75,448.16 L126.95,448.22 L127.15,448.28 L127.35,448.35 L127.55,448.42 L127.75,448.51 L127.95,448.60 L128.15,448.69 L128.35,448.80 L128.55,448.91 L128.75,449.03 L128.95,449.16 L129.15,449.30 L129.35,449.44 L129.55,449.60 L129.75,449.76 L129.95,449.93 L130.15,450.11 L130.35,450.30 L130.55,450.50 L130.75,450.71 L130.95,450.93 L131.15,451.16 L131.35,451.39 L131.55,451.64 L131.75,451.89 L131.95,452.16 L132.15,452.43 L132.35,452.71 L132.55,453.00 L132.75,453.30 L132.95,453.61 L133.15,453.92 L133.35,454.25 L133.55,454.58 L133.75,454.92 L133.95,455.26 L134.15,455.61 L134.35,455.96 L134.55,456.32 L134.75,456.69 L134.95,457.06 L135.15,457.42 L135.35,457.80 L135.55,458.17 L135.75,458.54 L135.95,458.91 L136.15,459.28 L136.35,459.64 L136.55,460.00 L136.75,460.36 L136.95,460.71 L137.15,461.05 L137.35,461.38 L137.55,461.70 L137.75,462.01 L137.95,462.31 L138.15,462.60 L138.35,462.88 L138.55,463.14 L138.75,463.38 L138.95,463.61 L139.15,463.82 L139.35,464.01 L139.55,464.18 L139.75,464.34 L139.95,464.48 L140.15,464.59 L140.35,464.69 L140.55,464.76 L140.75,464.82 L140.95,464.85 L141.15,464.87 L141.35,464.86 L141.55,464.83 L141.75,464.78 L141.95,464.72 L142.15,464.63 L142.35,464.53 L142.55,464.40 L142.75,464.26 L142.95,464.10 L143.15,463.93 L143.35,463.74 L143.55,463.54 L143.75,463.33 L143.95,463.11 L144.15,462.87 L144.35,462.63 L144.55,462.37 L144.75,462.11 L144.95,461.85 L145.15,461.58 L145.35,461.31 L145.55,461.04 L145.75,460.77 L145.95,460.50 L146.14,460.23 L146.34,459.96 L146.54,459.70 L146.74,459.45 L146.94,459.21 L147.14,458.97 L147.34,458.74 L147.54,458.53 L147.74,458.32 L147.94,458.13 L148.14,457.95 L148.34,457.79 L148.54,457.64 L148.74,457.50 L148.94,457.38 L149.14,457.28 L149.34,457.19 L149.54,457.12 L149.74,457.06 L149.94,457.03 L150.14,457.00 L150.34,457.00 L150.54,457.00 L150.74,457.03 L150.94,457.06 L151.14,457.12 L151.34,457.18 L151.54,457.26 L151.74,457.35 L151.94,457.45 L152.14,457.56 L152.34,457.68 L152.54,457.80 L152.74,457.94 L152.94,458.07 L153.14,458.22 L153.34,458.36 L153.54,458.51 L153.74,458.66 L153.94,458.81 L154.14,458.96 L154.34,459.10 L154.54,459.24 L154.74,459.38 L154.94,459.51 L155.14,459.63 L155.34,459.74 L155.54,459.85 L155.74,459.94 L155.94,460.02 L156.14,460.09 L156.34,460.15 L156.54,460.20 L156.74,460.23 L156.94,460.24 L157.14,460.24 L157.34,460.23 L157.54,460.20 L157.74,460.16 L157.94,460.10 L158.14,460.02 L158.34,459.93 L158.54,459.83 L158.74,459.71 L158.94,459.57 L159.14,459.43 L159.34,459.27 L159.54,459.09 L159.74,458.91 L159.94,458.71 L160.14,458.51 L160.34,458.30 L160.54,458.07 L160.74,457.84 L160.94,457.61 L161.14,457.37 L161.34,457.13 L161.54,456.88 L161.74,456.64 L161.94,456.39 L162.14,456.15 L162.34,455.91 L162.54,455.67 L162.74,455.44 L162.94,455.21 L163.14,454.99 L163.34,454.78 L163.54,454.58 L163.74,454.38 L163.94,454.21 L164.14,454.04 L164.34,453.88 L164.54,453.74 L164.74,453.62 L164.94,453.50 L165.14,453.41 L165.34,453.33 L165.54,453.26 L165.74,453.22 L165.94,453.19 L166.14,453.17 L166.34,453.17 L166.54,453.19 L166.74,453.23 L166.94,453.28 L167.14,453.34 L167.34,453.43 L167.54,453.52 L167.74,453.63 L167.94,453.75 L168.14,453.89 L168.34,454.03 L168.54,454.19 L168.74,454.35 L168.94,454.52 L169.14,454.70 L169.34,454.89 L169.54,455.08 L169.74,455.27 L169.94,455.47 L170.14,455.67 L170.34,455.87 L170.54,456.06 L170.74,456.26 L170.94,456.45 L171.14,456.63 L171.34,456.81 L171.54,456.98 L171.74,457.14 L171.94,457.30 L172.14,457.44 L172.34,457.57 L172.53,457.69 L172.73,457.80 L172.93,457.89 L173.13,457.97 L173.33,458.04 L173.53,458.09 L173.73,458.12 L173.93,458.14 L174.13,458.14 L174.33,458.13 L174.53,458.10 L174.73,458.06 L174.93,458.00 L175.13,457.92 L175.33,457.83 L175.53,457.73 L175.73,457.61 L175.93,457.48 L176.13,457.33 L176.33,457.17 L176.53,457.01 L176.73,456.83 L176.93,456.64 L177.13,456.45 L177.33,456.25 L177.53,456.04 L177.73,455.83 L177.93,455.62 L178.13,455.40 L178.33,455.18 L178.53,454.97 L178.73,454.75 L178.93,454.54 L179.13,454.33 L179.33,454.13 L179.53,453.93 L179.73,453.74 L179.93,453.56 L180.13,453.38 L180.33,453.22 L180.53,453.07 L180.73,452.93 L180.93,452.81 L181.13,452.70 L181.33,452.60 L181.53,452.52 L181.73,452.45 L181.93,452.40 L182.13,452.36 L182.33,452.34 L182.53,452.34 L182.73,452.35 L182.93,452.38 L183.13,452.43 L183.33,452.49 L183.53,452.56 L183.73,452.65 L183.93,452.76 L184.13,452.88 L184.33,453.01 L184.53,453.15 L184.73,453.31 L184.93,453.47 L185.13,453.65 L185.33,453.83 L185.53,454.02 L185.73,454.22 L185.93,454.42 L186.13,454.63 L186.33,454.84 L186.53,455.05 L186.73,455.26 L186.93,455.47 L187.13,455.67 L187.33,455.88 L187.53,456.07 L187.73,456.27 L187.93,456.45 L188.13,456.63 L188.33,456.80 L188.53,456.96 L188.73,457.11 L188.93,457.24 L189.13,457.37 L189.33,457.48 L189.53,457.57 L189.73,457.65 L189.93,457.72 L190.13,457.77 L190.33,457.81 L190.53,457.82 L190.73,457.83 L190.93,457.81 L191.13,457.79 L191.33,457.74 L191.53,457.68 L191.73,457.60 L191.93,457.51 L192.13,457.41 L192.33,457.29 L192.53,457.16 L192.73,457.01 L192.93,456.86 L193.13,456.69 L193.33,456.52 L193.53,456.33 L193.73,456.14 L193.93,455.94 L194.13,455.74 L194.33,455.53 L194.53,455.32 L194.73,455.11 L194.93,454.90 L195.13,454.69 L195.33,454.48 L195.53,454.27 L195.73,454.07 L195.93,453.87 L196.13,453.68 L196.33,453.50 L196.53,453.33 L196.73,453.16 L196.93,453.01 L197.13,452.87 L197.33,452.74 L197.53,452.63 L197.73,452.53 L197.93,452.44 L198.13,452.37 L198.33,452.31 L198.53,452.27 L198.73,452.25 L198.92,452.24 L199.12,452.25 L199.32,452.27 L199.52,452.31 L199.72,452.37 L199.92,452.44 L200.12,452.53 L200.32,452.63 L200.52,452.74 L200.72,452.87 L200.92,453.01 L201.12,453.16 L201.32,453.33 L201.52,453.50 L201.72,453.68 L201.92,453.87 L202.12,454.07 L202.32,454.27 L202.52,454.48 L202.72,454.69 L202.92,454.90 L203.12,455.11 L203.32,455.32 L203.52,455.53 L203.72,455.74 L203.92,455.94 L204.12,456.14 L204.32,456.33 L204.52,456.52 L204.72,456.69 L204.92,456.86 L205.12,457.01 L205.32,457.16 L205.52,457.29 L205.72,457.41 L205.92,457.51 L206.12,457.60 L206.32,457.68 L206.52,457.74 L206.72,457.79 L206.92,457.81 L207.12,457.83 L207.32,457.82 L207.52,457.81 L207.72,457.77 L207.92,457.72 L208.12,457.65 L208.32,457.57 L208.52,457.48 L208.72,457.37 L208.92,457.24 L209.12,457.11 L209.32,456.96 L209.52,456.80 L209.72,456.63 L209.92,456.45 L210.12,456.27 L210.32,456.07 L210.52,455.88 L210.72,455.67 L210.92,455.47 L211.12,455.26 L211.32,455.05 L211.52,454.84 L211.72,454.63 L211.92,454.42 L212.12,454.22 L212.32,454.02 L212.52,453.83 L212.72,453.65 L212.92,453.47 L213.12,453.31 L213.32,453.15 L213.52,453.01 L213.72,452.88 L213.92,452.76 L214.12,452.65 L214.32,452.56 L214.52,452.49 L214.72,452.43 L214.92,452.38 L215.12,452.35 L215.32,452.34 L215.52,452.34 L215.72,452.36 L215.92,452.40 L216.12,452.45 L216.32,452.52 L216.52,452.60 L216.72,452.70 L216.92,452.81 L217.12,452.93 L217.32,453.07 L217.52,453.22 L217.72,453.38 L217.92,453.56 L218.12,453.74 L218.32,453.93 L218.52,454.13 L218.72,454.33 L218.92,454.54 L219.12,454.75 L219.32,454.97 L219.52,455.18 L219.72,455.40 L219.92,455.62 L220.12,455.83 L220.32,456.04 L220.52,456.25 L220.72,456.45 L220.92,456.64 L221.12,456.83 L221.32,457.01 L221.52,457.17 L221.72,457.33 L221.92,457.48 L222.12,457.61 L222.32,457.73 L222.52,457.83 L222.72,457.92 L222.92,458.00 L223.12,458.06 L223.32,458.10 L223.52,458.13 L223.72,458.14 L223.92,458.14 L224.12,458.12 L224.32,458.09 L224.52,458.04 L224.72,457.97 L224.92,457.89 L225.12,457.80 L225.31,457.69 L225.51,457.57 L225.71,457.44 L225.91,457.30 L226.11,457.14 L226.31,456.98 L226.51,456.81 L226.71,456.63 L226.91,456.45 L227.11,456.26 L227.31,456.06 L227.51,455.87 L227.71,455.67 L227.91,455.47 L228.11,455.27 L228.31,455.08 L228.51,454.89 L228.71,454.70 L228.91,454.52 L229.11,454.35 L229.31,454.19 L229.51,454.03 L229.71,453.89 L229.91,453.75 L230.11,453.63 L230.31,453.52 L230.51,453.43 L230.71,453.34 L230.91,453.28 L231.11,453.23 L231.31,453.19 L231.51,453.17 L231.71,453.17 L231.91,453.19 L232.11,453.22 L232.31,453.26 L232.51,453.33 L232.71,453.41 L232.91,453.50 L233.11,453.62 L233.31,453.74 L233.51,453.88 L233.71,454.04 L233.91,454.21 L234.11,454.38 L234.31,454.58 L234.51,454.78 L234.71,454.99 L234.91,455.21 L235.11,455.44 L235.31,455.67 L235.51,455.91 L235.71,456.15 L235.91,456.39 L236.11,456.64 L236.31,456.88 L236.51,457.13 L236.71,457.37 L236.91,457.61 L237.11,457.84 L237.31,458.07 L237.51,458.30 L237.71,458.51 L237.91,458.71 L238.11,458.91 L238.31,459.09 L238.51,459.27 L238.71,459.43 L238.91,459.57 L239.11,459.71 L239.31,459.83 L239.51,459.93 L239.71,460.02 L239.91,460.10 L240.11,460.16 L240.31,460.20 L240.51,460.23 L240.71,460.24 L240.91,460.24 L241.11,460.23 L241.31,460.20 L241.51,460.15 L241.71,460.09 L241.91,460.02 L242.11,459.94 L242.31,459.85 L242.51,459.74 L242.71,459.63 L242.91,459.51 L243.11,459.38 L243.31,459.24 L243.51,459.10 L243.71,458.96 L243.91,458.81 L244.11,458.66 L244.31,458.51 L244.51,458.36 L244.71,458.22 L244.91,458.07 L245.11,457.94 L245.31,457.80 L245.51,457.68 L245.71,457.56 L245.91,457.45 L246.11,457.35 L246.31,457.26 L246.51,457.18 L246.71,457.12 L246.91,457.06 L247.11,457.03 L247.31,457.00 L247.51,457.00 L247.71,457.00 L247.91,457.03 L248.11,457.06 L248.31,457.12 L248.51,457.19 L248.71,457.28 L248.91,457.38 L249.11,457.50 L249.31,457.64 L249.51,457.79 L249.71,457.95 L249.91,458.13 L250.11,458.32 L250.31,458.53 L250.51,458.74 L250.71,458.97 L250.91,459.21 L251.11,459.45 L251.31,459.70 L251.51,459.96 L251.70,460.23 L251.90,460.50 L252.10,460.77 L252.30,461.04 L252.50,461.31 L252.70,461.58 L252.90,461.85 L253.10,462.11 L253.30,462.37 L253.50,462.63 L253.70,462.87 L253.90,463.11 L254.10,463.33 L254.30,463.54 L254.50,463.74 L254.70,463.93 L254.90,464.10 L255.10,464.26 L255.30,464.40 L255.50,464.53 L255.70,464.63 L255.90,464.72 L256.10,464.78 L256.30,464.83 L256.50,464.86 L256.70,464.87 L256.90,464.85 L257.10,464.82 L257.30,464.76 L257.50,464.69 L257.70,464.59 L257.90,464.48 L258.10,464.34 L258.30,464.18 L258.50,464.01 L258.70,463.82 L258.90,463.61 L259.10,463.38 L259.30,463.14 L259.50,462.88 L259.70,462.60 L259.90,462.31 L260.10,462.01 L260.30,461.70 L260.50,461.38 L260.70,461.05 L260.90,460.71 L261.10,460.36 L261.30,460.00 L261.50,459.64 L261.70,459.28 L261.90,458.91 L262.10,458.54 L262.30,458.17 L262.50,457.80 L262.70,457.42 L262.90,457.06 L263.10,456.69 L263.30,456.32 L263.50,455.96 L263.70,455.61 L263.90,455.26 L264.10,454.92 L264.30,454.58 L264.50,454.25 L264.70,453.92 L264.90,453.61 L265.10,453.30 L265.30,453.00 L265.50,452.71 L265.70,452.43 L265.90,452.16 L266.10,451.89 L266.30,451.64 L266.50,451.39 L266.70,451.16 L266.90,450.93 L267.10,450.71 L267.30,450.50 L267.50,450.30 L267.70,450.11 L267.90,449.93 L268.10,449.76 L268.30,449.60 L268.50,449.44 L268.70,449.30 L268.90,449.16 L269.10,449.03 L269.30,448.91 L269.50,448.80 L269.70,448.69 L269.90,448.60 L270.10,448.51 L270.30,448.42 L270.50,448.35 L270.70,448.28 L270.90,448.22 L271.10,448.16 L271.30,448.11 L271.50,448.07 L271.70,448.03 L271.90,448.00 L272.10,447.97 L272.30,447.95 L272.50,447.94 L272.70,447.93 L272.90,447.92 L273.10,447.92 L273.30,447.92 L273.50,447.93 L273.70,447.94 L273.90,447.95 L274.10,447.97 L274.30,448.00 L274.50,448.02 L274.70,448.05 L274.90,448.08 L275.10,448.12 L275.30,448.16 L275.50,448.20 L275.70,448.24 L275.90,448.29 L276.10,448.34 L276.30,448.39 L276.50,448.44 L276.70,448.49 L276.90,448.55 L277.10,448.60 L277.30,448.66 L277.50,448.72 L277.70,448.79 L277.90,448.85 L278.09,448.91 L278.29,448.98 L278.49,449.04 L278.69,449.11 L278.89,449.18 L279.09,449.25 L279.29,449.32 L279.49,449.39 L279.69,449.46 L279.89,449.53 L280.09,449.60 L280.29,449.67 L280.49,449.74 L280.69,449.81 L280.89,449.88 L281.09,449.95 L281.29,450.03 L281.49,450.10 L281.69,450.17 L281.89,450.24 L282.09,450.31 L282.29,450.38 L282.49,450.45 L282.69,450.52 L282.89,450.59 L283.09,450.66 L283.29,450.73 L283.49,450.80 L283.69,450.87 L283.89,450.94 L284.09,451.00 L284.29,451.07 L284.49,451.14 L284.69,451.20 L284.89,451.27 L285.09,451.33 L285.29,451.40 L285.49,451.46 L285.69,451.52 L285.89,451.59 L286.09,451.65 L286.29,451.71 L286.49,451.77 L286.69,451.83 L286.89,451.88 L287.09,451.94 L287.29,452.00 L287.49,452.06 L287.69,452.11 L287.89,452.17 L288.09,452.22 L288.29,452.27 L288.49,452.33 L288.69,452.38 L288.89,452.43 L289.09,452.48 L289.29,452.53 L289.49,452.58 L289.69,452.63 L289.89,452.67 L290.09,452.72 L290.29,452.77 L290.49,452.81 L290.69,452.86 L290.89,452.90 L291.09,452.94 L291.29,452.99 L291.49,453.03 L291.69,453.07 L291.89,453.11 L292.09,453.15 L292.29,453.19 L292.49,453.23 L292.69,453.26 L292.89,453.30 L293.09,453.34 L293.29,453.37 L293.49,453.41 L293.69,453.44 L293.89,453.48 L294.09,453.51 L294.29,453.54 L294.49,453.57 L294.69,453.60 L294.89,453.63 L295.09,453.67 L295.29,453.69 L295.49,453.72 L295.69,453.75 L295.89,453.78 L296.09,453.81 L296.29,453.83 L296.49,453.86 L296.69,453.89 L296.89,453.91 L297.09,453.94 L297.29,453.96 L297.49,453.98 L297.69,454.01 L297.89,454.03 L298.09,454.05 L298.29,454.07 L298.49,454.10 L298.69,454.12 L298.89,454.14 L299.09,454.16 L299.29,454.18 L299.49,454.20 L299.69,454.21 L299.89,454.23 L300.09,454.25 L300.29,454.27 L300.49,454.29 L300.69,454.30 L300.89,454.32 L301.09,454.34 L301.29,454.35 L301.49,454.37 L301.69,454.38 L301.89,454.40 L302.09,454.41 L302.29,454.43 L302.49,454.44 L302.69,454.45 L302.89,454.47 L303.09,454.48 L303.29,454.49 L303.49,454.50 L303.69,454.52 L303.89,454.53 L304.09,454.54 L304.29,454.55 L304.48,454.56 L304.68,454.57 L304.88,454.58 L305.08,454.59 L305.28,454.60 L305.48,454.61 L305.68,454.62 L305.88,454.63 L306.08,454.64 L306.28,454.65 L306.48,454.66 L306.68,454.67 L306.88,454.68 L307.08,454.68 L307.28,454.69 L307.48,454.70 L307.68,454.71 L307.88,454.71 L308.08,454.72 L308.28,454.73 L308.48,454.73 L308.68,454.74 L308.88,454.75 L309.08,454.75 L309.28,454.76 L309.48,454.77 L309.68,454.77 L309.88,454.78 L310.08,454.78 L310.28,454.79 L310.48,454.80 L310.68,454.80 L310.88,454.81 L311.08,454.81 L311.28,454.82 L311.48,454.82 L311.68,454.82 L311.88,454.83 L312.08,454.83 L312.28,454.84 L312.48,454.84 L312.68,454.85 L312.88,454.85 L313.08,454.85 L313.28,454.86 L313.48,454.86 L313.68,454.87 L313.88,454.87 L314.08,454.87 L314.28,454.88 L314.48,454.88 L314.68,454.88 L314.88,454.88 L315.08,454.89 L315.28,454.89 L315.48,454.89 L315.68,454.90 L315.88,454.90 L316.08,454.90 L316.28,454.90 L316.48,454.91 L316.68,454.91 L316.88,454.91 L317.08,454.91 L317.28,454.92 L317.48,454.92 L317.68,454.92 L317.88,454.92 L318.08,454.93 L318.28,454.93 L318.48,454.93 L318.68,454.93 L318.88,454.93 L319.08,454.93 L319.28,454.94 L319.48,454.94 L319.68,454.94 L319.88,454.94 L320.08,454.94 L320.28,454.94 L320.48,454.95 L320.68,454.95 L320.88,454.95 L321.08,454.95 L321.28,454.95 L321.48,454.95 L321.68,454.95 L321.88,454.96 L322.08,454.96 L322.28,454.96 L322.48,454.96 L322.68,454.96 L322.88,454.96 L323.08,454.96 L323.28,454.96 L323.48,454.96 L323.68,454.97 L323.88,454.97 L324.08,454.97 L324.28,454.97 L324.48,454.97 L324.68,454.97 L324.88,454.97 L325.08,454.97 L325.28,454.97 L325.48,454.97 L325.68,454.97 L325.88,454.97 L326.08,454.97 L326.28,454.98 L326.48,454.98 L326.68,454.98 L326.88,454.98 L327.08,454.98 L327.28,454.98 L327.48,454.98 L327.68,454.98 L327.88,454.98 L328.08,454.98 L328.28,454.98 L328.48,454.98 L328.68,454.98 L328.88,454.98 L329.08,454.98 L329.28,454.98 L329.48,454.98 L329.68,454.98 L329.88,454.99 L330.08,454.99 L330.28,454.99 L330.48,454.99 L330.68,454.99 L330.88,454.99"/>
<path class="cb" d="M66.97,454.97 L67.17,454.97 L67.37,454.96 L67.57,454.96 L67.77,454.96 L67.97,454.96 L68.17,454.96 L68.37,454.96 L68.57,454.96 L68.77,454.96 L68.97,454.95 L69.17,454.95 L69.37,454.95 L69.57,454.95 L69.77,454.95 L69.97,454.95 L70.17,454.95 L70.37,454.94 L70.57,454.94 L70.77,454.94 L70.97,454.94 L71.17,454.94 L71.37,454.94 L71.57,454.93 L71.77,454.93 L71.97,454.93 L72.17,454.93 L72.37,454.93 L72.57,454.92 L72.77,454.92 L72.97,454.92 L73.17,454.92 L73.37,454.92 L73.57,454.91 L73.77,454.91 L73.97,454.91 L74.17,454.91 L74.37,454.90 L74.57,454.90 L74.77,454.90 L74.97,454.89 L75.17,454.89 L75.37,454.89 L75.57,454.89 L75.77,454.88 L75.97,454.88 L76.17,454.87 L76.37,454.87 L76.57,454.87 L76.77,454.86 L76.97,454.86 L77.17,454.86 L77.37,454.85 L77.57,454.85 L77.77,454.84 L77.97,454.84 L78.17,454.83 L78.37,454.83 L78.57,454.83 L78.77,454.82 L78.97,454.82 L79.17,454.81 L79.37,454.80 L79.57,454.80 L79.77,454.79 L79.97,454.79 L80.17,454.78 L80.37,454.78 L80.57,454.77 L80.77,454.76 L80.97,454.76 L81.17,454.75 L81.37,454.74 L81.57,454.74 L81.77,454.73 L81.97,454.72 L82.17,454.71 L82.37,454.70 L82.57,454.70 L82.77,454.69 L82.97,454.68 L83.17,454.67 L83.37,454.66 L83.57,454.65 L83.77,454.64 L83.97,454.63 L84.17,454.62 L84.37,454.61 L84.57,454.60 L84.77,454.59 L84.97,454.58 L85.17,454.57 L85.37,454.56 L85.57,454.54 L85.77,454.53 L85.97,454.52 L86.17,454.51 L86.37,454.49 L86.57,454.48 L86.77,454.46 L86.97,454.45 L87.17,454.43 L87.37,454.42 L87.57,454.40 L87.77,454.39 L87.97,454.37 L88.17,454.35 L88.37,454.34 L88.57,454.32 L88.77,454.30 L88.97,454.28 L89.17,454.26 L89.37,454.24 L89.57,454.22 L89.77,454.20 L89.97,454.18 L90.17,454.16 L90.37,454.13 L90.57,454.11 L90.77,454.09 L90.97,454.06 L91.17,454.04 L91.37,454.01 L91.57,453.98 L91.77,453.96 L91.97,453.93 L92.17,453.90 L92.37,453.87 L92.57,453.84 L92.77,453.81 L92.97,453.78 L93.17,453.75 L93.36,453.71 L93.56,453.68 L93.76,453.65 L93.96,453.61 L94.16,453.57 L94.36,453.54 L94.56,453.50 L94.76,453.46 L94.96,453.42 L95.16,453.38 L95.36,453.34 L95.56,453.29 L95.76,453.25 L95.96,453.20 L96.16,453.16 L96.36,453.11 L96.56,453.06 L96.76,453.01 L96.96,452.96 L97.16,452.91 L97.36,452.85 L97.56,452.80 L97.76,452.74 L97.96,452.68 L98.16,452.62 L98.36,452.56 L98.56,452.50 L98.76,452.44 L98.96,452.37 L99.16,452.31 L99.36,452.24 L99.56,452.17 L99.76,452.10 L99.96,452.02 L100.16,451.95 L100.36,451.87 L100.56,451.79 L100.76,451.71 L100.96,451.63 L101.16,451.55 L101.36,451.46 L101.56,451.37 L101.76,451.28 L101.96,451.19 L102.16,451.10 L102.36,451.00 L102.56,450.90 L102.76,450.80 L102.96,450.70 L103.16,450.60 L103.36,450.49 L103.56,450.38 L103.76,450.27 L103.96,450.15 L104.16,450.03 L104.36,449.91 L104.56,449.79 L104.76,449.67 L104.96,449.54 L105.16,449.41 L105.36,449.27 L105.56,449.14 L105.76,449.00 L105.96,448.86 L106.16,448.71 L106.36,448.56 L106.56,448.41 L106.76,448.25 L106.96,448.10 L107.16,447.93 L107.36,447.77 L107.56,447.60 L107.76,447.43 L107.96,447.25 L108.16,447.08 L108.36,446.89 L108.56,446.71 L108.76,446.52 L108.96,446.32 L109.16,446.12 L109.36,445.92 L109.56,445.72 L109.76,445.51 L109.96,445.29 L110.16,445.08 L110.36,444.85 L110.56,444.63 L110.76,444.40 L110.96,444.16 L111.16,443.92 L111.36,443.68 L111.56,443.43 L111.76,443.18 L111.96,442.92 L112.16,442.66 L112.36,442.39 L112.56,442.12 L112.76,441.84 L112.96,441.56 L113.16,441.27 L113.36,440.98 L113.56,440.68 L113.76,440.38 L113.96,440.08 L114.16,439.76 L114.36,439.45 L114.56,439.12 L114.76,438.80 L114.96,438.46 L115.16,438.13 L115.36,437.78 L115.56,437.43 L115.76,437.08 L115.96,436.72 L116.16,436.35 L116.36,435.98 L116.56,435.61 L116.76,435.22 L116.96,434.84 L117.16,434.45 L117.36,434.05 L117.56,433.64 L117.76,433.24 L117.96,432.82 L118.16,432.40 L118.36,431.98 L118.56,431.55 L118.76,431.11 L118.96,430.67 L119.16,430.22 L119.36,429.77 L119.56,429.32 L119.75,428.86 L119.95,428.39 L120.15,427.92 L120.35,427.44 L120.55,426.96 L120.75,426.48 L120.95,425.99 L121.15,425.50 L121.35,425.00 L121.55,424.50 L121.75,423.99 L121.95,423.48 L122.15,422.97 L122.35,422.45 L122.55,421.93 L122.75,421.41 L122.95,420.88 L123.15,420.36 L123.35,419.83 L123.55,419.29 L123.75,418.76 L123.95,418.22 L124.15,417.69 L124.35,417.15 L124.55,416.61 L124.75,416.07 L124.95,415.53 L125.15,414.99 L125.35,414.45 L125.55,413.91 L125.75,413.38 L125.95,412.84 L126.15,412.31 L126.35,411.78 L126.55,411.26 L126.75,410.73 L126.95,410.22 L127.15,409.70 L127.35,409.19 L127.55,408.69 L127.75,408.19 L127.95,407.70 L128.15,407.21 L128.35,406.74 L128.55,406.27 L128.75,405.81 L128.95,405.36 L129.15,404.92 L129.35,404.49 L129.55,404.08 L129.75,403.67 L129.95,403.28 L130.15,402.90 L130.35,402.54 L130.55,402.19 L130.75,401.85 L130.95,401.53 L131.15,401.23 L131.35,400.95 L131.55,400.68 L131.75,400.43 L131.95,400.21 L132.15,400.00 L132.35,399.82 L132.55,399.65 L132.75,399.51 L132.95,399.39 L133.15,399.30 L133.35,399.23 L133.55,399.19 L133.75,399.17 L133.95,399.17 L134.15,399.21 L134.35,399.27 L134.55,399.35 L134.75,399.47 L134.95,399.61 L135.15,399.78 L135.35,399.98 L135.55,400.21 L135.75,400.46 L135.95,400.75 L136.15,401.06 L136.35,401.40 L136.55,401.76 L136.75,402.16 L136.95,402.58 L137.15,403.03 L137.35,403.50 L137.55,404.00 L137.75,404.52 L137.95,405.07 L138.15,405.64 L138.35,406.23 L138.55,406.84 L138.75,407.46 L138.95,408.11 L139.15,408.77 L139.35,409.45 L139.55,410.15 L139.75,410.85 L139.95,411.57 L140.15,412.29 L140.35,413.03 L140.55,413.77 L140.75,414.52 L140.95,415.27 L141.15,416.02 L141.35,416.77 L141.55,417.52 L141.75,418.26 L141.95,419.01 L142.15,419.74 L142.35,420.47 L142.55,421.19 L142.75,421.91 L142.95,422.60 L143.15,423.29 L143.35,423.96 L143.55,424.62 L143.75,425.27 L143.95,425.89 L144.15,426.50 L144.35,427.09 L144.55,427.66 L144.75,428.21 L144.95,428.74 L145.15,429.26 L145.35,429.75 L145.55,430.22 L145.75,430.67 L145.95,431.10 L146.14,431.50 L146.34,431.89 L146.54,432.26 L146.74,432.61 L146.94,432.94 L147.14,433.25 L147.34,433.54 L147.54,433.82 L147.74,434.08 L147.94,434.33 L148.14,434.56 L148.34,434.78 L148.54,434.98 L148.74,435.18 L148.94,435.36 L149.14,435.54 L149.34,435.71 L149.54,435.88 L149.74,436.04 L149.94,436.19 L150.14,436.34 L150.34,436.50 L150.54,436.65 L150.74,436.80 L150.94,436.96 L151.14,437.12 L151.34,437.28 L151.54,437.45 L151.74,437.63 L151.94,437.81 L152.14,438.00 L152.34,438.20 L152.54,438.41 L152.74,438.62 L152.94,438.85 L153.14,439.09 L153.34,439.34 L153.54,439.61 L153.74,439.88 L153.94,440.16 L154.14,440.46 L154.34,440.77 L154.54,441.08 L154.74,441.41 L154.94,441.75 L155.14,442.10 L155.34,442.46 L155.54,442.82 L155.74,443.19 L155.94,443.57 L156.14,443.96 L156.34,444.35 L156.54,444.74 L156.74,445.14 L156.94,445.54 L157.14,445.94 L157.34,446.34 L157.54,446.73 L157.74,447.13 L157.94,447.52 L158.14,447.90 L158.34,448.28 L158.54,448.66 L158.74,449.02 L158.94,449.37 L159.14,449.71 L159.34,450.05 L159.54,450.36 L159.74,450.67 L159.94,450.96 L160.14,451.23 L160.34,451.49 L160.54,451.74 L160.74,451.96 L160.94,452.17 L161.14,452.36 L161.34,452.53 L161.54,452.68 L161.74,452.82 L161.94,452.93 L162.14,453.03 L162.34,453.11 L162.54,453.17 L162.74,453.21 L162.94,453.23 L163.14,453.24 L163.34,453.23 L163.54,453.21 L163.74,453.17 L163.94,453.11 L164.14,453.05 L164.34,452.97 L164.54,452.88 L164.74,452.78 L164.94,452.67 L165.14,452.55 L165.34,452.43 L165.54,452.30 L165.74,452.16 L165.94,452.02 L166.14,451.89 L166.34,451.75 L166.54,451.61 L166.74,451.47 L166.94,451.34 L167.14,451.21 L167.34,451.09 L167.54,450.97 L167.74,450.86 L167.94,450.76 L168.14,450.67 L168.34,450.59 L168.54,450.52 L168.74,450.47 L168.94,450.43 L169.14,450.40 L169.34,450.38 L169.54,450.38 L169.74,450.39 L169.94,450.42 L170.14,450.47 L170.34,450.52 L170.54,450.60 L170.74,450.69 L170.94,450.79 L171.14,450.91 L171.34,451.04 L171.54,451.18 L171.74,451.34 L171.94,451.51 L172.14,451.69 L172.34,451.88 L172.53,452.08 L172.73,452.29 L172.93,452.50 L173.13,452.73 L173.33,452.96 L173.53,453.19 L173.73,453.43 L173.93,453.67 L174.13,453.91 L174.33,454.14 L174.53,454.38 L174.73,454.62 L174.93,454.85 L175.13,455.07 L175.33,455.29 L175.53,455.50 L175.73,455.71 L175.93,455.90 L176.13,456.08 L176.33,456.25 L176.53,456.41 L176.73,456.56 L176.93,456.69 L177.13,456.81 L177.33,456.91 L177.53,457.00 L177.73,457.07 L177.93,457.13 L178.13,457.17 L178.33,457.19 L178.53,457.19 L178.73,457.18 L178.93,457.16 L179.13,457.11 L179.33,457.05 L179.53,456.98 L179.73,456.89 L179.93,456.79 L180.13,456.67 L180.33,456.54 L180.53,456.40 L180.73,456.25 L180.93,456.09 L181.13,455.92 L181.33,455.74 L181.53,455.55 L181.73,455.36 L181.93,455.16 L182.13,454.96 L182.33,454.76 L182.53,454.56 L182.73,454.36 L182.93,454.16 L183.13,453.96 L183.33,453.76 L183.53,453.58 L183.73,453.39 L183.93,453.22 L184.13,453.05 L184.33,452.90 L184.53,452.75 L184.73,452.62 L184.93,452.49 L185.13,452.38 L185.33,452.29 L185.53,452.21 L185.73,452.14 L185.93,452.09 L186.13,452.05 L186.33,452.03 L186.53,452.03 L186.73,452.04 L186.93,452.07 L187.13,452.11 L187.33,452.17 L187.53,452.24 L187.73,452.33 L187.93,452.43 L188.13,452.55 L188.33,452.68 L188.53,452.83 L188.73,452.98 L188.93,453.15 L189.13,453.32 L189.33,453.51 L189.53,453.70 L189.73,453.90 L189.93,454.10 L190.13,454.31 L190.33,454.52 L190.53,454.74 L190.73,454.95 L190.93,455.17 L191.13,455.38 L191.33,455.59 L191.53,455.80 L191.73,456.00 L191.93,456.20 L192.13,456.38 L192.33,456.56 L192.53,456.73 L192.73,456.89 L192.93,457.04 L193.13,457.17 L193.33,457.30 L193.53,457.40 L193.73,457.50 L193.93,457.58 L194.13,457.64 L194.33,457.69 L194.53,457.72 L194.73,457.74 L194.93,457.74 L195.13,457.72 L195.33,457.69 L195.53,457.64 L195.73,457.58 L195.93,457.50 L196.13,457.41 L196.33,457.30 L196.53,457.18 L196.73,457.05 L196.93,456.90 L197.13,456.74 L197.33,456.58 L197.53,456.40 L197.73,456.22 L197.93,456.03 L198.13,455.83 L198.33,455.62 L198.53,455.42 L198.73,455.21 L198.92,455.00 L199.12,454.79 L199.32,454.58 L199.52,454.38 L199.72,454.17 L199.92,453.97 L200.12,453.78 L200.32,453.60 L200.52,453.42 L200.72,453.26 L200.92,453.10 L201.12,452.95 L201.32,452.82 L201.52,452.70 L201.72,452.59 L201.92,452.50 L202.12,452.42 L202.32,452.36 L202.52,452.31 L202.72,452.28 L202.92,452.26 L203.12,452.26 L203.32,452.28 L203.52,452.31 L203.72,452.36 L203.92,452.42 L204.12,452.50 L204.32,452.60 L204.52,452.70 L204.72,452.83 L204.92,452.96 L205.12,453.11 L205.32,453.27 L205.52,453.44 L205.72,453.62 L205.92,453.80 L206.12,454.00 L206.32,454.20 L206.52,454.41 L206.72,454.62 L206.92,454.83 L207.12,455.05 L207.32,455.26 L207.52,455.48 L207.72,455.69 L207.92,455.90 L208.12,456.10 L208.32,456.30 L208.52,456.49 L208.72,456.68 L208.92,456.85 L209.12,457.02 L209.32,457.17 L209.52,457.32 L209.72,457.45 L209.92,457.57 L210.12,457.67 L210.32,457.76 L210.52,457.83 L210.72,457.89 L210.92,457.93 L211.12,457.96 L211.32,457.97 L211.52,457.97 L211.72,457.95 L211.92,457.91 L212.12,457.86 L212.32,457.79 L212.52,457.71 L212.72,457.62 L212.92,457.51 L213.12,457.38 L213.32,457.25 L213.52,457.10 L213.72,456.95 L213.92,456.78 L214.12,456.61 L214.32,456.42 L214.52,456.24 L214.72,456.04 L214.92,455.84 L215.12,455.64 L215.32,455.44 L215.52,455.24 L215.72,455.04 L215.92,454.84 L216.12,454.64 L216.32,454.45 L216.52,454.26 L216.72,454.08 L216.92,453.91 L217.12,453.75 L217.32,453.60 L217.52,453.46 L217.72,453.33 L217.92,453.21 L218.12,453.11 L218.32,453.02 L218.52,452.95 L218.72,452.89 L218.92,452.84 L219.12,452.82 L219.32,452.81 L219.52,452.81 L219.72,452.83 L219.92,452.87 L220.12,452.93 L220.32,453.00 L220.52,453.09 L220.72,453.19 L220.92,453.31 L221.12,453.44 L221.32,453.59 L221.52,453.75 L221.72,453.92 L221.92,454.10 L222.12,454.29 L222.32,454.50 L222.52,454.71 L222.72,454.93 L222.92,455.15 L223.12,455.38 L223.32,455.62 L223.52,455.86 L223.72,456.09 L223.92,456.33 L224.12,456.57 L224.32,456.81 L224.52,457.04 L224.72,457.27 L224.92,457.50 L225.12,457.71 L225.31,457.92 L225.51,458.12 L225.71,458.31 L225.91,458.49 L226.11,458.66 L226.31,458.82 L226.51,458.96 L226.71,459.09 L226.91,459.21 L227.11,459.31 L227.31,459.40 L227.51,459.48 L227.71,459.53 L227.91,459.58 L228.11,459.61 L228.31,459.62 L228.51,459.62 L228.71,459.60 L228.91,459.57 L229.11,459.53 L229.31,459.48 L229.51,459.41 L229.71,459.33 L229.91,459.24 L230.11,459.14 L230.31,459.03 L230.51,458.91 L230.71,458.79 L230.91,458.66 L231.11,458.53 L231.31,458.39 L231.51,458.25 L231.71,458.11 L231.91,457.98 L232.11,457.84 L232.31,457.70 L232.51,457.57 L232.71,457.45 L232.91,457.33 L233.11,457.22 L233.31,457.12 L233.51,457.03 L233.71,456.95 L233.91,456.89 L234.11,456.83 L234.31,456.79 L234.51,456.77 L234.71,456.76 L234.91,456.77 L235.11,456.79 L235.31,456.83 L235.51,456.89 L235.71,456.97 L235.91,457.07 L236.11,457.18 L236.31,457.32 L236.51,457.47 L236.71,457.64 L236.91,457.83 L237.11,458.04 L237.31,458.26 L237.51,458.51 L237.71,458.77 L237.91,459.04 L238.11,459.33 L238.31,459.64 L238.51,459.95 L238.71,460.29 L238.91,460.63 L239.11,460.98 L239.31,461.34 L239.51,461.72 L239.71,462.10 L239.91,462.48 L240.11,462.87 L240.31,463.27 L240.51,463.66 L240.71,464.06 L240.91,464.46 L241.11,464.86 L241.31,465.26 L241.51,465.65 L241.71,466.04 L241.91,466.43 L242.11,466.81 L242.31,467.18 L242.51,467.54 L242.71,467.90 L242.91,468.25 L243.11,468.59 L243.31,468.92 L243.51,469.23 L243.71,469.54 L243.91,469.84 L244.11,470.12 L244.31,470.39 L244.51,470.66 L244.71,470.91 L244.91,471.15 L245.11,471.38 L245.31,471.59 L245.51,471.80 L245.71,472.00 L245.91,472.19 L246.11,472.37 L246.31,472.55 L246.51,472.72 L246.71,472.88 L246.91,473.04 L247.11,473.20 L247.31,473.35 L247.51,473.50 L247.71,473.66 L247.91,473.81 L248.11,473.96 L248.31,474.12 L248.51,474.29 L248.71,474.46 L248.91,474.64 L249.11,474.82 L249.31,475.02 L249.51,475.22 L249.71,475.44 L249.91,475.67 L250.11,475.92 L250.31,476.18 L250.51,476.46 L250.71,476.75 L250.91,477.06 L251.11,477.39 L251.31,477.74 L251.51,478.11 L251.70,478.50 L251.90,478.90 L252.10,479.33 L252.30,479.78 L252.50,480.25 L252.70,480.74 L252.90,481.26 L253.10,481.79 L253.30,482.34 L253.50,482.91 L253.70,483.50 L253.90,484.11 L254.10,484.73 L254.30,485.38 L254.50,486.04 L254.70,486.71 L254.90,487.40 L255.10,488.09 L255.30,488.81 L255.50,489.53 L255.70,490.26 L255.90,490.99 L256.10,491.74 L256.30,492.48 L256.50,493.23 L256.70,493.98 L256.90,494.73 L257.10,495.48 L257.30,496.23 L257.50,496.97 L257.70,497.71 L257.90,498.43 L258.10,499.15 L258.30,499.85 L258.50,500.55 L258.70,501.23 L258.90,501.89 L259.10,502.54 L259.30,503.16 L259.50,503.77 L259.70,504.36 L259.90,504.93 L260.10,505.48 L260.30,506.00 L260.50,506.50 L260.70,506.97 L260.90,507.42 L261.10,507.84 L261.30,508.24 L261.50,508.60 L261.70,508.94 L261.90,509.25 L262.10,509.54 L262.30,509.79 L262.50,510.02 L262.70,510.22 L262.90,510.39 L263.10,510.53 L263.30,510.65 L263.50,510.73 L263.70,510.79 L263.90,510.83 L264.10,510.83 L264.30,510.81 L264.50,510.77 L264.70,510.70 L264.90,510.61 L265.10,510.49 L265.30,510.35 L265.50,510.18 L265.70,510.00 L265.90,509.79 L266.10,509.57 L266.30,509.32 L266.50,509.05 L266.70,508.77 L266.90,508.47 L267.10,508.15 L267.30,507.81 L267.50,507.46 L267.70,507.10 L267.90,506.72 L268.10,506.33 L268.30,505.92 L268.50,505.51 L268.70,505.08 L268.90,504.64 L269.10,504.19 L269.30,503.73 L269.50,503.26 L269.70,502.79 L269.90,502.30 L270.10,501.81 L270.30,501.31 L270.50,500.81 L270.70,500.30 L270.90,499.78 L271.10,499.27 L271.30,498.74 L271.50,498.22 L271.70,497.69 L271.90,497.16 L272.10,496.62 L272.30,496.09 L272.50,495.55 L272.70,495.01 L272.90,494.47 L273.10,493.93 L273.30,493.39 L273.50,492.85 L273.70,492.31 L273.90,491.78 L274.10,491.24 L274.30,490.71 L274.50,490.17 L274.70,489.64 L274.90,489.12 L275.10,488.59 L275.30,488.07 L275.50,487.55 L275.70,487.03 L275.90,486.52 L276.10,486.01 L276.30,485.50 L276.50,485.00 L276.70,484.50 L276.90,484.01 L277.10,483.52 L277.30,483.04 L277.50,482.56 L277.70,482.08 L277.90,481.61 L278.09,481.14 L278.29,480.68 L278.49,480.23 L278.69,479.78 L278.89,479.33 L279.09,478.89 L279.29,478.45 L279.49,478.02 L279.69,477.60 L279.89,477.18 L280.09,476.76 L280.29,476.36 L280.49,475.95 L280.69,475.55 L280.89,475.16 L281.09,474.78 L281.29,474.39 L281.49,474.02 L281.69,473.65 L281.89,473.28 L282.09,472.92 L282.29,472.57 L282.49,472.22 L282.69,471.87 L282.89,471.54 L283.09,471.20 L283.29,470.88 L283.49,470.55 L283.69,470.24 L283.89,469.92 L284.09,469.62 L284.29,469.32 L284.49,469.02 L284.69,468.73 L284.89,468.44 L285.09,468.16 L285.29,467.88 L285.49,467.61 L285.69,467.34 L285.89,467.08 L286.09,466.82 L286.29,466.57 L286.49,466.32 L286.69,466.08 L286.89,465.84 L287.09,465.60 L287.29,465.37 L287.49,465.15 L287.69,464.92 L287.89,464.71 L288.09,464.49 L288.29,464.28 L288.49,464.08 L288.69,463.88 L288.89,463.68 L289.09,463.48 L289.29,463.29 L289.49,463.11 L289.69,462.92 L289.89,462.75 L290.09,462.57 L290.29,462.40 L290.49,462.23 L290.69,462.07 L290.89,461.90 L291.09,461.75 L291.29,461.59 L291.49,461.44 L291.69,461.29 L291.89,461.14 L292.09,461.00 L292.29,460.86 L292.49,460.73 L292.69,460.59 L292.89,460.46 L293.09,460.33 L293.29,460.21 L293.49,460.09 L293.69,459.97 L293.89,459.85 L294.09,459.73 L294.29,459.62 L294.49,459.51 L294.69,459.40 L294.89,459.30 L295.09,459.20 L295.29,459.10 L295.49,459.00 L295.69,458.90 L295.89,458.81 L296.09,458.72 L296.29,458.63 L296.49,458.54 L296.69,458.45 L296.89,458.37 L297.09,458.29 L297.29,458.21 L297.49,458.13 L297.69,458.05 L297.89,457.98 L298.09,457.90 L298.29,457.83 L298.49,457.76 L298.69,457.69 L298.89,457.63 L299.09,457.56 L299.29,457.50 L299.49,457.44 L299.69,457.38 L299.89,457.32 L300.09,457.26 L300.29,457.20 L300.49,457.15 L300.69,457.09 L300.89,457.04 L301.09,456.99 L301.29,456.94 L301.49,456.89 L301.69,456.84 L301.89,456.80 L302.09,456.75 L302.29,456.71 L302.49,456.66 L302.69,456.62 L302.89,456.58 L303.09,456.54 L303.29,456.50 L303.49,456.46 L303.69,456.43 L303.89,456.39 L304.09,456.35 L304.29,456.32 L304.48,456.29 L304.68,456.25 L304.88,456.22 L305.08,456.19 L305.28,456.16 L305.48,456.13 L305.68,456.10 L305.88,456.07 L306.08,456.04 L306.28,456.02 L306.48,455.99 L306.68,455.96 L306.88,455.94 L307.08,455.91 L307.28,455.89 L307.48,455.87 L307.68,455.84 L307.88,455.82 L308.08,455.80 L308.28,455.78 L308.48,455.76 L308.68,455.74 L308.88,455.72 L309.08,455.70 L309.28,455.68 L309.48,455.66 L309.68,455.65 L309.88,455.63 L310.08,455.61 L310.28,455.60 L310.48,455.58 L310.68,455.57 L310.88,455.55 L311.08,455.54 L311.28,455.52 L311.48,455.51 L311.68,455.49 L311.88,455.48 L312.08,455.47 L312.28,455.46 L312.48,455.44 L312.68,455.43 L312.88,455.42 L313.08,455.41 L313.28,455.40 L313.48,455.39 L313.68,455.38 L313.88,455.37 L314.08,455.36 L314.28,455.35 L314.48,455.34 L314.68,455.33 L314.88,455.32 L315.08,455.31 L315.28,455.30 L315.48,455.30 L315.68,455.29 L315.88,455.28 L316.08,455.27 L316.28,455.26 L316.48,455.26 L316.68,455.25 L316.88,455.24 L317.08,455.24 L317.28,455.23 L317.48,455.22 L317.68,455.22 L317.88,455.21 L318.08,455.21 L318.28,455.20 L318.48,455.20 L318.68,455.19 L318.88,455.18 L319.08,455.18 L319.28,455.17 L319.48,455.17 L319.68,455.17 L319.88,455.16 L320.08,455.16 L320.28,455.15 L320.48,455.15 L320.68,455.14 L320.88,455.14 L321.08,455.14 L321.28,455.13 L321.48,455.13 L321.68,455.13 L321.88,455.12 L322.08,455.12 L322.28,455.11 L322.48,455.11 L322.68,455.11 L322.88,455.11 L323.08,455.10 L323.28,455.10 L323.48,455.10 L323.68,455.09 L323.88,455.09 L324.08,455.09 L324.28,455.09 L324.48,455.08 L324.68,455.08 L324.88,455.08 L325.08,455.08 L325.28,455.08 L325.48,455.07 L325.68,455.07 L325.88,455.07 L326.08,455.07 L326.28,455.07 L326.48,455.06 L326.68,455.06 L326.88,455.06 L327.08,455.06 L327.28,455.06 L327.48,455.06 L327.68,455.05 L327.88,455.05 L328.08,455.05 L328.28,455.05 L328.48,455.05 L328.68,455.05 L328.88,455.05 L329.08,455.04 L329.28,455.04 L329.48,455.04 L329.68,455.04 L329.88,455.04 L330.08,455.04 L330.28,455.04 L330.48,455.04 L330.68,455.03 L330.88,455.03"/>
<path class="ax" d="M66.90,391.00 L66.90,522.00 L327.50,522.00"/>
<path fill="#000" d="M66.90,387.80 L69.80,392.70 L66.90,391.60 L64.00,392.70 Z"/>
<path fill="#000" d="M330.70,522.00 L325.80,519.10 L326.90,522.00 L325.80,524.90 Z"/>
<circle cx="69.4" cy="377.80" r="1.15" fill="#000"/>
<text x="73.2" y="382.40" transform="rotate(0.03 73.2 382.40)" font-size="17.4" textLength="16.3" lengthAdjust="spacingAndGlyphs">10</text>
<line class="mn" x1="90.9" y1="373.20" x2="98.3" y2="373.20"/>
<text x="99.6" y="375.90" transform="rotate(0.03 99.6 375.90)" font-size="12.3">2</text>
</g>
<g>
<line class="tk" x1="441.55" y1="519.00" x2="441.55" y2="525.00"/>
<line class="gd" x1="441.55" y1="388.00" x2="441.55" y2="522.00" stroke-dashoffset="0.50"/>
<line class="tk" x1="573.45" y1="519.00" x2="573.45" y2="525.00"/>
<line class="gd" x1="573.45" y1="388.00" x2="573.45" y2="522.00" stroke-dashoffset="0.50"/>
<line class="tk" x1="372.50" y1="514.14" x2="378.50" y2="514.14"/>
<text x="366.20" y="519.59" transform="rotate(0.03 366.20 519.59)" font-size="18.2" text-anchor="end" textLength="8.3" lengthAdjust="spacingAndGlyphs">2</text>
<line class="mn" x1="345.60" y1="514.59" x2="355.90" y2="514.59"/>
<line class="tk" x1="372.50" y1="455.00" x2="378.50" y2="455.00"/>
<text x="366.20" y="461.15" transform="rotate(0.03 366.20 461.15)" font-size="18.2" text-anchor="end" textLength="8.3" lengthAdjust="spacingAndGlyphs">0</text>
<line class="tk" x1="372.50" y1="395.86" x2="378.50" y2="395.86"/>
<text x="366.20" y="402.01" transform="rotate(0.03 366.20 402.01)" font-size="18.2" text-anchor="end" textLength="8.3" lengthAdjust="spacingAndGlyphs">2</text>
<path class="cr" d="M375.60,455.10 L375.80,455.10 L376.00,455.11 L376.20,455.11 L376.40,455.11 L376.60,455.11 L376.80,455.12 L377.00,455.12 L377.20,455.12 L377.40,455.13 L377.60,455.13 L377.80,455.13 L378.00,455.14 L378.20,455.14 L378.40,455.15 L378.60,455.15 L378.80,455.15 L379.00,455.16 L379.20,455.16 L379.40,455.17 L379.60,455.17 L379.80,455.18 L380.00,455.18 L380.20,455.19 L380.40,455.19 L380.60,455.20 L380.80,455.20 L381.00,455.21 L381.20,455.21 L381.40,455.22 L381.60,455.23 L381.80,455.23 L382.00,455.24 L382.19,455.24 L382.39,455.25 L382.59,455.26 L382.79,455.27 L382.99,455.27 L383.19,455.28 L383.39,455.29 L383.59,455.30 L383.79,455.30 L383.99,455.31 L384.19,455.32 L384.39,455.33 L384.59,455.34 L384.79,455.35 L384.99,455.36 L385.19,455.37 L385.39,455.38 L385.59,455.39 L385.79,455.40 L385.99,455.41 L386.19,455.42 L386.39,455.43 L386.59,455.44 L386.79,455.45 L386.99,455.46 L387.19,455.48 L387.39,455.49 L387.59,455.50 L387.79,455.52 L387.99,455.53 L388.19,455.54 L388.39,455.56 L388.59,455.57 L388.79,455.59 L388.99,455.60 L389.19,455.62 L389.39,455.63 L389.59,455.65 L389.79,455.67 L389.99,455.69 L390.19,455.70 L390.39,455.72 L390.59,455.74 L390.79,455.76 L390.99,455.78 L391.19,455.80 L391.39,455.82 L391.59,455.84 L391.79,455.86 L391.99,455.89 L392.19,455.91 L392.39,455.93 L392.59,455.96 L392.79,455.98 L392.99,456.01 L393.19,456.03 L393.39,456.06 L393.59,456.09 L393.79,456.11 L393.99,456.14 L394.19,456.17 L394.39,456.20 L394.59,456.23 L394.79,456.26 L394.99,456.29 L395.19,456.33 L395.38,456.36 L395.58,456.40 L395.78,456.43 L395.98,456.47 L396.18,456.50 L396.38,456.54 L396.58,456.58 L396.78,456.62 L396.98,456.66 L397.18,456.70 L397.38,456.74 L397.58,456.78 L397.78,456.83 L397.98,456.87 L398.18,456.92 L398.38,456.97 L398.58,457.01 L398.78,457.06 L398.98,457.11 L399.18,457.17 L399.38,457.22 L399.58,457.27 L399.78,457.33 L399.98,457.38 L400.18,457.44 L400.38,457.50 L400.58,457.56 L400.78,457.62 L400.98,457.68 L401.18,457.75 L401.38,457.81 L401.58,457.88 L401.78,457.94 L401.98,458.01 L402.18,458.08 L402.38,458.16 L402.58,458.23 L402.78,458.31 L402.98,458.38 L403.18,458.46 L403.38,458.54 L403.58,458.62 L403.78,458.71 L403.98,458.79 L404.18,458.88 L404.38,458.97 L404.58,459.06 L404.78,459.15 L404.98,459.24 L405.18,459.34 L405.38,459.44 L405.58,459.54 L405.78,459.64 L405.98,459.74 L406.18,459.84 L406.38,459.95 L406.58,460.06 L406.78,460.17 L406.98,460.29 L407.18,460.40 L407.38,460.52 L407.58,460.64 L407.78,460.76 L407.98,460.88 L408.18,461.01 L408.38,461.14 L408.57,461.27 L408.77,461.40 L408.97,461.53 L409.17,461.67 L409.37,461.81 L409.57,461.95 L409.77,462.09 L409.97,462.24 L410.17,462.39 L410.37,462.54 L410.57,462.69 L410.77,462.85 L410.97,463.00 L411.17,463.16 L411.37,463.33 L411.57,463.49 L411.77,463.66 L411.97,463.83 L412.17,464.00 L412.37,464.17 L412.57,464.35 L412.77,464.53 L412.97,464.71 L413.17,464.89 L413.37,465.08 L413.57,465.27 L413.77,465.45 L413.97,465.65 L414.17,465.84 L414.37,466.04 L414.57,466.24 L414.77,466.44 L414.97,466.64 L415.17,466.84 L415.37,467.05 L415.57,467.26 L415.77,467.47 L415.97,467.68 L416.17,467.89 L416.37,468.11 L416.57,468.32 L416.77,468.54 L416.97,468.76 L417.17,468.98 L417.37,469.20 L417.57,469.42 L417.77,469.64 L417.97,469.87 L418.17,470.09 L418.37,470.32 L418.57,470.54 L418.77,470.77 L418.97,470.99 L419.17,471.22 L419.37,471.45 L419.57,471.67 L419.77,471.89 L419.97,472.12 L420.17,472.34 L420.37,472.56 L420.57,472.78 L420.77,473.00 L420.97,473.22 L421.17,473.43 L421.37,473.64 L421.57,473.85 L421.76,474.06 L421.96,474.26 L422.16,474.46 L422.36,474.66 L422.56,474.85 L422.76,475.04 L422.96,475.22 L423.16,475.40 L423.36,475.57 L423.56,475.73 L423.76,475.89 L423.96,476.05 L424.16,476.19 L424.36,476.33 L424.56,476.46 L424.76,476.59 L424.96,476.70 L425.16,476.80 L425.36,476.90 L425.56,476.98 L425.76,477.06 L425.96,477.12 L426.16,477.17 L426.36,477.21 L426.56,477.24 L426.76,477.25 L426.96,477.25 L427.16,477.23 L427.36,477.20 L427.56,477.15 L427.76,477.09 L427.96,477.01 L428.16,476.91 L428.36,476.80 L428.56,476.66 L428.76,476.51 L428.96,476.34 L429.16,476.14 L429.36,475.93 L429.56,475.69 L429.76,475.43 L429.96,475.14 L430.16,474.84 L430.36,474.50 L430.56,474.15 L430.76,473.76 L430.96,473.35 L431.16,472.92 L431.36,472.46 L431.56,471.96 L431.76,471.44 L431.96,470.90 L432.16,470.32 L432.36,469.71 L432.56,469.07 L432.76,468.41 L432.96,467.71 L433.16,466.98 L433.36,466.22 L433.56,465.42 L433.76,464.60 L433.96,463.75 L434.16,462.86 L434.36,461.94 L434.56,461.00 L434.76,460.02 L434.95,459.01 L435.15,457.98 L435.35,456.92 L435.55,455.83 L435.75,454.71 L435.95,453.57 L436.15,452.41 L436.35,451.22 L436.55,450.02 L436.75,448.79 L436.95,447.56 L437.15,446.31 L437.35,445.05 L437.55,443.78 L437.75,442.51 L437.95,441.24 L438.15,439.98 L438.35,438.72 L438.55,437.48 L438.75,436.26 L438.95,435.06 L439.15,433.90 L439.35,432.77 L439.55,431.69 L439.75,430.66 L439.95,429.70 L440.15,428.80 L440.35,427.98 L440.55,427.26 L440.75,426.64 L440.95,426.13 L441.15,425.75 L441.35,425.51 L441.55,425.43 L441.75,425.52 L441.95,425.77 L442.15,426.20 L442.35,426.79 L442.55,427.55 L442.75,428.46 L442.95,429.53 L443.15,430.75 L443.35,432.11 L443.55,433.60 L443.75,435.21 L443.95,436.94 L444.15,438.78 L444.35,440.71 L444.55,442.72 L444.75,444.80 L444.95,446.94 L445.15,449.13 L445.35,451.35 L445.55,453.59 L445.75,455.84 L445.95,458.09 L446.15,460.32 L446.35,462.52 L446.55,464.67 L446.75,466.77 L446.95,468.80 L447.15,470.75 L447.35,472.61 L447.55,474.36 L447.75,476.01 L447.95,477.53 L448.14,478.92 L448.34,480.18 L448.54,481.28 L448.74,482.24 L448.94,483.03 L449.14,483.67 L449.34,484.14 L449.54,484.44 L449.74,484.57 L449.94,484.52 L450.14,484.31 L450.34,483.92 L450.54,483.37 L450.74,482.66 L450.94,481.78 L451.14,480.75 L451.34,479.57 L451.54,478.24 L451.74,476.79 L451.94,475.20 L452.14,473.50 L452.34,471.69 L452.54,469.79 L452.74,467.79 L452.94,465.73 L453.14,463.60 L453.34,461.42 L453.54,459.21 L453.74,456.97 L453.94,454.72 L454.14,452.47 L454.34,450.24 L454.54,448.03 L454.74,445.86 L454.94,443.75 L455.14,441.70 L455.34,439.73 L455.54,437.85 L455.74,436.06 L455.94,434.39 L456.14,432.84 L456.34,431.41 L456.54,430.12 L456.74,428.98 L456.94,427.99 L457.14,427.15 L457.34,426.47 L457.54,425.96 L457.74,425.62 L457.94,425.45 L458.14,425.45 L458.34,425.62 L458.54,425.96 L458.74,426.47 L458.94,427.15 L459.14,427.99 L459.34,428.98 L459.54,430.12 L459.74,431.41 L459.94,432.84 L460.14,434.39 L460.34,436.06 L460.54,437.85 L460.74,439.73 L460.94,441.70 L461.14,443.75 L461.34,445.86 L461.53,448.03 L461.73,450.24 L461.93,452.47 L462.13,454.72 L462.33,456.97 L462.53,459.21 L462.73,461.42 L462.93,463.60 L463.13,465.73 L463.33,467.79 L463.53,469.79 L463.73,471.69 L463.93,473.50 L464.13,475.20 L464.33,476.79 L464.53,478.24 L464.73,479.57 L464.93,480.75 L465.13,481.78 L465.33,482.66 L465.53,483.37 L465.73,483.92 L465.93,484.31 L466.13,484.52 L466.33,484.57 L466.53,484.44 L466.73,484.14 L466.93,483.67 L467.13,483.03 L467.33,482.24 L467.53,481.28 L467.73,480.18 L467.93,478.92 L468.13,477.53 L468.33,476.01 L468.53,474.36 L468.73,472.61 L468.93,470.75 L469.13,468.80 L469.33,466.77 L469.53,464.67 L469.73,462.52 L469.93,460.32 L470.13,458.09 L470.33,455.84 L470.53,453.59 L470.73,451.35 L470.93,449.13 L471.13,446.94 L471.33,444.80 L471.53,442.72 L471.73,440.71 L471.93,438.78 L472.13,436.94 L472.33,435.21 L472.53,433.60 L472.73,432.11 L472.93,430.75 L473.13,429.53 L473.33,428.46 L473.53,427.55 L473.73,426.79 L473.93,426.20 L474.13,425.77 L474.33,425.52 L474.53,425.43 L474.72,425.52 L474.92,425.77 L475.12,426.20 L475.32,426.79 L475.52,427.55 L475.72,428.46 L475.92,429.53 L476.12,430.75 L476.32,432.11 L476.52,433.60 L476.72,435.21 L476.92,436.94 L477.12,438.78 L477.32,440.71 L477.52,442.72 L477.72,444.80 L477.92,446.94 L478.12,449.13 L478.32,451.35 L478.52,453.59 L478.72,455.84 L478.92,458.09 L479.12,460.32 L479.32,462.52 L479.52,464.67 L479.72,466.77 L479.92,468.80 L480.12,470.75 L480.32,472.61 L480.52,474.36 L480.72,476.01 L480.92,477.53 L481.12,478.92 L481.32,480.18 L481.52,481.28 L481.72,482.24 L481.92,483.03 L482.12,483.67 L482.32,484.14 L482.52,484.44 L482.72,484.57 L482.92,484.52 L483.12,484.31 L483.32,483.92 L483.52,483.37 L483.72,482.66 L483.92,481.78 L484.12,480.75 L484.32,479.57 L484.52,478.24 L484.72,476.79 L484.92,475.20 L485.12,473.50 L485.32,471.69 L485.52,469.79 L485.72,467.79 L485.92,465.73 L486.12,463.60 L486.32,461.42 L486.52,459.21 L486.72,456.97 L486.92,454.72 L487.12,452.47 L487.32,450.24 L487.52,448.03 L487.72,445.86 L487.91,443.75 L488.11,441.70 L488.31,439.73 L488.51,437.85 L488.71,436.06 L488.91,434.39 L489.11,432.84 L489.31,431.41 L489.51,430.12 L489.71,428.98 L489.91,427.99 L490.11,427.15 L490.31,426.47 L490.51,425.96 L490.71,425.62 L490.91,425.45 L491.11,425.45 L491.31,425.62 L491.51,425.96 L491.71,426.47 L491.91,427.15 L492.11,427.99 L492.31,428.98 L492.51,430.12 L492.71,431.41 L492.91,432.84 L493.11,434.39 L493.31,436.06 L493.51,437.85 L493.71,439.73 L493.91,441.70 L494.11,443.75 L494.31,445.86 L494.51,448.03 L494.71,450.24 L494.91,452.47 L495.11,454.72 L495.31,456.97 L495.51,459.21 L495.71,461.42 L495.91,463.60 L496.11,465.73 L496.31,467.79 L496.51,469.79 L496.71,471.69 L496.91,473.50 L497.11,475.20 L497.31,476.79 L497.51,478.24 L497.71,479.57 L497.91,480.75 L498.11,481.78 L498.31,482.66 L498.51,483.37 L498.71,483.92 L498.91,484.31 L499.11,484.52 L499.31,484.57 L499.51,484.44 L499.71,484.14 L499.91,483.67 L500.11,483.03 L500.31,482.24 L500.51,481.28 L500.71,480.18 L500.91,478.92 L501.10,477.53 L501.30,476.01 L501.50,474.36 L501.70,472.61 L501.90,470.75 L502.10,468.80 L502.30,466.77 L502.50,464.67 L502.70,462.52 L502.90,460.32 L503.10,458.09 L503.30,455.84 L503.50,453.59 L503.70,451.35 L503.90,449.13 L504.10,446.94 L504.30,444.80 L504.50,442.72 L504.70,440.71 L504.90,438.78 L505.10,436.94 L505.30,435.21 L505.50,433.60 L505.70,432.11 L505.90,430.75 L506.10,429.53 L506.30,428.46 L506.50,427.55 L506.70,426.79 L506.90,426.20 L507.10,425.77 L507.30,425.52 L507.50,425.43 L507.70,425.52 L507.90,425.77 L508.10,426.20 L508.30,426.79 L508.50,427.55 L508.70,428.46 L508.90,429.53 L509.10,430.75 L509.30,432.11 L509.50,433.60 L509.70,435.21 L509.90,436.94 L510.10,438.78 L510.30,440.71 L510.50,442.72 L510.70,444.80 L510.90,446.94 L511.10,449.13 L511.30,451.35 L511.50,453.59 L511.70,455.84 L511.90,458.09 L512.10,460.32 L512.30,462.52 L512.50,464.67 L512.70,466.77 L512.90,468.80 L513.10,470.75 L513.30,472.61 L513.50,474.36 L513.70,476.01 L513.90,477.53 L514.10,478.92 L514.29,480.18 L514.49,481.28 L514.69,482.24 L514.89,483.03 L515.09,483.67 L515.29,484.14 L515.49,484.44 L515.69,484.57 L515.89,484.52 L516.09,484.31 L516.29,483.92 L516.49,483.37 L516.69,482.66 L516.89,481.78 L517.09,480.75 L517.29,479.57 L517.49,478.24 L517.69,476.79 L517.89,475.20 L518.09,473.50 L518.29,471.69 L518.49,469.79 L518.69,467.79 L518.89,465.73 L519.09,463.60 L519.29,461.42 L519.49,459.21 L519.69,456.97 L519.89,454.72 L520.09,452.47 L520.29,450.24 L520.49,448.03 L520.69,445.86 L520.89,443.75 L521.09,441.70 L521.29,439.73 L521.49,437.85 L521.69,436.06 L521.89,434.39 L522.09,432.84 L522.29,431.41 L522.49,430.12 L522.69,428.98 L522.89,427.99 L523.09,427.15 L523.29,426.47 L523.49,425.96 L523.69,425.62 L523.89,425.45 L524.09,425.45 L524.29,425.62 L524.49,425.96 L524.69,426.47 L524.89,427.15 L525.09,427.99 L525.29,428.98 L525.49,430.12 L525.69,431.41 L525.89,432.84 L526.09,434.39 L526.29,436.06 L526.49,437.85 L526.69,439.73 L526.89,441.70 L527.09,443.75 L527.28,445.86 L527.48,448.03 L527.68,450.24 L527.88,452.47 L528.08,454.72 L528.28,456.97 L528.48,459.21 L528.68,461.42 L528.88,463.60 L529.08,465.73 L529.28,467.79 L529.48,469.79 L529.68,471.69 L529.88,473.50 L530.08,475.20 L530.28,476.79 L530.48,478.24 L530.68,479.57 L530.88,480.75 L531.08,481.78 L531.28,482.66 L531.48,483.37 L531.68,483.92 L531.88,484.31 L532.08,484.52 L532.28,484.57 L532.48,484.44 L532.68,484.14 L532.88,483.67 L533.08,483.03 L533.28,482.24 L533.48,481.28 L533.68,480.18 L533.88,478.92 L534.08,477.53 L534.28,476.01 L534.48,474.36 L534.68,472.61 L534.88,470.75 L535.08,468.80 L535.28,466.77 L535.48,464.67 L535.68,462.52 L535.88,460.32 L536.08,458.09 L536.28,455.84 L536.48,453.59 L536.68,451.35 L536.88,449.13 L537.08,446.94 L537.28,444.80 L537.48,442.72 L537.68,440.71 L537.88,438.78 L538.08,436.94 L538.28,435.21 L538.48,433.60 L538.68,432.11 L538.88,430.75 L539.08,429.53 L539.28,428.46 L539.48,427.55 L539.68,426.79 L539.88,426.20 L540.08,425.77 L540.28,425.52 L540.48,425.43 L540.67,425.52 L540.87,425.77 L541.07,426.20 L541.27,426.79 L541.47,427.55 L541.67,428.46 L541.87,429.53 L542.07,430.75 L542.27,432.11 L542.47,433.60 L542.67,435.21 L542.87,436.94 L543.07,438.78 L543.27,440.71 L543.47,442.72 L543.67,444.80 L543.87,446.94 L544.07,449.13 L544.27,451.35 L544.47,453.59 L544.67,455.84 L544.87,458.09 L545.07,460.32 L545.27,462.52 L545.47,464.67 L545.67,466.77 L545.87,468.80 L546.07,470.75 L546.27,472.61 L546.47,474.36 L546.67,476.01 L546.87,477.53 L547.07,478.92 L547.27,480.18 L547.47,481.28 L547.67,482.24 L547.87,483.03 L548.07,483.67 L548.27,484.14 L548.47,484.44 L548.67,484.57 L548.87,484.52 L549.07,484.31 L549.27,483.92 L549.47,483.37 L549.67,482.66 L549.87,481.78 L550.07,480.75 L550.27,479.57 L550.47,478.24 L550.67,476.79 L550.87,475.20 L551.07,473.50 L551.27,471.69 L551.47,469.79 L551.67,467.79 L551.87,465.73 L552.07,463.60 L552.27,461.42 L552.47,459.21 L552.67,456.97 L552.87,454.72 L553.07,452.47 L553.27,450.24 L553.47,448.03 L553.66,445.86 L553.86,443.75 L554.06,441.70 L554.26,439.73 L554.46,437.85 L554.66,436.06 L554.86,434.39 L555.06,432.84 L555.26,431.41 L555.46,430.12 L555.66,428.98 L555.86,427.99 L556.06,427.15 L556.26,426.47 L556.46,425.96 L556.66,425.62 L556.86,425.45 L557.06,425.45 L557.26,425.62 L557.46,425.96 L557.66,426.47 L557.86,427.15 L558.06,427.99 L558.26,428.98 L558.46,430.12 L558.66,431.41 L558.86,432.84 L559.06,434.39 L559.26,436.06 L559.46,437.85 L559.66,439.73 L559.86,441.70 L560.06,443.75 L560.26,445.86 L560.46,448.03 L560.66,450.24 L560.86,452.47 L561.06,454.72 L561.26,456.97 L561.46,459.21 L561.66,461.42 L561.86,463.60 L562.06,465.73 L562.26,467.79 L562.46,469.79 L562.66,471.69 L562.86,473.50 L563.06,475.20 L563.26,476.79 L563.46,478.24 L563.66,479.57 L563.86,480.75 L564.06,481.78 L564.26,482.66 L564.46,483.37 L564.66,483.92 L564.86,484.31 L565.06,484.52 L565.26,484.57 L565.46,484.44 L565.66,484.14 L565.86,483.67 L566.06,483.03 L566.26,482.24 L566.46,481.28 L566.66,480.18 L566.86,478.92 L567.05,477.53 L567.25,476.01 L567.45,474.36 L567.65,472.61 L567.85,470.75 L568.05,468.80 L568.25,466.77 L568.45,464.67 L568.65,462.52 L568.85,460.32 L569.05,458.09 L569.25,455.84 L569.45,453.59 L569.65,451.35 L569.85,449.13 L570.05,446.94 L570.25,444.80 L570.45,442.72 L570.65,440.71 L570.85,438.78 L571.05,436.94 L571.25,435.21 L571.45,433.60 L571.65,432.11 L571.85,430.75 L572.05,429.53 L572.25,428.46 L572.45,427.55 L572.65,426.79 L572.85,426.20 L573.05,425.77 L573.25,425.52 L573.45,425.43 L573.65,425.51 L573.85,425.75 L574.05,426.13 L574.25,426.64 L574.45,427.26 L574.65,427.98 L574.85,428.80 L575.05,429.70 L575.25,430.66 L575.45,431.69 L575.65,432.77 L575.85,433.90 L576.05,435.06 L576.25,436.26 L576.45,437.48 L576.65,438.72 L576.85,439.98 L577.05,441.24 L577.25,442.51 L577.45,443.78 L577.65,445.05 L577.85,446.31 L578.05,447.56 L578.25,448.79 L578.45,450.02 L578.65,451.22 L578.85,452.41 L579.05,453.57 L579.25,454.71 L579.45,455.83 L579.65,456.92 L579.85,457.98 L580.05,459.01 L580.24,460.02 L580.44,461.00 L580.64,461.94 L580.84,462.86 L581.04,463.75 L581.24,464.60 L581.44,465.42 L581.64,466.22 L581.84,466.98 L582.04,467.71 L582.24,468.41 L582.44,469.07 L582.64,469.71 L582.84,470.32 L583.04,470.90 L583.24,471.44 L583.44,471.96 L583.64,472.46 L583.84,472.92 L584.04,473.35 L584.24,473.76 L584.44,474.15 L584.64,474.50 L584.84,474.84 L585.04,475.14 L585.24,475.43 L585.44,475.69 L585.64,475.93 L585.84,476.14 L586.04,476.34 L586.24,476.51 L586.44,476.66 L586.64,476.80 L586.84,476.91 L587.04,477.01 L587.24,477.09 L587.44,477.15 L587.64,477.20 L587.84,477.23 L588.04,477.25 L588.24,477.25 L588.44,477.24 L588.64,477.21 L588.84,477.17 L589.04,477.12 L589.24,477.06 L589.44,476.98 L589.64,476.90 L589.84,476.80 L590.04,476.70 L590.24,476.59 L590.44,476.46 L590.64,476.33 L590.84,476.19 L591.04,476.05 L591.24,475.89 L591.44,475.73 L591.64,475.57 L591.84,475.40 L592.04,475.22 L592.24,475.04 L592.44,474.85 L592.64,474.66 L592.84,474.46 L593.04,474.26 L593.24,474.06 L593.43,473.85 L593.63,473.64 L593.83,473.43 L594.03,473.22 L594.23,473.00 L594.43,472.78 L594.63,472.56 L594.83,472.34 L595.03,472.12 L595.23,471.89 L595.43,471.67 L595.63,471.45 L595.83,471.22 L596.03,470.99 L596.23,470.77 L596.43,470.54 L596.63,470.32 L596.83,470.09 L597.03,469.87 L597.23,469.64 L597.43,469.42 L597.63,469.20 L597.83,468.98 L598.03,468.76 L598.23,468.54 L598.43,468.32 L598.63,468.11 L598.83,467.89 L599.03,467.68 L599.23,467.47 L599.43,467.26 L599.63,467.05 L599.83,466.84 L600.03,466.64 L600.23,466.44 L600.43,466.24 L600.63,466.04 L600.83,465.84 L601.03,465.65 L601.23,465.45 L601.43,465.27 L601.63,465.08 L601.83,464.89 L602.03,464.71 L602.23,464.53 L602.43,464.35 L602.63,464.17 L602.83,464.00 L603.03,463.83 L603.23,463.66 L603.43,463.49 L603.63,463.33 L603.83,463.16 L604.03,463.00 L604.23,462.85 L604.43,462.69 L604.63,462.54 L604.83,462.39 L605.03,462.24 L605.23,462.09 L605.43,461.95 L605.63,461.81 L605.83,461.67 L606.03,461.53 L606.23,461.40 L606.43,461.27 L606.62,461.14 L606.82,461.01 L607.02,460.88 L607.22,460.76 L607.42,460.64 L607.62,460.52 L607.82,460.40 L608.02,460.29 L608.22,460.17 L608.42,460.06 L608.62,459.95 L608.82,459.84 L609.02,459.74 L609.22,459.64 L609.42,459.54 L609.62,459.44 L609.82,459.34 L610.02,459.24 L610.22,459.15 L610.42,459.06 L610.62,458.97 L610.82,458.88 L611.02,458.79 L611.22,458.71 L611.42,458.62 L611.62,458.54 L611.82,458.46 L612.02,458.38 L612.22,458.31 L612.42,458.23 L612.62,458.16 L612.82,458.08 L613.02,458.01 L613.22,457.94 L613.42,457.88 L613.62,457.81 L613.82,457.75 L614.02,457.68 L614.22,457.62 L614.42,457.56 L614.62,457.50 L614.82,457.44 L615.02,457.38 L615.22,457.33 L615.42,457.27 L615.62,457.22 L615.82,457.17 L616.02,457.11 L616.22,457.06 L616.42,457.01 L616.62,456.97 L616.82,456.92 L617.02,456.87 L617.22,456.83 L617.42,456.78 L617.62,456.74 L617.82,456.70 L618.02,456.66 L618.22,456.62 L618.42,456.58 L618.62,456.54 L618.82,456.50 L619.02,456.47 L619.22,456.43 L619.42,456.40 L619.62,456.36 L619.81,456.33 L620.01,456.29 L620.21,456.26 L620.41,456.23 L620.61,456.20 L620.81,456.17 L621.01,456.14 L621.21,456.11 L621.41,456.09 L621.61,456.06 L621.81,456.03 L622.01,456.01 L622.21,455.98 L622.41,455.96 L622.61,455.93 L622.81,455.91 L623.01,455.89 L623.21,455.86 L623.41,455.84 L623.61,455.82 L623.81,455.80 L624.01,455.78 L624.21,455.76 L624.41,455.74 L624.61,455.72 L624.81,455.70 L625.01,455.69 L625.21,455.67 L625.41,455.65 L625.61,455.63 L625.81,455.62 L626.01,455.60 L626.21,455.59 L626.41,455.57 L626.61,455.56 L626.81,455.54 L627.01,455.53 L627.21,455.52 L627.41,455.50 L627.61,455.49 L627.81,455.48 L628.01,455.46 L628.21,455.45 L628.41,455.44 L628.61,455.43 L628.81,455.42 L629.01,455.41 L629.21,455.40 L629.41,455.39 L629.61,455.38 L629.81,455.37 L630.01,455.36 L630.21,455.35 L630.41,455.34 L630.61,455.33 L630.81,455.32 L631.01,455.31 L631.21,455.30 L631.41,455.30 L631.61,455.29 L631.81,455.28 L632.01,455.27 L632.21,455.27 L632.41,455.26 L632.61,455.25 L632.81,455.24 L633.00,455.24 L633.20,455.23 L633.40,455.23 L633.60,455.22 L633.80,455.21 L634.00,455.21 L634.20,455.20 L634.40,455.20 L634.60,455.19 L634.80,455.19 L635.00,455.18 L635.20,455.18 L635.40,455.17 L635.60,455.17 L635.80,455.16 L636.00,455.16 L636.20,455.15 L636.40,455.15 L636.60,455.15 L636.80,455.14 L637.00,455.14 L637.20,455.13 L637.40,455.13 L637.60,455.13 L637.80,455.12 L638.00,455.12 L638.20,455.12 L638.40,455.11 L638.60,455.11 L638.80,455.11 L639.00,455.11 L639.20,455.10 L639.40,455.10"/>
<path class="cb" d="M375.60,455.13 L375.80,455.13 L376.00,455.13 L376.20,455.14 L376.40,455.14 L376.60,455.15 L376.80,455.15 L377.00,455.15 L377.20,455.16 L377.40,455.16 L377.60,455.17 L377.80,455.17 L378.00,455.18 L378.20,455.18 L378.40,455.19 L378.60,455.19 L378.80,455.20 L379.00,455.20 L379.20,455.21 L379.40,455.21 L379.60,455.22 L379.80,455.23 L380.00,455.23 L380.20,455.24 L380.40,455.25 L380.60,455.25 L380.80,455.26 L381.00,455.27 L381.20,455.28 L381.40,455.28 L381.60,455.29 L381.80,455.30 L382.00,455.31 L382.19,455.32 L382.39,455.32 L382.59,455.33 L382.79,455.34 L382.99,455.35 L383.19,455.36 L383.39,455.37 L383.59,455.38 L383.79,455.39 L383.99,455.40 L384.19,455.41 L384.39,455.43 L384.59,455.44 L384.79,455.45 L384.99,455.46 L385.19,455.48 L385.39,455.49 L385.59,455.50 L385.79,455.52 L385.99,455.53 L386.19,455.54 L386.39,455.56 L386.59,455.57 L386.79,455.59 L386.99,455.61 L387.19,455.62 L387.39,455.64 L387.59,455.66 L387.79,455.67 L387.99,455.69 L388.19,455.71 L388.39,455.73 L388.59,455.75 L388.79,455.77 L388.99,455.79 L389.19,455.81 L389.39,455.84 L389.59,455.86 L389.79,455.88 L389.99,455.90 L390.19,455.93 L390.39,455.95 L390.59,455.98 L390.79,456.01 L390.99,456.03 L391.19,456.06 L391.39,456.09 L391.59,456.12 L391.79,456.15 L391.99,456.18 L392.19,456.21 L392.39,456.24 L392.59,456.27 L392.79,456.31 L392.99,456.34 L393.19,456.38 L393.39,456.41 L393.59,456.45 L393.79,456.49 L393.99,456.53 L394.19,456.57 L394.39,456.61 L394.59,456.65 L394.79,456.70 L394.99,456.74 L395.19,456.79 L395.38,456.83 L395.58,456.88 L395.78,456.93 L395.98,456.98 L396.18,457.03 L396.38,457.08 L396.58,457.14 L396.78,457.19 L396.98,457.25 L397.18,457.31 L397.38,457.37 L397.58,457.43 L397.78,457.49 L397.98,457.55 L398.18,457.62 L398.38,457.68 L398.58,457.75 L398.78,457.82 L398.98,457.89 L399.18,457.97 L399.38,458.04 L399.58,458.12 L399.78,458.20 L399.98,458.28 L400.18,458.36 L400.38,458.45 L400.58,458.53 L400.78,458.62 L400.98,458.71 L401.18,458.80 L401.38,458.90 L401.58,459.00 L401.78,459.09 L401.98,459.20 L402.18,459.30 L402.38,459.41 L402.58,459.51 L402.78,459.63 L402.98,459.74 L403.18,459.85 L403.38,459.97 L403.58,460.09 L403.78,460.22 L403.98,460.35 L404.18,460.47 L404.38,460.61 L404.58,460.74 L404.78,460.88 L404.98,461.02 L405.18,461.17 L405.38,461.31 L405.58,461.46 L405.78,461.62 L405.98,461.78 L406.18,461.94 L406.38,462.10 L406.58,462.27 L406.78,462.44 L406.98,462.61 L407.18,462.79 L407.38,462.97 L407.58,463.16 L407.78,463.35 L407.98,463.54 L408.18,463.74 L408.38,463.94 L408.57,464.14 L408.77,464.35 L408.97,464.57 L409.17,464.79 L409.37,465.01 L409.57,465.23 L409.77,465.47 L409.97,465.70 L410.17,465.94 L410.37,466.19 L410.57,466.44 L410.77,466.69 L410.97,466.95 L411.17,467.21 L411.37,467.48 L411.57,467.75 L411.77,468.03 L411.97,468.32 L412.17,468.60 L412.37,468.90 L412.57,469.20 L412.77,469.50 L412.97,469.81 L413.17,470.13 L413.37,470.45 L413.57,470.77 L413.77,471.10 L413.97,471.44 L414.17,471.78 L414.37,472.13 L414.57,472.49 L414.77,472.85 L414.97,473.21 L415.17,473.58 L415.37,473.96 L415.57,474.34 L415.77,474.73 L415.97,475.12 L416.17,475.52 L416.37,475.93 L416.57,476.34 L416.77,476.76 L416.97,477.18 L417.17,477.61 L417.37,478.04 L417.57,478.48 L417.77,478.93 L417.97,479.38 L418.17,479.84 L418.37,480.30 L418.57,480.77 L418.77,481.24 L418.97,481.72 L419.17,482.20 L419.37,482.69 L419.57,483.19 L419.77,483.68 L419.97,484.19 L420.17,484.70 L420.37,485.21 L420.57,485.73 L420.77,486.25 L420.97,486.78 L421.17,487.31 L421.37,487.84 L421.57,488.38 L421.76,488.92 L421.96,489.46 L422.16,490.01 L422.36,490.56 L422.56,491.11 L422.76,491.67 L422.96,492.22 L423.16,492.78 L423.36,493.34 L423.56,493.90 L423.76,494.46 L423.96,495.02 L424.16,495.58 L424.36,496.14 L424.56,496.70 L424.76,497.26 L424.96,497.81 L425.16,498.37 L425.36,498.92 L425.56,499.46 L425.76,500.00 L425.96,500.54 L426.16,501.08 L426.36,501.60 L426.56,502.12 L426.76,502.64 L426.96,503.14 L427.16,503.64 L427.36,504.13 L427.56,504.61 L427.76,505.08 L427.96,505.53 L428.16,505.98 L428.36,506.41 L428.56,506.83 L428.76,507.23 L428.96,507.62 L429.16,507.99 L429.36,508.34 L429.56,508.67 L429.76,508.99 L429.96,509.28 L430.16,509.55 L430.36,509.80 L430.56,510.03 L430.76,510.23 L430.96,510.40 L431.16,510.55 L431.36,510.66 L431.56,510.75 L431.76,510.81 L431.96,510.83 L432.16,510.82 L432.36,510.78 L432.56,510.70 L432.76,510.58 L432.96,510.43 L433.16,510.23 L433.36,510.00 L433.56,509.72 L433.76,509.39 L433.96,509.02 L434.16,508.61 L434.36,508.15 L434.56,507.64 L434.76,507.07 L434.95,506.46 L435.15,505.79 L435.35,505.08 L435.55,504.30 L435.75,503.47 L435.95,502.59 L436.15,501.64 L436.35,500.64 L436.55,499.58 L436.75,498.46 L436.95,497.28 L437.15,496.04 L437.35,494.74 L437.55,493.37 L437.75,491.95 L437.95,490.46 L438.15,488.92 L438.35,487.31 L438.55,485.65 L438.75,483.93 L438.95,482.15 L439.15,480.31 L439.35,478.43 L439.55,476.49 L439.75,474.50 L439.95,472.46 L440.15,470.39 L440.35,468.27 L440.55,466.12 L440.75,463.93 L440.95,461.72 L441.15,459.49 L441.35,457.25 L441.55,455.00 L441.75,452.75 L441.95,450.51 L442.15,448.30 L442.35,446.13 L442.55,444.01 L442.75,441.95 L442.95,439.97 L443.15,438.08 L443.35,436.28 L443.55,434.59 L443.75,433.02 L443.95,431.58 L444.15,430.28 L444.35,429.11 L444.55,428.10 L444.75,427.25 L444.95,426.55 L445.15,426.02 L445.35,425.66 L445.55,425.46 L445.75,425.44 L445.95,425.59 L446.15,425.91 L446.35,426.40 L446.55,427.06 L446.75,427.87 L446.95,428.85 L447.15,429.97 L447.35,431.24 L447.55,432.65 L447.75,434.19 L447.95,435.85 L448.14,437.62 L448.34,439.49 L448.54,441.45 L448.74,443.49 L448.94,445.59 L449.14,447.76 L449.34,449.96 L449.54,452.19 L449.74,454.44 L449.94,456.69 L450.14,458.93 L450.34,461.15 L450.54,463.33 L450.74,465.47 L450.94,467.54 L451.14,469.54 L451.34,471.46 L451.54,473.28 L451.74,474.99 L451.94,476.59 L452.14,478.07 L452.34,479.41 L452.54,480.61 L452.74,481.66 L452.94,482.56 L453.14,483.29 L453.34,483.86 L453.54,484.27 L453.74,484.50 L453.94,484.57 L454.14,484.46 L454.34,484.18 L454.54,483.74 L454.74,483.12 L454.94,482.35 L455.14,481.41 L455.34,480.32 L455.54,479.09 L455.74,477.71 L455.94,476.21 L456.14,474.58 L456.34,472.83 L456.54,470.99 L456.74,469.05 L456.94,467.03 L457.14,464.94 L457.34,462.79 L457.54,460.60 L457.74,458.37 L457.94,456.13 L458.14,453.87 L458.34,451.63 L458.54,449.40 L458.74,447.21 L458.94,445.06 L459.14,442.97 L459.34,440.95 L459.54,439.01 L459.74,437.17 L459.94,435.42 L460.14,433.79 L460.34,432.29 L460.54,430.91 L460.74,429.68 L460.94,428.59 L461.14,427.65 L461.34,426.88 L461.53,426.26 L461.73,425.82 L461.93,425.54 L462.13,425.43 L462.33,425.50 L462.53,425.73 L462.73,426.14 L462.93,426.71 L463.13,427.44 L463.33,428.34 L463.53,429.39 L463.73,430.59 L463.93,431.93 L464.13,433.41 L464.33,435.01 L464.53,436.72 L464.73,438.54 L464.93,440.46 L465.13,442.46 L465.33,444.53 L465.53,446.67 L465.73,448.85 L465.93,451.07 L466.13,453.31 L466.33,455.56 L466.53,457.81 L466.73,460.04 L466.93,462.24 L467.13,464.41 L467.33,466.51 L467.53,468.55 L467.73,470.51 L467.93,472.38 L468.13,474.15 L468.33,475.81 L468.53,477.35 L468.73,478.76 L468.93,480.03 L469.13,481.15 L469.33,482.13 L469.53,482.94 L469.73,483.60 L469.93,484.09 L470.13,484.41 L470.33,484.56 L470.53,484.54 L470.73,484.34 L470.93,483.98 L471.13,483.45 L471.33,482.75 L471.53,481.90 L471.73,480.89 L471.93,479.72 L472.13,478.42 L472.33,476.98 L472.53,475.41 L472.73,473.72 L472.93,471.92 L473.13,470.03 L473.33,468.05 L473.53,465.99 L473.73,463.87 L473.93,461.70 L474.13,459.49 L474.33,457.25 L474.53,455.00 L474.72,452.75 L474.92,450.51 L475.12,448.30 L475.32,446.13 L475.52,444.01 L475.72,441.95 L475.92,439.97 L476.12,438.08 L476.32,436.28 L476.52,434.59 L476.72,433.02 L476.92,431.58 L477.12,430.28 L477.32,429.11 L477.52,428.10 L477.72,427.25 L477.92,426.55 L478.12,426.02 L478.32,425.66 L478.52,425.46 L478.72,425.44 L478.92,425.59 L479.12,425.91 L479.32,426.40 L479.52,427.06 L479.72,427.87 L479.92,428.85 L480.12,429.97 L480.32,431.24 L480.52,432.65 L480.72,434.19 L480.92,435.85 L481.12,437.62 L481.32,439.49 L481.52,441.45 L481.72,443.49 L481.92,445.59 L482.12,447.76 L482.32,449.96 L482.52,452.19 L482.72,454.44 L482.92,456.69 L483.12,458.93 L483.32,461.15 L483.52,463.33 L483.72,465.47 L483.92,467.54 L484.12,469.54 L484.32,471.46 L484.52,473.28 L484.72,474.99 L484.92,476.59 L485.12,478.07 L485.32,479.41 L485.52,480.61 L485.72,481.66 L485.92,482.56 L486.12,483.29 L486.32,483.86 L486.52,484.27 L486.72,484.50 L486.92,484.57 L487.12,484.46 L487.32,484.18 L487.52,483.74 L487.72,483.12 L487.91,482.35 L488.11,481.41 L488.31,480.32 L488.51,479.09 L488.71,477.71 L488.91,476.21 L489.11,474.58 L489.31,472.83 L489.51,470.99 L489.71,469.05 L489.91,467.03 L490.11,464.94 L490.31,462.79 L490.51,460.60 L490.71,458.37 L490.91,456.13 L491.11,453.87 L491.31,451.63 L491.51,449.40 L491.71,447.21 L491.91,445.06 L492.11,442.97 L492.31,440.95 L492.51,439.01 L492.71,437.17 L492.91,435.42 L493.11,433.79 L493.31,432.29 L493.51,430.91 L493.71,429.68 L493.91,428.59 L494.11,427.65 L494.31,426.88 L494.51,426.26 L494.71,425.82 L494.91,425.54 L495.11,425.43 L495.31,425.50 L495.51,425.73 L495.71,426.14 L495.91,426.71 L496.11,427.44 L496.31,428.34 L496.51,429.39 L496.71,430.59 L496.91,431.93 L497.11,433.41 L497.31,435.01 L497.51,436.72 L497.71,438.54 L497.91,440.46 L498.11,442.46 L498.31,444.53 L498.51,446.67 L498.71,448.85 L498.91,451.07 L499.11,453.31 L499.31,455.56 L499.51,457.81 L499.71,460.04 L499.91,462.24 L500.11,464.41 L500.31,466.51 L500.51,468.55 L500.71,470.51 L500.91,472.38 L501.10,474.15 L501.30,475.81 L501.50,477.35 L501.70,478.76 L501.90,480.03 L502.10,481.15 L502.30,482.13 L502.50,482.94 L502.70,483.60 L502.90,484.09 L503.10,484.41 L503.30,484.56 L503.50,484.54 L503.70,484.34 L503.90,483.98 L504.10,483.45 L504.30,482.75 L504.50,481.90 L504.70,480.89 L504.90,479.72 L505.10,478.42 L505.30,476.98 L505.50,475.41 L505.70,473.72 L505.90,471.92 L506.10,470.03 L506.30,468.05 L506.50,465.99 L506.70,463.87 L506.90,461.70 L507.10,459.49 L507.30,457.25 L507.50,455.00 L507.70,452.75 L507.90,450.51 L508.10,448.30 L508.30,446.13 L508.50,444.01 L508.70,441.95 L508.90,439.97 L509.10,438.08 L509.30,436.28 L509.50,434.59 L509.70,433.02 L509.90,431.58 L510.10,430.28 L510.30,429.11 L510.50,428.10 L510.70,427.25 L510.90,426.55 L511.10,426.02 L511.30,425.66 L511.50,425.46 L511.70,425.44 L511.90,425.59 L512.10,425.91 L512.30,426.40 L512.50,427.06 L512.70,427.87 L512.90,428.85 L513.10,429.97 L513.30,431.24 L513.50,432.65 L513.70,434.19 L513.90,435.85 L514.10,437.62 L514.29,439.49 L514.49,441.45 L514.69,443.49 L514.89,445.59 L515.09,447.76 L515.29,449.96 L515.49,452.19 L515.69,454.44 L515.89,456.69 L516.09,458.93 L516.29,461.15 L516.49,463.33 L516.69,465.47 L516.89,467.54 L517.09,469.54 L517.29,471.46 L517.49,473.28 L517.69,474.99 L517.89,476.59 L518.09,478.07 L518.29,479.41 L518.49,480.61 L518.69,481.66 L518.89,482.56 L519.09,483.29 L519.29,483.86 L519.49,484.27 L519.69,484.50 L519.89,484.57 L520.09,484.46 L520.29,484.18 L520.49,483.74 L520.69,483.12 L520.89,482.35 L521.09,481.41 L521.29,480.32 L521.49,479.09 L521.69,477.71 L521.89,476.21 L522.09,474.58 L522.29,472.83 L522.49,470.99 L522.69,469.05 L522.89,467.03 L523.09,464.94 L523.29,462.79 L523.49,460.60 L523.69,458.37 L523.89,456.13 L524.09,453.87 L524.29,451.63 L524.49,449.40 L524.69,447.21 L524.89,445.06 L525.09,442.97 L525.29,440.95 L525.49,439.01 L525.69,437.17 L525.89,435.42 L526.09,433.79 L526.29,432.29 L526.49,430.91 L526.69,429.68 L526.89,428.59 L527.09,427.65 L527.28,426.88 L527.48,426.26 L527.68,425.82 L527.88,425.54 L528.08,425.43 L528.28,425.50 L528.48,425.73 L528.68,426.14 L528.88,426.71 L529.08,427.44 L529.28,428.34 L529.48,429.39 L529.68,430.59 L529.88,431.93 L530.08,433.41 L530.28,435.01 L530.48,436.72 L530.68,438.54 L530.88,440.46 L531.08,442.46 L531.28,444.53 L531.48,446.67 L531.68,448.85 L531.88,451.07 L532.08,453.31 L532.28,455.56 L532.48,457.81 L532.68,460.04 L532.88,462.24 L533.08,464.41 L533.28,466.51 L533.48,468.55 L533.68,470.51 L533.88,472.38 L534.08,474.15 L534.28,475.81 L534.48,477.35 L534.68,478.76 L534.88,480.03 L535.08,481.15 L535.28,482.13 L535.48,482.94 L535.68,483.60 L535.88,484.09 L536.08,484.41 L536.28,484.56 L536.48,484.54 L536.68,484.34 L536.88,483.98 L537.08,483.45 L537.28,482.75 L537.48,481.90 L537.68,480.89 L537.88,479.72 L538.08,478.42 L538.28,476.98 L538.48,475.41 L538.68,473.72 L538.88,471.92 L539.08,470.03 L539.28,468.05 L539.48,465.99 L539.68,463.87 L539.88,461.70 L540.08,459.49 L540.28,457.25 L540.48,455.00 L540.67,452.75 L540.87,450.51 L541.07,448.30 L541.27,446.13 L541.47,444.01 L541.67,441.95 L541.87,439.97 L542.07,438.08 L542.27,436.28 L542.47,434.59 L542.67,433.02 L542.87,431.58 L543.07,430.28 L543.27,429.11 L543.47,428.10 L543.67,427.25 L543.87,426.55 L544.07,426.02 L544.27,425.66 L544.47,425.46 L544.67,425.44 L544.87,425.59 L545.07,425.91 L545.27,426.40 L545.47,427.06 L545.67,427.87 L545.87,428.85 L546.07,429.97 L546.27,431.24 L546.47,432.65 L546.67,434.19 L546.87,435.85 L547.07,437.62 L547.27,439.49 L547.47,441.45 L547.67,443.49 L547.87,445.59 L548.07,447.76 L548.27,449.96 L548.47,452.19 L548.67,454.44 L548.87,456.69 L549.07,458.93 L549.27,461.15 L549.47,463.33 L549.67,465.47 L549.87,467.54 L550.07,469.54 L550.27,471.46 L550.47,473.28 L550.67,474.99 L550.87,476.59 L551.07,478.07 L551.27,479.41 L551.47,480.61 L551.67,481.66 L551.87,482.56 L552.07,483.29 L552.27,483.86 L552.47,484.27 L552.67,484.50 L552.87,484.57 L553.07,484.46 L553.27,484.18 L553.47,483.74 L553.66,483.12 L553.86,482.35 L554.06,481.41 L554.26,480.32 L554.46,479.09 L554.66,477.71 L554.86,476.21 L555.06,474.58 L555.26,472.83 L555.46,470.99 L555.66,469.05 L555.86,467.03 L556.06,464.94 L556.26,462.79 L556.46,460.60 L556.66,458.37 L556.86,456.13 L557.06,453.87 L557.26,451.63 L557.46,449.40 L557.66,447.21 L557.86,445.06 L558.06,442.97 L558.26,440.95 L558.46,439.01 L558.66,437.17 L558.86,435.42 L559.06,433.79 L559.26,432.29 L559.46,430.91 L559.66,429.68 L559.86,428.59 L560.06,427.65 L560.26,426.88 L560.46,426.26 L560.66,425.82 L560.86,425.54 L561.06,425.43 L561.26,425.50 L561.46,425.73 L561.66,426.14 L561.86,426.71 L562.06,427.44 L562.26,428.34 L562.46,429.39 L562.66,430.59 L562.86,431.93 L563.06,433.41 L563.26,435.01 L563.46,436.72 L563.66,438.54 L563.86,440.46 L564.06,442.46 L564.26,444.53 L564.46,446.67 L564.66,448.85 L564.86,451.07 L565.06,453.31 L565.26,455.56 L565.46,457.81 L565.66,460.04 L565.86,462.24 L566.06,464.41 L566.26,466.51 L566.46,468.55 L566.66,470.51 L566.86,472.38 L567.05,474.15 L567.25,475.81 L567.45,477.35 L567.65,478.76 L567.85,480.03 L568.05,481.15 L568.25,482.13 L568.45,482.94 L568.65,483.60 L568.85,484.09 L569.05,484.41 L569.25,484.56 L569.45,484.54 L569.65,484.34 L569.85,483.98 L570.05,483.45 L570.25,482.75 L570.45,481.90 L570.65,480.89 L570.85,479.72 L571.05,478.42 L571.25,476.98 L571.45,475.41 L571.65,473.72 L571.85,471.92 L572.05,470.03 L572.25,468.05 L572.45,465.99 L572.65,463.87 L572.85,461.70 L573.05,459.49 L573.25,457.25 L573.45,455.00 L573.65,452.75 L573.85,450.51 L574.05,448.28 L574.25,446.07 L574.45,443.88 L574.65,441.73 L574.85,439.61 L575.05,437.54 L575.25,435.50 L575.45,433.51 L575.65,431.57 L575.85,429.69 L576.05,427.85 L576.25,426.07 L576.45,424.35 L576.65,422.69 L576.85,421.08 L577.05,419.54 L577.25,418.05 L577.45,416.63 L577.65,415.26 L577.85,413.96 L578.05,412.72 L578.25,411.54 L578.45,410.42 L578.65,409.36 L578.85,408.36 L579.05,407.41 L579.25,406.53 L579.45,405.70 L579.65,404.92 L579.85,404.21 L580.05,403.54 L580.24,402.93 L580.44,402.36 L580.64,401.85 L580.84,401.39 L581.04,400.98 L581.24,400.61 L581.44,400.28 L581.64,400.00 L581.84,399.77 L582.04,399.57 L582.24,399.42 L582.44,399.30 L582.64,399.22 L582.84,399.18 L583.04,399.17 L583.24,399.19 L583.44,399.25 L583.64,399.34 L583.84,399.45 L584.04,399.60 L584.24,399.77 L584.44,399.97 L584.64,400.20 L584.84,400.45 L585.04,400.72 L585.24,401.01 L585.44,401.33 L585.64,401.66 L585.84,402.01 L586.04,402.38 L586.24,402.77 L586.44,403.17 L586.64,403.59 L586.84,404.02 L587.04,404.47 L587.24,404.92 L587.44,405.39 L587.64,405.87 L587.84,406.36 L588.04,406.86 L588.24,407.36 L588.44,407.88 L588.64,408.40 L588.84,408.92 L589.04,409.46 L589.24,410.00 L589.44,410.54 L589.64,411.08 L589.84,411.63 L590.04,412.19 L590.24,412.74 L590.44,413.30 L590.64,413.86 L590.84,414.42 L591.04,414.98 L591.24,415.54 L591.44,416.10 L591.64,416.66 L591.84,417.22 L592.04,417.78 L592.24,418.33 L592.44,418.89 L592.64,419.44 L592.84,419.99 L593.04,420.54 L593.24,421.08 L593.43,421.62 L593.63,422.16 L593.83,422.69 L594.03,423.22 L594.23,423.75 L594.43,424.27 L594.63,424.79 L594.83,425.30 L595.03,425.81 L595.23,426.32 L595.43,426.81 L595.63,427.31 L595.83,427.80 L596.03,428.28 L596.23,428.76 L596.43,429.23 L596.63,429.70 L596.83,430.16 L597.03,430.62 L597.23,431.07 L597.43,431.52 L597.63,431.96 L597.83,432.39 L598.03,432.82 L598.23,433.24 L598.43,433.66 L598.63,434.07 L598.83,434.48 L599.03,434.88 L599.23,435.27 L599.43,435.66 L599.63,436.04 L599.83,436.42 L600.03,436.79 L600.23,437.15 L600.43,437.51 L600.63,437.87 L600.83,438.22 L601.03,438.56 L601.23,438.90 L601.43,439.23 L601.63,439.55 L601.83,439.87 L602.03,440.19 L602.23,440.50 L602.43,440.80 L602.63,441.10 L602.83,441.40 L603.03,441.68 L603.23,441.97 L603.43,442.25 L603.63,442.52 L603.83,442.79 L604.03,443.05 L604.23,443.31 L604.43,443.56 L604.63,443.81 L604.83,444.06 L605.03,444.30 L605.23,444.53 L605.43,444.77 L605.63,444.99 L605.83,445.21 L606.03,445.43 L606.23,445.65 L606.43,445.86 L606.62,446.06 L606.82,446.26 L607.02,446.46 L607.22,446.65 L607.42,446.84 L607.62,447.03 L607.82,447.21 L608.02,447.39 L608.22,447.56 L608.42,447.73 L608.62,447.90 L608.82,448.06 L609.02,448.22 L609.22,448.38 L609.42,448.54 L609.62,448.69 L609.82,448.83 L610.02,448.98 L610.22,449.12 L610.42,449.26 L610.62,449.39 L610.82,449.53 L611.02,449.65 L611.22,449.78 L611.42,449.91 L611.62,450.03 L611.82,450.15 L612.02,450.26 L612.22,450.37 L612.42,450.49 L612.62,450.59 L612.82,450.70 L613.02,450.80 L613.22,450.91 L613.42,451.00 L613.62,451.10 L613.82,451.20 L614.02,451.29 L614.22,451.38 L614.42,451.47 L614.62,451.55 L614.82,451.64 L615.02,451.72 L615.22,451.80 L615.42,451.88 L615.62,451.96 L615.82,452.03 L616.02,452.11 L616.22,452.18 L616.42,452.25 L616.62,452.32 L616.82,452.38 L617.02,452.45 L617.22,452.51 L617.42,452.57 L617.62,452.63 L617.82,452.69 L618.02,452.75 L618.22,452.81 L618.42,452.86 L618.62,452.92 L618.82,452.97 L619.02,453.02 L619.22,453.07 L619.42,453.12 L619.62,453.17 L619.81,453.21 L620.01,453.26 L620.21,453.30 L620.41,453.35 L620.61,453.39 L620.81,453.43 L621.01,453.47 L621.21,453.51 L621.41,453.55 L621.61,453.59 L621.81,453.62 L622.01,453.66 L622.21,453.69 L622.41,453.73 L622.61,453.76 L622.81,453.79 L623.01,453.82 L623.21,453.85 L623.41,453.88 L623.61,453.91 L623.81,453.94 L624.01,453.97 L624.21,453.99 L624.41,454.02 L624.61,454.05 L624.81,454.07 L625.01,454.10 L625.21,454.12 L625.41,454.14 L625.61,454.16 L625.81,454.19 L626.01,454.21 L626.21,454.23 L626.41,454.25 L626.61,454.27 L626.81,454.29 L627.01,454.31 L627.21,454.33 L627.41,454.34 L627.61,454.36 L627.81,454.38 L628.01,454.39 L628.21,454.41 L628.41,454.43 L628.61,454.44 L628.81,454.46 L629.01,454.47 L629.21,454.48 L629.41,454.50 L629.61,454.51 L629.81,454.52 L630.01,454.54 L630.21,454.55 L630.41,454.56 L630.61,454.57 L630.81,454.59 L631.01,454.60 L631.21,454.61 L631.41,454.62 L631.61,454.63 L631.81,454.64 L632.01,454.65 L632.21,454.66 L632.41,454.67 L632.61,454.68 L632.81,454.68 L633.00,454.69 L633.20,454.70 L633.40,454.71 L633.60,454.72 L633.80,454.72 L634.00,454.73 L634.20,454.74 L634.40,454.75 L634.60,454.75 L634.80,454.76 L635.00,454.77 L635.20,454.77 L635.40,454.78 L635.60,454.79 L635.80,454.79 L636.00,454.80 L636.20,454.80 L636.40,454.81 L636.60,454.81 L636.80,454.82 L637.00,454.82 L637.20,454.83 L637.40,454.83 L637.60,454.84 L637.80,454.84 L638.00,454.85 L638.20,454.85 L638.40,454.85 L638.60,454.86 L638.80,454.86 L639.00,454.87 L639.20,454.87 L639.40,454.87"/>
<path class="ax" d="M375.50,391.00 L375.50,522.00 L636.00,522.00"/>
<path fill="#000" d="M375.50,387.80 L378.40,392.70 L375.50,391.60 L372.60,392.70 Z"/>
<path fill="#000" d="M639.20,522.00 L634.30,519.10 L635.40,522.00 L634.30,524.90 Z"/>
</g>
<text x="125.6" y="11.9" transform="rotate(0.03 125.6 11.9)" font-size="16.8" font-style="italic" textLength="10.4" lengthAdjust="spacingAndGlyphs">L</text>
<text x="136.6" y="14.4" transform="rotate(0.03 136.6 14.4)" font-size="12">2</text>
<text x="150.60" y="11.90" transform="rotate(0.03 150.60 11.90)" font-size="16.8" textLength="51.70" lengthAdjust="spacingAndGlyphs">Fourier</text>
<text x="210.10" y="11.90" transform="rotate(0.03 210.10 11.90)" font-size="16.8" textLength="62.70" lengthAdjust="spacingAndGlyphs">Features</text>
<text x="419.10" y="14.40" transform="rotate(0.03 419.10 14.40)" font-size="16.8" textLength="47.60" lengthAdjust="spacingAndGlyphs">RKHS</text>
<text x="474.60" y="14.40" transform="rotate(0.03 474.60 14.40)" font-size="16.8" textLength="51.40" lengthAdjust="spacingAndGlyphs">Fourier</text>
<text x="534.10" y="14.40" transform="rotate(0.03 534.10 14.40)" font-size="16.8" textLength="62.40" lengthAdjust="spacingAndGlyphs">Features</text>
<text x="129.00" y="539.0" transform="rotate(0.03 129.00 539.0)" font-size="17.2" textLength="8.7" lengthAdjust="spacingAndGlyphs">a</text>
<text x="261.00" y="543.3" transform="rotate(0.03 261.00 543.3)" font-size="16.8" textLength="9.2" lengthAdjust="spacingAndGlyphs">b</text>
<text x="437.60" y="539.0" transform="rotate(0.03 437.60 539.0)" font-size="17.2" textLength="8.7" lengthAdjust="spacingAndGlyphs">a</text>
<text x="569.55" y="543.3" transform="rotate(0.03 569.55 543.3)" font-size="16.8" textLength="9.2" lengthAdjust="spacingAndGlyphs">b</text>
<text x="194.4" y="558.9" transform="rotate(0.03 194.4 558.9)" font-size="18" font-style="italic" textLength="8.6" lengthAdjust="spacingAndGlyphs">x</text>
<text x="502.9" y="558.9" transform="rotate(0.03 502.9 558.9)" font-size="18" font-style="italic" textLength="8.6" lengthAdjust="spacingAndGlyphs">x</text>
<g transform="translate(16.7,99.35) rotate(-90)">
<text x="-33.3" y="0" font-size="16.6" textLength="59.8" lengthAdjust="spacingAndGlyphs">Matérn-</text>
<text x="33.1" y="-7.0" font-size="11.8" text-anchor="middle">1</text>
<line x1="29.7" y1="-4.3" x2="36.4" y2="-4.3" stroke="#000" stroke-width="0.8"/>
<text x="33.2" y="5.7" font-size="11.8" text-anchor="middle">2</text>
</g>
<g transform="translate(16.7,278.22) rotate(-90)">
<text x="-33.3" y="0" font-size="16.6" textLength="59.8" lengthAdjust="spacingAndGlyphs">Matérn-</text>
<text x="33.1" y="-7.0" font-size="11.8" text-anchor="middle">3</text>
<line x1="29.7" y1="-4.3" x2="36.4" y2="-4.3" stroke="#000" stroke-width="0.8"/>
<text x="33.2" y="5.7" font-size="11.8" text-anchor="middle">2</text>
</g>
<g transform="translate(16.7,457.20) rotate(-90)">
<text x="-33.3" y="0" font-size="16.6" textLength="59.8" lengthAdjust="spacingAndGlyphs">Matérn-</text>
<text x="33.1" y="-7.0" font-size="11.8" text-anchor="middle">5</text>
<line x1="29.7" y1="-4.3" x2="36.4" y2="-4.3" stroke="#000" stroke-width="0.8"/>
<text x="33.2" y="5.7" font-size="11.8" text-anchor="middle">2</text>
</g>
</svg>
</body></html>
